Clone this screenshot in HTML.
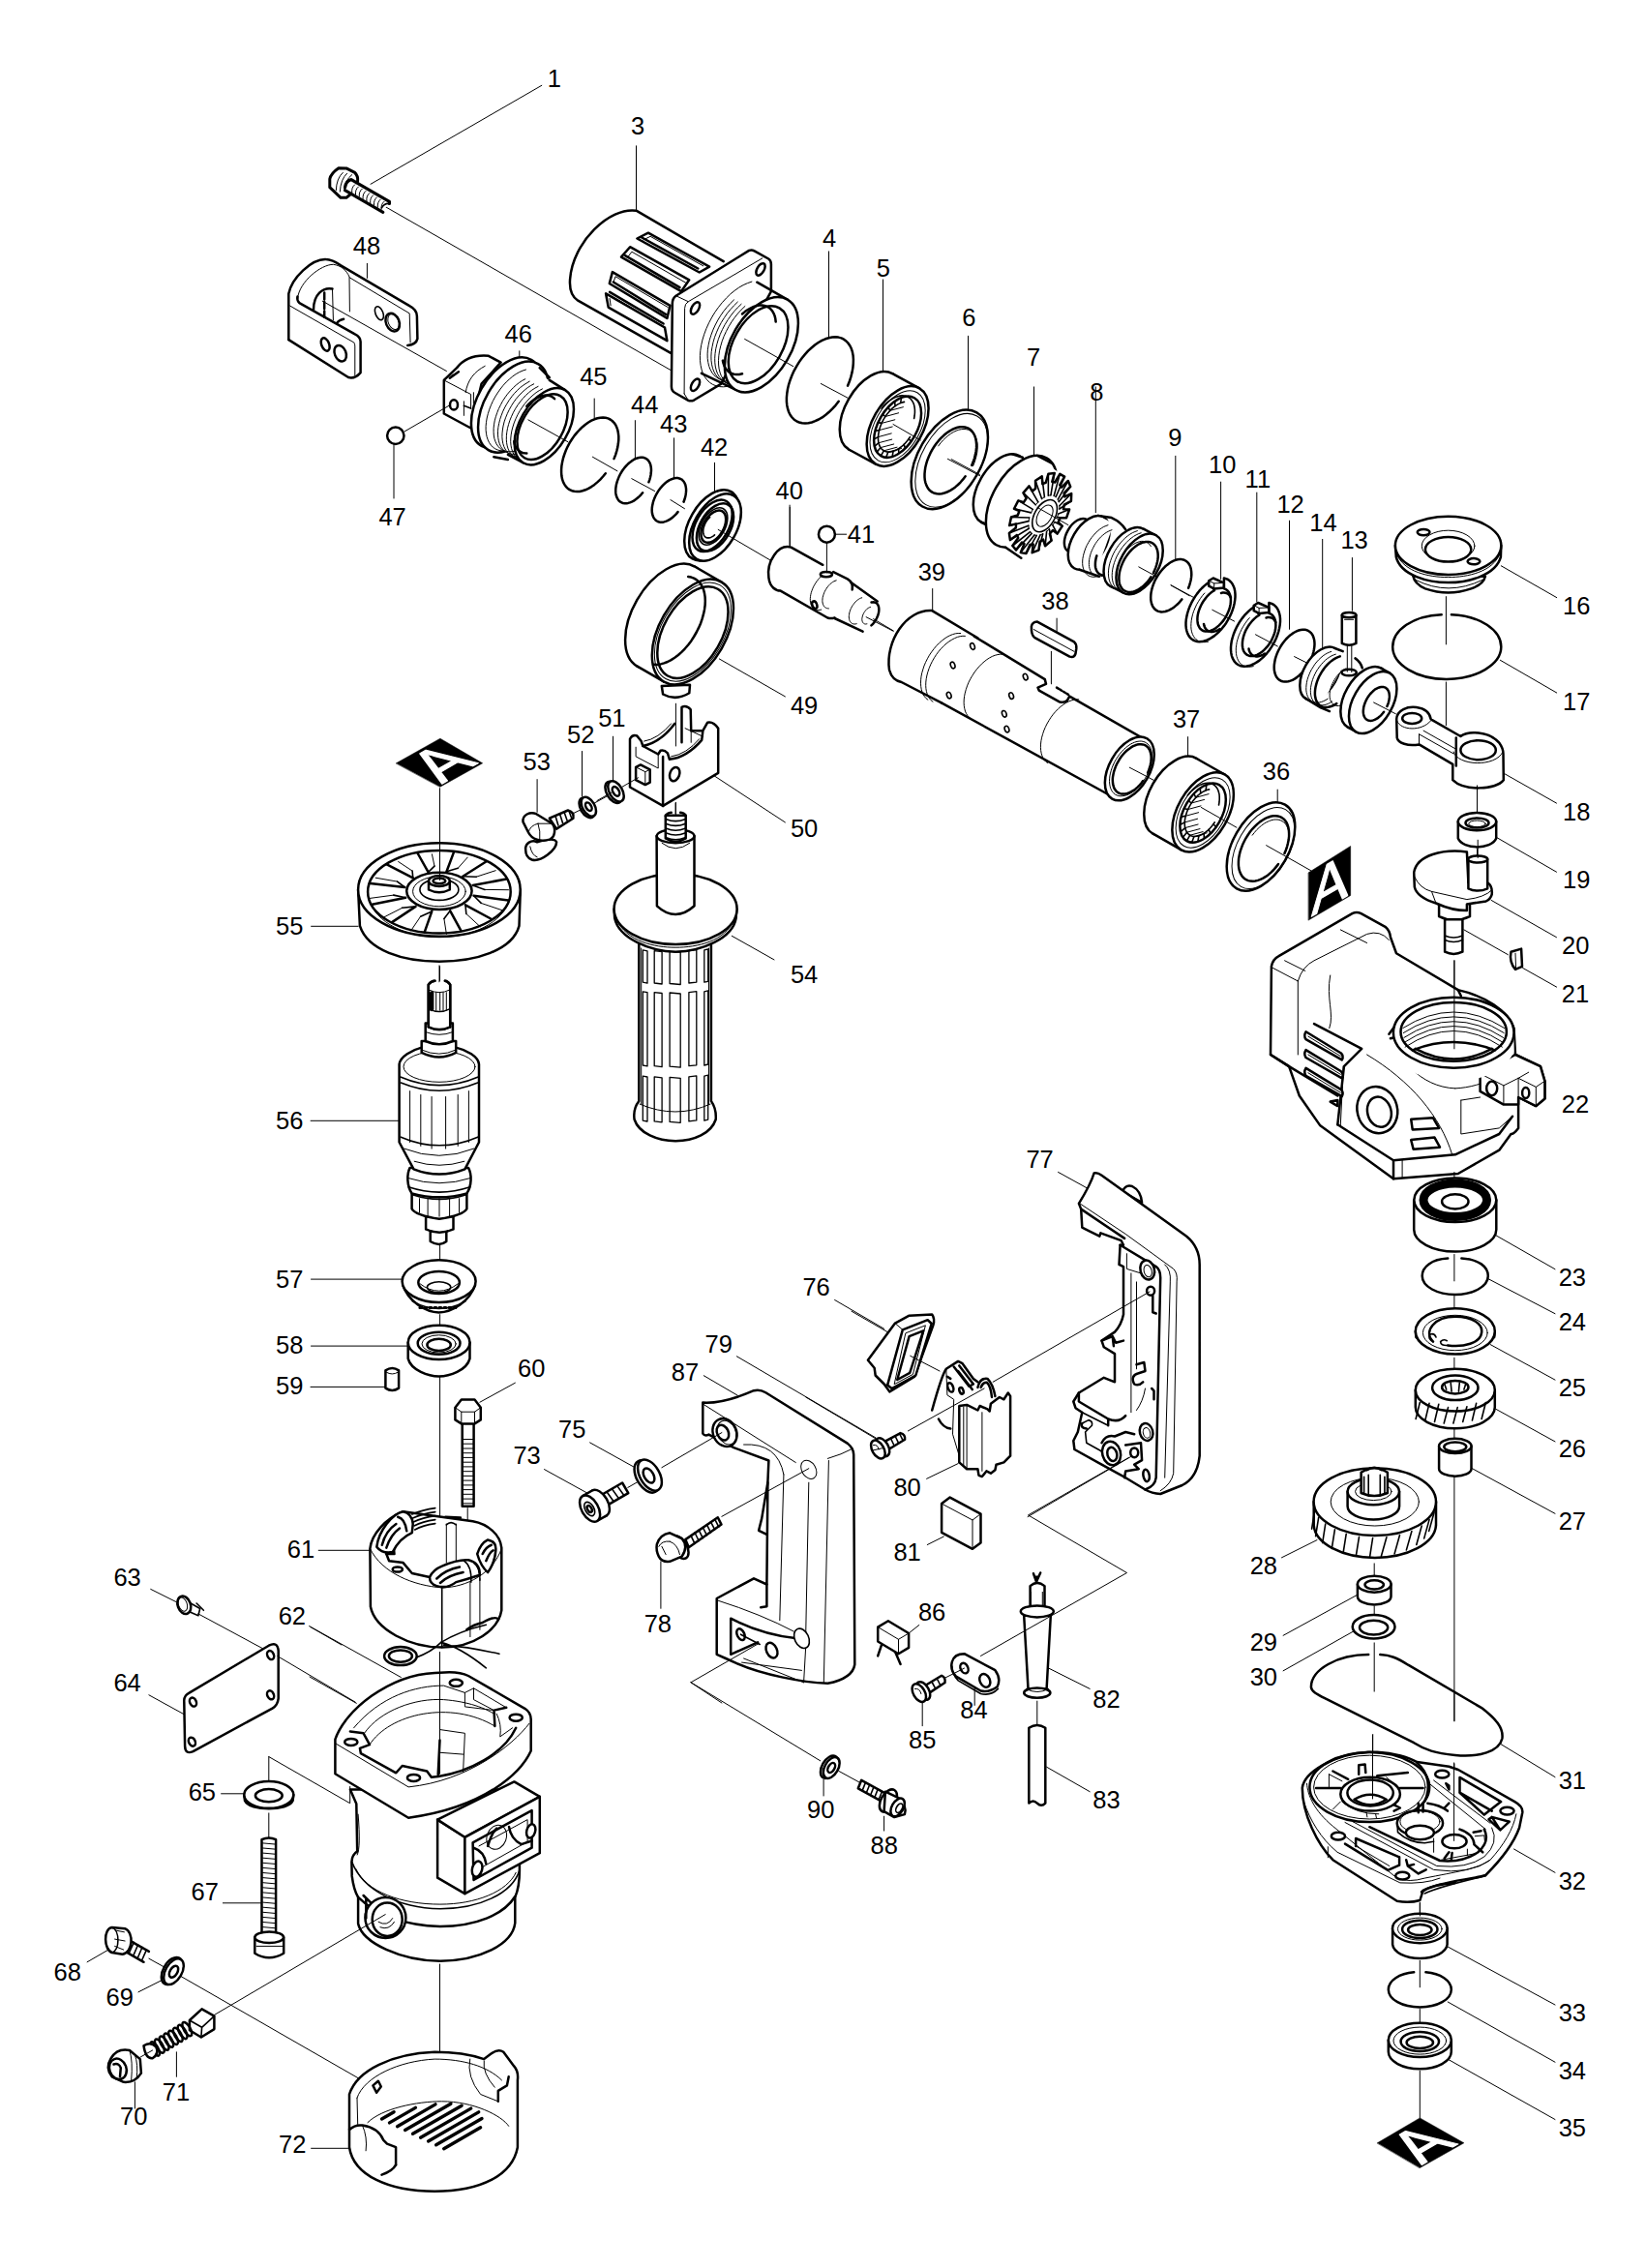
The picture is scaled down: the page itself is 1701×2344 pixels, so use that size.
<!DOCTYPE html>
<html><head><meta charset="utf-8"><title>Parts diagram</title>
<style>html,body{margin:0;padding:0;background:#fff}svg{display:block}text{font-family:"Liberation Sans",sans-serif;font-size:25.5px;fill:#000}</style>
</head><body>
<svg width="1701" height="2344" viewBox="0 0 1701 2344" stroke-linecap="round" stroke-linejoin="round">
<rect x="0" y="0" width="1701" height="2344" fill="#fff"/>
<line x1="657.5" y1="150.8" x2="657.5" y2="217.3" stroke="#000" stroke-width="1"/>
<path d="M 747.7,270.2 L 657.5,217.7 C 630.1,213.7 591.9,250.1 589.1,288.4 C 588.2,299.4 591,306.6 597.3,310.7 L 695.8,366.4" fill="#fff" stroke="#000" stroke-width="2.5" />
<polygon points="658.4,246.5 669.9,240.7 733.1,275.7 722.7,281.5" fill="#fff" stroke="#000" stroke-width="2.5" stroke-linejoin="round"/>
<polyline points="662.4,245 721.3,277.5" fill="none" stroke="#000" stroke-width="2.5" stroke-linejoin="round"/>
<polygon points="642,265.6 651.1,255.2 712.2,289.3 704,301.2" fill="#fff" stroke="#000" stroke-width="2.5" stroke-linejoin="round"/>
<polyline points="646,264.2 702.5,297.2" fill="none" stroke="#000" stroke-width="2.5" stroke-linejoin="round"/>
<polygon points="629.8,293 632.9,281.1 692.5,315.8 689.4,328.9" fill="#fff" stroke="#000" stroke-width="2.5" stroke-linejoin="round"/>
<polyline points="633.8,291.5 687.9,324.9" fill="none" stroke="#000" stroke-width="2.5" stroke-linejoin="round"/>
<polygon points="626.1,303.4 628.7,317.6 689.4,352.2 687,338.5" fill="#fff" stroke="#000" stroke-width="2.5" stroke-linejoin="round"/>
<polyline points="630.1,301.9 685.6,334.5" fill="none" stroke="#000" stroke-width="2.5" stroke-linejoin="round"/>
<polyline points="664.8,248 672.1,244.3 726.7,274.8" fill="none" stroke="#000" stroke-width="1" stroke-linejoin="round"/>
<polyline points="648.4,266.2 652.9,260.2 708.5,292.1" fill="none" stroke="#000" stroke-width="1" stroke-linejoin="round"/>
<polyline points="634.2,291.2 636,285.7 690.3,317.6" fill="none" stroke="#000" stroke-width="1" stroke-linejoin="round"/>
<polyline points="630.1,308.5 631.1,315.8" fill="none" stroke="#000" stroke-width="1" stroke-linejoin="round"/>
<line x1="632.9" y1="306.6" x2="687.6" y2="338.5" stroke="#000" stroke-width="1"/>
<path d="M 796.9,301.2 L 796.9,272.9 Q 796.9,269.3 794.2,267.5 L 779.6,259.3 Q 776.9,257.8 774.1,258.9 L 698.5,305.7 Q 694.8,308.5 694.8,313.9 L 693.9,399.6 Q 693.9,404.2 697.6,406 L 711.3,413.8 Q 714,415.1 717.6,413.3 L 745,396.9 L 796.9,301.2 Z" fill="#fff" stroke="#000" stroke-width="2.5" />
<path d="M 787.8,266.9 L 711.3,311.7 Q 707.6,313.9 707.6,318.5 L 707.1,406.9" fill="none" stroke="#000" stroke-width="1" />
<line x1="707.1" y1="406.9" x2="711.3" y2="413.8" stroke="#000" stroke-width="1"/>
<line x1="711.3" y1="311.7" x2="698.5" y2="305.7" stroke="#000" stroke-width="1"/>
<ellipse cx="786" cy="278.4" rx="6.9" ry="3.6" fill="#fff" stroke="#000" stroke-width="2.5" transform="rotate(-60 786 278.4)"/>
<ellipse cx="718.5" cy="318.5" rx="6.9" ry="3.6" fill="#fff" stroke="#000" stroke-width="2.5" transform="rotate(-60 718.5 318.5)"/>
<ellipse cx="718.5" cy="397.8" rx="6.9" ry="3.6" fill="#fff" stroke="#000" stroke-width="2.5" transform="rotate(-60 718.5 397.8)"/>
<polyline points="790.3,371.1 786.5,376 782.5,380.6 778.2,384.8 773.9,388.6 769.4,391.8 764.9,394.6 760.5,396.8 756,398.4 751.7,399.4 747.6,399.8 743.7,399.6 740,398.8 736.6,397.4 733.5,395.4 730.8,392.8 728.4,389.7 726.5,386.2 725.1,382.1 724.1,377.6 723.5,372.8 723.4,367.7 723.8,362.3 724.7,356.7 726,351 727.8,345.2 730,339.4 732.6,333.7 735.6,328 738.9,322.6 742.5,317.5 746.4,312.6 750.5,308.1 754.7,304 759.1,300.4 763.6,297.2 768.1,294.6 772.6,292.6 776.9,291.1" fill="none" stroke="#000" stroke-width="1" stroke-linejoin="round"/>
<polyline points="783.7,375.3 780,379.1 776.2,382.6 772.3,385.6 768.4,388.2 764.4,390.2 760.5,391.8 756.7,392.9 753,393.4 749.5,393.3 746.2,392.7 743.1,391.6 740.4,389.9 737.9,387.8 735.8,385.1 734.1,382 732.7,378.5 731.8,374.6 731.2,370.4 731.1,365.9 731.4,361.2 732.2,356.3 733.3,351.3 734.9,346.2 736.8,341.1 739.1,336 741.7,331.1 744.6,326.3 747.8,321.7 751.2,317.5 754.8,313.5 758.5,309.9" fill="none" stroke="#000" stroke-width="1" stroke-linejoin="round"/>
<polyline points="787.5,377.5 783.8,381.3 780,384.8 776.1,387.8 772.2,390.4 768.2,392.4 764.3,394 760.5,395 756.8,395.5 753.3,395.5 750,394.9 746.9,393.8 744.2,392.1 741.7,390 739.6,387.3 737.9,384.2 736.5,380.7 735.6,376.8 735,372.6 734.9,368.1 735.2,363.4 736,358.5 737.1,353.4 738.6,348.3 740.6,343.2 742.8,338.2 745.4,333.3 748.4,328.5 751.5,323.9 755,319.7 758.6,315.7 762.3,312.1" fill="none" stroke="#000" stroke-width="1" stroke-linejoin="round"/>
<polyline points="791.3,379.7 787.6,383.5 783.8,387 779.9,390 776,392.5 772,394.6 768.1,396.2 764.3,397.2 760.6,397.7 757.1,397.7 753.8,397.1 750.7,396 747.9,394.3 745.5,392.1 743.4,389.5 741.6,386.4 740.3,382.9 739.3,379 738.8,374.8 738.7,370.3 739,365.6 739.7,360.7 740.9,355.6 742.4,350.5 744.3,345.4 746.6,340.4 749.2,335.4 752.1,330.7 755.3,326.1 758.7,321.8 762.3,317.9 766.1,314.3" fill="none" stroke="#000" stroke-width="1" stroke-linejoin="round"/>
<polyline points="795.1,381.9 791.4,385.7 787.6,389.2 783.7,392.2 779.8,394.7 775.8,396.8 771.9,398.4 768.1,399.4 764.4,399.9 760.9,399.9 757.6,399.3 754.5,398.1 751.7,396.5 749.3,394.3 747.2,391.7 745.4,388.6 744.1,385.1 743.1,381.2 742.6,377 742.5,372.5 742.8,367.8 743.5,362.8 744.7,357.8 746.2,352.7 748.1,347.6 750.4,342.6 753,337.6 755.9,332.9 759.1,328.3 762.5,324 766.1,320.1 769.9,316.5" fill="none" stroke="#000" stroke-width="1" stroke-linejoin="round"/>
<path d="M 782.3,291.7 L 813.7,309.7" fill="none" stroke="#000" stroke-width="2.5" />
<path d="M 724.9,385.9 L 760.1,402.7" fill="none" stroke="#000" stroke-width="2.5" />
<ellipse cx="786.9" cy="356.2" rx="53.8" ry="31" fill="#fff" stroke="#000" stroke-width="2.5" transform="rotate(-60 786.9 356.2)"/>
<ellipse cx="783.6" cy="356.2" rx="43.7" ry="25.2" fill="#fff" stroke="#000" stroke-width="2.5" transform="rotate(-60 783.6 356.2)"/>
<polyline points="767,324.5 769.9,322.1 772.9,320 776,318.3 778.9,317 781.9,316.1 784.7,315.6 787.5,315.6 790,315.9 792.4,316.7 794.6,317.9 796.5,319.5 798.1,321.4 799.5,323.8 800.6,326.4 801.3,329.4 801.7,332.6" fill="none" stroke="#000" stroke-width="2.5" stroke-linejoin="round"/>
<polyline points="767,386.3 764,386.9 761.1,387.1 758.4,386.7 756,385.9 753.7,384.7 751.7,383 750,381 748.6,378.5 747.6,375.7 746.9,372.6" fill="none" stroke="#000" stroke-width="2.5" stroke-linejoin="round"/>
<line x1="769.6" y1="350.4" x2="819.7" y2="378.6" stroke="#000" stroke-width="1"/>
<line x1="559.8" y1="88.3" x2="383" y2="190.3" stroke="#000" stroke-width="1"/>
<line x1="397.6" y1="213.3" x2="692.9" y2="382.4" stroke="#000" stroke-width="1"/>
<path d="M 340.8,185 Q 341.9,179.2 349.9,173.7 L 357.9,173.9 L 366.7,178.4 Q 370.3,182.1 369.6,187.2 L 361.9,201 L 357.9,204.3 L 352.1,204.3 L 340.8,193.7 Z" fill="#fff" stroke="#000" stroke-width="3" />
<path d="M 354.3,178.4 Q 347.7,184.3 347.3,196.7 M 358.6,179.2 Q 352.1,185 351.3,198.1 M 363.7,180.6 Q 356.5,186.5 355.7,195.2" fill="none" stroke="#000" stroke-width="1" />
<path d="M 363,185.7 L 402.4,208.3 L 395.8,219.3 L 356.5,196.7 Q 356.5,189.4 363,185.7 Z" fill="#fff" stroke="#000" stroke-width="0" />
<path d="M 356.5,193.7 Q 357.9,186.5 363,185.7 L 402.4,208.3 L 402.4,210.5 M 356.5,196.7 L 395.8,219.3" fill="none" stroke="#000" stroke-width="3.2" />
<path d="M 366.7,190.8 Q 363,193.7 363.7,198.8" fill="none" stroke="#000" stroke-width="1" />
<path d="M 370.4,193 Q 366.8,195.9 367.5,201" fill="none" stroke="#000" stroke-width="1" />
<path d="M 374.2,195.2 Q 370.6,198.1 371.3,203.2" fill="none" stroke="#000" stroke-width="1" />
<path d="M 378,197.4 Q 374.4,200.3 375.1,205.4" fill="none" stroke="#000" stroke-width="1" />
<path d="M 381.8,199.6 Q 378.2,202.5 378.9,207.6" fill="none" stroke="#000" stroke-width="1" />
<path d="M 385.6,201.8 Q 382,204.7 382.7,209.8" fill="none" stroke="#000" stroke-width="1" />
<path d="M 389.4,203.9 Q 385.8,206.9 386.5,212" fill="none" stroke="#000" stroke-width="1" />
<path d="M 393.2,206.1 Q 389.6,209.1 390.3,214.2" fill="none" stroke="#000" stroke-width="1" />
<path d="M 397,208.3 Q 393.3,211.2 394.1,216.3" fill="none" stroke="#000" stroke-width="1" />
<path d="M 402.4,210.5 Q 397.3,209.8 394.4,214.9" fill="none" stroke="#000" stroke-width="1.6" />
<line x1="536.8" y1="362.8" x2="536.8" y2="370.1" stroke="#000" stroke-width="1"/>
<path d="M 517.6,374.7 L 504.9,367.8 C 490.3,366.5 479.4,371 472.1,380.1 L 458.8,392.9 L 458.8,427.5 L 486.6,442.5 L 497.6,396.5 Z" fill="#fff" stroke="#000" stroke-width="2.5" />
<path d="M 458.8,392.9 L 486.6,407.5 L 486.6,422.1" fill="none" stroke="#000" stroke-width="1" />
<path d="M 464.8,390.7 L 473.9,384.2 M 464.8,390.7 L 468.4,387.8" fill="none" stroke="#000" stroke-width="2.5" />
<ellipse cx="469" cy="418.4" rx="4" ry="5.1" fill="#fff" stroke="#000" stroke-width="2.5"/>
<path d="M 481.2,405.7 C 483,392.9 490.3,383.8 501.2,378.3" fill="none" stroke="#000" stroke-width="1" />
<path d="M 479.4,414.8 L 479.4,429.4 M 489.4,405.7 L 489.4,416.6" fill="none" stroke="#000" stroke-width="1" />
<path d="M 479.4,419.3 L 486.6,422.1" fill="none" stroke="#000" stroke-width="1.6" />
<ellipse cx="523.3" cy="416.4" rx="51.4" ry="29.7" fill="#fff" stroke="#000" stroke-width="2.5" transform="rotate(-60 523.3 416.4)"/>
<ellipse cx="530.4" cy="420.6" rx="51.4" ry="29.7" fill="#fff" stroke="#000" stroke-width="2.5" transform="rotate(-60 530.4 420.6)"/>
<polyline points="526.4,465.1 523.2,465.7 520,465.9 517,465.7 514.3,465 511.7,463.8 509.4,462.2 507.4,460.1 505.7,457.7 504.3,454.8 503.2,451.7 502.5,448.2 502.1,444.5 502.1,440.5 502.5,436.3 503.2,432 504.3,427.6 505.7,423.2 507.4,418.8 509.4,414.4 511.7,410.1 514.3,406 517.1,402 520,398.3 523.2,394.9 526.5,391.8 529.8,389 533.2,386.6 536.7,384.6 540.1,383.1 543.5,382" fill="none" stroke="#000" stroke-width="1" stroke-linejoin="round"/>
<path d="M 584,403.1 L 552.3,383.8 L 510.3,458.5 L 540.6,478.2 Z" fill="#fff" stroke="#000" stroke-width="0" />
<path d="M 557.7,380.1 L 567.8,390.2 M 567.8,392.9 L 584,403.1 M 524.9,469.8 L 540.6,478.2 M 510.3,472.2 L 524.9,474.9" fill="none" stroke="#000" stroke-width="2.5" />
<polyline points="548,457 544.9,459.6 541.7,461.8 538.5,463.6 535.3,465.1 532.2,466.1 529.2,466.7 526.3,466.8 523.5,466.5 521,465.8 518.6,464.7 516.5,463.2 514.7,461.2 513.1,458.9 511.9,456.2 510.9,453.3 510.3,450 510.1,446.5 510.1,442.8 510.5,438.9 511.2,434.9 512.3,430.8 513.7,426.7 515.3,422.6 517.3,418.6 519.4,414.6 521.9,410.8 524.5,407.2 527.3,403.9 530.3,400.8 533.3,398 536.5,395.5 539.6,393.4 542.8,391.7" fill="none" stroke="#000" stroke-width="1" stroke-linejoin="round"/>
<polyline points="552.4,459.6 549.3,462.1 546.1,464.3 542.9,466.2 539.8,467.6 536.6,468.6 533.6,469.2 530.7,469.4 528,469.1 525.4,468.4 523.1,467.3 521,465.7 519.1,463.8 517.6,461.5 516.3,458.8 515.4,455.8 514.8,452.6 514.5,449.1 514.5,445.3 514.9,441.5 515.7,437.5 516.7,433.4 518.1,429.3 519.7,425.2 521.7,421.1 523.9,417.2 526.3,413.4 528.9,409.8 531.7,406.4 534.7,403.3 537.7,400.5 540.9,398.1 544.1,396 547.2,394.2" fill="none" stroke="#000" stroke-width="1" stroke-linejoin="round"/>
<polyline points="556.8,462.1 553.7,464.7 550.5,466.9 547.3,468.7 544.2,470.2 541.1,471.2 538,471.8 535.1,471.9 532.4,471.6 529.8,470.9 527.5,469.8 525.4,468.3 523.5,466.3 522,464 520.7,461.3 519.8,458.4 519.2,455.1 518.9,451.6 519,447.9 519.4,444 520.1,440 521.1,435.9 522.5,431.8 524.2,427.7 526.1,423.7 528.3,419.7 530.7,415.9 533.3,412.3 536.1,409 539.1,405.9 542.2,403.1 545.3,400.6 548.5,398.5 551.7,396.8" fill="none" stroke="#000" stroke-width="1" stroke-linejoin="round"/>
<polyline points="561.2,464.7 558.1,467.2 555,469.5 551.8,471.3 548.6,472.7 545.5,473.7 542.5,474.3 539.6,474.5 536.8,474.2 534.2,473.5 531.9,472.4 529.8,470.8 527.9,468.9 526.4,466.6 525.1,463.9 524.2,460.9 523.6,457.7 523.3,454.2 523.4,450.4 523.8,446.6 524.5,442.6 525.6,438.5 526.9,434.4 528.6,430.3 530.5,426.2 532.7,422.3 535.1,418.5 537.8,414.9 540.6,411.5 543.5,408.4 546.6,405.6 549.7,403.2 552.9,401.1 556.1,399.4" fill="none" stroke="#000" stroke-width="1" stroke-linejoin="round"/>
<polyline points="565.7,467.2 562.5,469.8 559.4,472 556.2,473.8 553,475.3 549.9,476.3 546.9,476.9 544,477 541.2,476.8 538.7,476 536.3,474.9 534.2,473.4 532.4,471.4 530.8,469.1 529.6,466.4 528.6,463.5 528,460.2 527.7,456.7 527.8,453 528.2,449.1 528.9,445.1 530,441 531.3,436.9 533,432.8 534.9,428.8 537.1,424.8 539.6,421 542.2,417.4 545,414.1 547.9,411 551,408.2 554.1,405.7 557.3,403.6 560.5,401.9" fill="none" stroke="#000" stroke-width="1" stroke-linejoin="round"/>
<ellipse cx="562.3" cy="440.7" rx="43.4" ry="25" fill="#fff" stroke="#000" stroke-width="2.5" transform="rotate(-60 562.3 440.7)"/>
<ellipse cx="560.5" cy="441.2" rx="37" ry="21.3" fill="#fff" stroke="#000" stroke-width="2.5" transform="rotate(-60 560.5 441.2)"/>
<polyline points="544.3,419.9 546.6,417.4 549,415.3 551.4,413.4 553.9,411.8 556.4,410.5 558.9,409.5 561.3,408.9 563.6,408.5 565.8,408.6 567.9,409 569.8,409.7 571.5,410.8 573.1,412.1" fill="none" stroke="#000" stroke-width="2.5" stroke-linejoin="round"/>
<polyline points="544.3,468.4 542.1,468.3 540,467.9 538.2,467.1 536.5,466.1 535,464.7 533.7,463 532.6,461 531.8,458.8 531.2,456.3" fill="none" stroke="#000" stroke-width="2.5" stroke-linejoin="round"/>
<line x1="545.9" y1="433.9" x2="586.9" y2="456.7" stroke="#000" stroke-width="1"/>
<ellipse cx="408.8" cy="450.3" rx="8.7" ry="8.7" fill="#fff" stroke="#000" stroke-width="2.5"/>
<line x1="418.3" y1="445.8" x2="464.8" y2="418.8" stroke="#000" stroke-width="1"/>
<line x1="407" y1="459.4" x2="407" y2="515" stroke="#000" stroke-width="1"/>
<polyline points="625.8,489.2 623.1,492.5 620.3,495.6 617.3,498.4 614.3,500.9 611.2,503.1 608.1,504.9 605,506.3 602,507.3 599,507.9 596.2,508.1 593.5,507.8 591,507.2 588.7,506.1 586.6,504.7 584.8,502.8 583.3,500.6 582,498.1 581,495.2 580.4,492.1 580.1,488.7 580.1,485.1 580.4,481.4 581.1,477.5 582,473.5 583.3,469.5 584.8,465.5 586.6,461.6 588.7,457.7 591,454 593.5,450.4 596.2,447.1 599.1,444 602,441.2 605,438.7 608.1,436.5 611.2,434.7 614.3,433.3 617.4,432.3 620.3,431.7 623.1,431.6 625.8,431.8 628.3,432.4 630.6,433.5 632.7,435 634.5,436.8 636.1,439 637.3,441.6 638.3,444.4 638.9,447.6 639.3,450.9 639.3,454.5 638.9,458.3 638.3,462.1 637.3,466.1 636.1,470.1 634.5,474.1" fill="none" stroke="#000" stroke-width="2.5" stroke-linejoin="round"/>
<line x1="614.2" y1="412" x2="614.2" y2="432.1" stroke="#000" stroke-width="1"/>
<line x1="612.4" y1="472.2" x2="637.9" y2="486.8" stroke="#000" stroke-width="1"/>
<polyline points="664.1,509.2 662.4,511.3 660.6,513.1 658.7,514.8 656.8,516.3 654.9,517.6 652.9,518.6 651,519.4 649.1,519.9 647.3,520.2 645.6,520.2 643.9,520 642.4,519.4 641.1,518.7 639.8,517.7 638.8,516.4 637.9,514.9 637.2,513.3 636.6,511.4 636.3,509.4 636.2,507.2 636.3,504.9 636.6,502.6 637.1,500.1 637.8,497.6 638.7,495.1 639.7,492.6 640.9,490.2 642.3,487.8 643.8,485.5 645.4,483.4 647.2,481.4 649,479.5 650.8,477.9 652.8,476.4 654.7,475.2 656.6,474.2 658.5,473.5 660.4,473 662.2,472.8 663.9,472.8 665.5,473.1 667,473.7 668.4,474.5 669.6,475.5 670.6,476.8 671.5,478.3 672.2,480.1 672.6,481.9 672.9,484 673,486.2 672.8,488.5 672.5,490.9 672,493.3 671.3,495.8 670.4,498.3" fill="none" stroke="#000" stroke-width="2.5" stroke-linejoin="round"/>
<polyline points="700.5,529.1 698.9,531.1 697.1,532.9 695.3,534.5 693.5,535.9 691.6,537.2 689.8,538.2 687.9,538.9 686.1,539.4 684.4,539.7 682.7,539.7 681.2,539.5 679.7,539 678.4,538.2 677.2,537.2 676.2,536 675.3,534.6 674.6,533 674.1,531.2 673.8,529.3 673.7,527.2 673.8,525 674.1,522.7 674.6,520.4 675.2,518 676.1,515.6 677.1,513.2 678.3,510.8 679.6,508.6 681,506.4 682.6,504.3 684.3,502.4 686,500.6 687.8,499 689.6,497.6 691.5,496.4 693.3,495.5 695.2,494.8 697,494.3 698.7,494.1 700.4,494.1 701.9,494.4 703.3,495 704.7,495.7 705.8,496.8 706.8,498 707.6,499.4 708.3,501.1 708.7,502.9 709,504.9 709.1,507 708.9,509.2 708.6,511.5 708.1,513.9 707.4,516.3 706.5,518.7" fill="none" stroke="#000" stroke-width="2.5" stroke-linejoin="round"/>
<line x1="652.8" y1="494.7" x2="676.5" y2="507.5" stroke="#000" stroke-width="1"/>
<line x1="692.9" y1="516.6" x2="707.5" y2="525.7" stroke="#000" stroke-width="1"/>
<line x1="656.4" y1="434.6" x2="656.4" y2="474.7" stroke="#000" stroke-width="1"/>
<line x1="696.5" y1="452.8" x2="696.5" y2="494" stroke="#000" stroke-width="1"/>
<line x1="738.5" y1="478.3" x2="738.5" y2="507.5" stroke="#000" stroke-width="1"/>
<line x1="816.1" y1="522.1" x2="816.1" y2="564" stroke="#000" stroke-width="1"/>
<ellipse cx="735.5" cy="542.8" rx="40" ry="23.1" fill="#fff" stroke="#000" stroke-width="2.5" transform="rotate(-60 735.5 542.8)"/>
<ellipse cx="739" cy="545" rx="38" ry="21.9" fill="#fff" stroke="#000" stroke-width="2.5" transform="rotate(-60 739 545)"/>
<ellipse cx="739" cy="545" rx="27" ry="15.6" fill="#fff" stroke="#000" stroke-width="2.5" transform="rotate(-60 739 545)"/>
<ellipse cx="737" cy="544" rx="21" ry="12.1" fill="#fff" stroke="#000" stroke-width="1.6" transform="rotate(-60 737 544)"/>
<line x1="379.4" y1="272.4" x2="379.4" y2="287.4" stroke="#000" stroke-width="1"/>
<path d="M 298.3,351.1 L 298.3,303.5 C 301.7,286.9 322.1,267.5 336.7,268 C 342.5,268 347.4,270.9 352.2,274.3 L 423.2,316.1 Q 430.9,320 430.9,326.8 L 431.4,350.1 Q 430,356 421.2,356.9" fill="none" stroke="#000" stroke-width="2.5" />
<path d="M 298.3,351.1 L 360,390 Q 366.8,391.9 372.6,385.1 L 372.6,353 Q 372.6,348.2 366.8,345.3 L 309.4,313.2 Q 306.5,310.3 307.5,306.4" fill="none" stroke="#000" stroke-width="2.5" />
<path d="M 307.5,308.3 C 309.4,290.8 331.8,273.3 344.4,273.3 C 352.2,274.3 358,279.2 361,286 L 361.4,321.9" fill="none" stroke="#000" stroke-width="1" />
<path d="M 361.4,286.9 L 423.2,323.9 L 424.1,354" fill="none" stroke="#000" stroke-width="1" />
<path d="M 299.7,316.1 L 365.8,354 Q 366.8,355 366.8,357.9 L 366.8,388" fill="none" stroke="#000" stroke-width="1" />
<path d="M 324,320 C 324,304.4 333.7,296.7 343.5,298.6" fill="none" stroke="#000" stroke-width="2.5" />
<path d="M 343.5,298.6 L 344.4,330.7" fill="none" stroke="#000" stroke-width="1" />
<path d="M 335.2,302.5 L 335.2,327.8" fill="none" stroke="#000" stroke-width="2.5" stroke-dasharray="7 2.5"/>
<path d="M 348.3,333.6 Q 350.3,330.7 355.1,329.7" fill="none" stroke="#000" stroke-width="2.5" />
<ellipse cx="391.9" cy="323.7" rx="3.9" ry="7.3" fill="none" stroke="#000" stroke-width="1.6" transform="rotate(-22 391.9 323.7)"/>
<ellipse cx="405.7" cy="333.1" rx="6.8" ry="9.7" fill="none" stroke="#000" stroke-width="2.5" transform="rotate(-22 405.7 333.1)"/>
<ellipse cx="406.6" cy="332.6" rx="5.3" ry="8.3" fill="none" stroke="#000" stroke-width="1" transform="rotate(-22 406.6 332.6)"/>
<ellipse cx="336.2" cy="356" rx="3.9" ry="7" fill="none" stroke="#000" stroke-width="2.5" transform="rotate(-22 336.2 356)"/>
<ellipse cx="351.7" cy="365.2" rx="5.8" ry="8.6" fill="none" stroke="#000" stroke-width="2.5" transform="rotate(-22 351.7 365.2)"/>
<line x1="333.3" y1="311.2" x2="461.4" y2="383.5" stroke="#000" stroke-width="1"/>
<line x1="856.5" y1="259.9" x2="856.5" y2="348.3" stroke="#000" stroke-width="1"/>
<polyline points="866.7,414.8 863.6,418.8 860.3,422.4 856.8,425.8 853.3,428.8 849.7,431.4 846,433.5 842.4,435.2 838.9,436.5 835.4,437.2 832,437.5 828.9,437.3 825.9,436.5 823.2,435.3 820.7,433.7 818.6,431.5 816.7,429 815.2,426 814.1,422.7 813.3,419 812.9,415.1 812.9,410.9 813.3,406.5 814,402 815.1,397.3 816.6,392.7 818.4,388 820.5,383.3 823,378.8 825.7,374.4 828.6,370.3 831.8,366.4 835.1,362.7 838.6,359.5 842.1,356.5 845.7,354 849.4,351.9 853,350.3 856.5,349.2 860,348.5 863.3,348.3 866.4,348.6 869.4,349.4 872,350.7 874.4,352.5 876.5,354.7 878.3,357.3 879.8,360.3 880.9,363.7 881.6,367.4 881.9,371.4 881.8,375.7 881.4,380.1 880.6,384.6 879.4,389.3 877.9,394 876,398.7" fill="none" stroke="#000" stroke-width="2.5" stroke-linejoin="round"/>
<line x1="848.3" y1="396.5" x2="877.5" y2="412" stroke="#000" stroke-width="1"/>
<line x1="912.5" y1="289" x2="912.5" y2="384.2" stroke="#000" stroke-width="1"/>
<path d="M 922.3,386.2 L 950.2,401.3 L 905,479.7 L 877.1,464.5 Z" fill="#fff" stroke="#000" stroke-width="0" />
<ellipse cx="899.7" cy="425.3" rx="45.2" ry="26.1" fill="#fff" stroke="#000" stroke-width="2.5" transform="rotate(-60 899.7 425.3)"/>
<path d="M 922.3,386.2 L 950.2,401.3 L 905,479.7 L 877.1,464.5 Z" fill="#fff" stroke="#000" stroke-width="0" />
<path d="M 922.3,386.2 L 950.2,401.3 M 877.1,464.5 L 905,479.7" fill="none" stroke="#000" stroke-width="2.5" />
<ellipse cx="927.6" cy="440.5" rx="45.2" ry="26.1" fill="#fff" stroke="#000" stroke-width="2.5" transform="rotate(-60 927.6 440.5)"/>
<ellipse cx="927.6" cy="440.8" rx="40.5" ry="23.3" fill="none" stroke="#000" stroke-width="1" transform="rotate(-60 927.6 440.8)"/>
<ellipse cx="927.6" cy="441.2" rx="34.6" ry="20" fill="#fff" stroke="#000" stroke-width="2.5" transform="rotate(-60 927.6 441.2)"/>
<polyline points="911,422.2 913.2,419.6 915.5,417.3 917.9,415.2 920.3,413.4 922.8,411.8 925.2,410.6 927.6,409.7 930,409.1 932.3,408.9 934.4,409 936.4,409.4 938.3,410.2 940,411.2 941.5,412.7 942.7,414.4 943.8,416.3 944.6,418.6 945.1,421 945.4,423.7 945.4,426.5 945.1,429.5 944.6,432.5" fill="none" stroke="#000" stroke-width="1.6" stroke-linejoin="round"/>
<polyline points="940.5,451.5 938.8,454 937,456.2 935.1,458.4 933.1,460.3 931.1,462 929,463.5 926.9,464.8 924.8,465.8 922.7,466.5 920.7,467 918.8,467.2 916.9,467 915.2,466.6 913.6,466 912.2,465 910.9,463.8 909.8,462.4 908.9,460.7 908.3,458.8 907.8,456.7 907.5,454.4 907.5,452 907.7,449.5 908.1,446.9 908.7,444.2 909.5,441.5 910.5,438.7 911.7,436.1 913.1,433.4 914.7,430.9 916.3,428.5 918.2,426.2 920.1,424 922,422.1 924.1,420.4 926.2,418.9 928.3,417.6 930.4,416.6 932.5,415.9 934.5,415.4" fill="none" stroke="#000" stroke-width="1.6" stroke-linejoin="round"/>
<line x1="941.5" y1="456.1" x2="939.1" y2="453.6" stroke="#000" stroke-width="1.6"/>
<line x1="935.5" y1="463.1" x2="934.1" y2="459.4" stroke="#000" stroke-width="1.6"/>
<line x1="928.8" y1="468.4" x2="928.6" y2="463.8" stroke="#000" stroke-width="1.6"/>
<line x1="922.1" y1="471.6" x2="923.1" y2="466.4" stroke="#000" stroke-width="1.6"/>
<line x1="915.8" y1="472.5" x2="917.8" y2="467.1" stroke="#000" stroke-width="1.6"/>
<line x1="917.8" y1="467.1" x2="931.5" y2="463.5" stroke="#000" stroke-width="1"/>
<line x1="910.4" y1="470.9" x2="913.4" y2="465.8" stroke="#000" stroke-width="1.6"/>
<line x1="913.4" y1="465.8" x2="927" y2="462.2" stroke="#000" stroke-width="1"/>
<line x1="906.4" y1="467" x2="910" y2="462.6" stroke="#000" stroke-width="1.6"/>
<line x1="910" y1="462.6" x2="923.7" y2="459" stroke="#000" stroke-width="1"/>
<line x1="904" y1="461.1" x2="908" y2="457.7" stroke="#000" stroke-width="1.6"/>
<line x1="908" y1="457.7" x2="921.7" y2="454.1" stroke="#000" stroke-width="1"/>
<line x1="903.4" y1="453.7" x2="907.5" y2="451.6" stroke="#000" stroke-width="1.6"/>
<line x1="907.5" y1="451.6" x2="921.2" y2="447.9" stroke="#000" stroke-width="1"/>
<line x1="904.7" y1="445.3" x2="908.6" y2="444.6" stroke="#000" stroke-width="1.6"/>
<line x1="908.6" y1="444.6" x2="922.2" y2="441" stroke="#000" stroke-width="1"/>
<line x1="907.7" y1="436.6" x2="911.1" y2="437.4" stroke="#000" stroke-width="1.6"/>
<line x1="911.1" y1="437.4" x2="924.8" y2="433.8" stroke="#000" stroke-width="1"/>
<line x1="912.3" y1="428.3" x2="914.9" y2="430.5" stroke="#000" stroke-width="1.6"/>
<line x1="914.9" y1="430.5" x2="928.6" y2="426.8" stroke="#000" stroke-width="1"/>
<line x1="918.1" y1="420.9" x2="919.7" y2="424.4" stroke="#000" stroke-width="1.6"/>
<line x1="919.7" y1="424.4" x2="933.4" y2="420.7" stroke="#000" stroke-width="1"/>
<line x1="924.6" y1="415.1" x2="925.1" y2="419.6" stroke="#000" stroke-width="1.6"/>
<line x1="931.4" y1="411.4" x2="930.7" y2="416.5" stroke="#000" stroke-width="1.6"/>
<line x1="923" y1="438.5" x2="951.3" y2="454.9" stroke="#000" stroke-width="1"/>
<line x1="1000.5" y1="347.3" x2="1000.5" y2="424.8" stroke="#000" stroke-width="1"/>
<ellipse cx="981.3" cy="474.9" rx="56.1" ry="32.4" fill="#fff" stroke="#000" stroke-width="2.5" transform="rotate(-60 981.3 474.9)"/>
<ellipse cx="983.2" cy="475.8" rx="52.9" ry="30.5" fill="none" stroke="#000" stroke-width="1" transform="rotate(-60 983.2 475.8)"/>
<polyline points="997.6,492.3 995.2,495.4 992.7,498.3 990,501 987.2,503.4 984.4,505.4 981.6,507.2 978.8,508.5 976,509.5 973.2,510.2 970.6,510.4 968.1,510.3 965.8,509.8 963.7,508.9 961.7,507.6 960,506 958.6,504 957.4,501.7 956.5,499.1 955.8,496.3 955.5,493.2 955.5,489.9 955.8,486.5 956.3,483 957.2,479.4 958.3,475.7 959.8,472 961.4,468.4 963.3,464.9 965.4,461.5 967.7,458.2 970.2,455.2 972.8,452.4 975.5,449.8 978.3,447.5 981.1,445.6 983.9,444 986.8,442.7 989.5,441.8 992.2,441.3 994.8,441.2 997.2,441.5 999.5,442.2 1001.6,443.2 1003.4,444.6 1005,446.4 1006.4,448.5 1007.5,450.8 1008.3,453.5 1008.8,456.4 1009.1,459.6 1009,462.9 1008.6,466.4 1007.9,469.9 1007,473.6 1005.7,477.3 1004.2,480.9" fill="none" stroke="#000" stroke-width="2.5" stroke-linejoin="round"/>
<polyline points="969.7,460.9 972,457.9 974.5,455 977.1,452.5 979.8,450.2 982.6,448.2 985.3,446.5 988.1,445.2 990.8,444.2 993.4,443.7 996,443.5 998.4,443.7 1000.6,444.2 1002.7,445.2 1004.5,446.5 1006.1,448.1 1007.5,450.1 1008.6,452.4 1009.4,455 1010,457.8 1010.2,460.9 1010.1,464.1 1009.8,467.5 1009.1,470.9 1008.2,474.5 1007,478.1 1005.6,481.6" fill="none" stroke="#000" stroke-width="1" stroke-linejoin="round"/>
<line x1="983.2" y1="474.6" x2="1012.3" y2="490.4" stroke="#000" stroke-width="1"/>
<line x1="1068.5" y1="399.9" x2="1068.5" y2="471.3" stroke="#000" stroke-width="1"/>
<line x1="979.4" y1="474.3" x2="1012.8" y2="491.8" stroke="#000" stroke-width="1"/>
<ellipse cx="1033.7" cy="505.4" rx="39.5" ry="22.8" fill="#fff" stroke="#000" stroke-width="2.5" transform="rotate(-60 1033.7 505.4)"/>
<path d="M 1053.5,471.3 L 1072,481.1 L 1035.6,541.1 L 1017.3,542.6 Z" fill="#fff" stroke="#000" stroke-width="0" />
<path d="M 1046.2,469.4 L 1056.8,472.8 M 1014,539.6 L 1021.1,543.4" fill="none" stroke="#000" stroke-width="2.5" />
<ellipse cx="1055.6" cy="518.3" rx="51.9" ry="30" fill="#fff" stroke="#000" stroke-width="2.5" transform="rotate(-60 1055.6 518.3)"/>
<path d="M 1072,471 L 1089.5,484.9 L 1111.5,500.1 L 1110,521.4 L 1056.8,576.8 L 1039.2,565.7 Z" fill="#fff" stroke="#000" stroke-width="0" />
<path d="M 1072,471 L 1087.2,478.9 M 1039.2,565.7 L 1055.3,576.8" fill="none" stroke="#000" stroke-width="2.5" />
<polyline points="1095.3,489.9 1089.2,512.4" fill="none" stroke="#000" stroke-width="1.6" stroke-linejoin="round"/>
<polyline points="1100.1,492.6 1091.2,513.5" fill="none" stroke="#000" stroke-width="1.6" stroke-linejoin="round"/>
<polyline points="1089.2,512.4 1091.2,513.5" fill="none" stroke="#000" stroke-width="1" stroke-linejoin="round"/>
<polyline points="1103.8,497 1093.3,516.1" fill="none" stroke="#000" stroke-width="1.6" stroke-linejoin="round"/>
<polyline points="1106.2,502.9 1094.3,518.6" fill="none" stroke="#000" stroke-width="1.6" stroke-linejoin="round"/>
<polyline points="1093.3,516.1 1094.3,518.6" fill="none" stroke="#000" stroke-width="1" stroke-linejoin="round"/>
<polyline points="1107.2,510 1094.9,522.7" fill="none" stroke="#000" stroke-width="1.6" stroke-linejoin="round"/>
<polyline points="1106.9,517.9 1094.8,526" fill="none" stroke="#000" stroke-width="1.6" stroke-linejoin="round"/>
<polyline points="1094.9,522.7 1094.8,526" fill="none" stroke="#000" stroke-width="1" stroke-linejoin="round"/>
<polyline points="1105.1,526.5 1093.8,531" fill="none" stroke="#000" stroke-width="1.6" stroke-linejoin="round"/>
<polyline points="1102.1,535.2 1092.5,534.6" fill="none" stroke="#000" stroke-width="1.6" stroke-linejoin="round"/>
<polyline points="1093.8,531 1092.5,534.6" fill="none" stroke="#000" stroke-width="1" stroke-linejoin="round"/>
<polyline points="1097.8,543.6 1090,539.5" fill="none" stroke="#000" stroke-width="1.6" stroke-linejoin="round"/>
<polyline points="1092.6,551.6 1087.9,542.8" fill="none" stroke="#000" stroke-width="1.6" stroke-linejoin="round"/>
<polyline points="1090,539.5 1087.9,542.8" fill="none" stroke="#000" stroke-width="1" stroke-linejoin="round"/>
<polyline points="1086.6,558.6 1084.4,546.9" fill="none" stroke="#000" stroke-width="1.6" stroke-linejoin="round"/>
<polyline points="1080.1,564.3 1081.6,549.3" fill="none" stroke="#000" stroke-width="1.6" stroke-linejoin="round"/>
<polyline points="1084.4,546.9 1081.6,549.3" fill="none" stroke="#000" stroke-width="1" stroke-linejoin="round"/>
<polyline points="1073.4,568.6 1077.7,551.8" fill="none" stroke="#000" stroke-width="1.6" stroke-linejoin="round"/>
<polyline points="1066.7,571.2 1075,552.9" fill="none" stroke="#000" stroke-width="1.6" stroke-linejoin="round"/>
<polyline points="1077.7,551.8 1075,552.9" fill="none" stroke="#000" stroke-width="1" stroke-linejoin="round"/>
<polyline points="1060.4,572.1 1071.3,553.4" fill="none" stroke="#000" stroke-width="1.6" stroke-linejoin="round"/>
<polyline points="1054.8,571.1 1068.9,553" fill="none" stroke="#000" stroke-width="1.6" stroke-linejoin="round"/>
<polyline points="1071.3,553.4 1068.9,553" fill="none" stroke="#000" stroke-width="1" stroke-linejoin="round"/>
<polyline points="1050,568.4 1066.2,551.4" fill="none" stroke="#000" stroke-width="1.6" stroke-linejoin="round"/>
<polyline points="1046.4,564 1064.6,549.6" fill="none" stroke="#000" stroke-width="1.6" stroke-linejoin="round"/>
<polyline points="1066.2,551.4 1064.6,549.6" fill="none" stroke="#000" stroke-width="1" stroke-linejoin="round"/>
<polyline points="1043.9,558.1 1063.2,546.2" fill="none" stroke="#000" stroke-width="1.6" stroke-linejoin="round"/>
<polyline points="1042.9,551 1062.8,543.2" fill="none" stroke="#000" stroke-width="1.6" stroke-linejoin="round"/>
<polyline points="1063.2,546.2 1062.8,543.2" fill="none" stroke="#000" stroke-width="1" stroke-linejoin="round"/>
<polyline points="1043.2,543.1 1063,538.6" fill="none" stroke="#000" stroke-width="1.6" stroke-linejoin="round"/>
<polyline points="1045,534.5 1063.7,535" fill="none" stroke="#000" stroke-width="1.6" stroke-linejoin="round"/>
<polyline points="1063,538.6 1063.7,535" fill="none" stroke="#000" stroke-width="1" stroke-linejoin="round"/>
<polyline points="1048,525.8 1065.5,529.9" fill="none" stroke="#000" stroke-width="1.6" stroke-linejoin="round"/>
<polyline points="1052.3,517.4 1067.3,526.4" fill="none" stroke="#000" stroke-width="1.6" stroke-linejoin="round"/>
<polyline points="1065.5,529.9 1067.3,526.4" fill="none" stroke="#000" stroke-width="1" stroke-linejoin="round"/>
<polyline points="1057.5,509.4 1070.3,521.8" fill="none" stroke="#000" stroke-width="1.6" stroke-linejoin="round"/>
<polyline points="1063.5,502.4 1072.8,518.9" fill="none" stroke="#000" stroke-width="1.6" stroke-linejoin="round"/>
<polyline points="1070.3,521.8 1072.8,518.9" fill="none" stroke="#000" stroke-width="1" stroke-linejoin="round"/>
<polyline points="1070,496.7 1076.6,515.5" fill="none" stroke="#000" stroke-width="1.6" stroke-linejoin="round"/>
<polyline points="1076.8,492.4 1079.4,513.7" fill="none" stroke="#000" stroke-width="1.6" stroke-linejoin="round"/>
<polyline points="1076.6,515.5 1079.4,513.7" fill="none" stroke="#000" stroke-width="1" stroke-linejoin="round"/>
<polyline points="1083.4,489.8 1083.3,512.2" fill="none" stroke="#000" stroke-width="1.6" stroke-linejoin="round"/>
<polyline points="1089.7,488.9 1085.9,511.8" fill="none" stroke="#000" stroke-width="1.6" stroke-linejoin="round"/>
<polyline points="1083.3,512.2 1085.9,511.8" fill="none" stroke="#000" stroke-width="1" stroke-linejoin="round"/>
<polygon points="1095.3,489.9 1100.1,492.6 1095.2,501.3 1097.1,503.6 1103.8,497 1106.2,502.9 1099.6,509.7 1100.2,513.4 1107.2,510 1106.9,517.9 1099.8,521.7 1098.9,526.2 1105.1,526.5 1102.1,535.2 1095.7,535.3 1093.5,539.7 1097.8,543.6 1092.6,551.6 1088,548 1084.9,551.6 1086.6,558.6 1080.1,564.3 1078.1,557.6 1074.6,559.9 1073.4,568.6 1066.7,571.2 1067.7,562.6 1064.4,563.1 1060.4,572.1 1054.8,571.1 1058.5,562.1 1056,560.6 1050,568.4 1046.4,564 1052.2,556 1050.9,553 1043.9,558.1 1042.9,551 1049.8,545.6 1050,541.4 1043.2,543.1 1045,534.5 1051.8,532.5 1053.4,528 1048,525.8 1052.3,517.4 1057.9,519.1 1060.6,515 1057.5,509.4 1063.5,502.4 1066.8,507.7 1070.2,504.7 1070,496.7 1076.8,492.4 1077.3,500.2 1080.7,498.8 1083.4,489.8 1089.7,488.9 1087.3,497.9 1090.2,498.5" fill="none" stroke="#000" stroke-width="2.5" stroke-linejoin="round"/>
<ellipse cx="1079.6" cy="533.1" rx="18.2" ry="10.5" fill="#fff" stroke="#000" stroke-width="1.6" transform="rotate(-60 1079.6 533.1)"/>
<ellipse cx="1079.6" cy="533.1" rx="12.2" ry="7" fill="none" stroke="#000" stroke-width="1" transform="rotate(-60 1079.6 533.1)"/>
<line x1="1072" y1="524.4" x2="1103.9" y2="542.6" stroke="#000" stroke-width="1"/>
<line x1="1132.3" y1="399.9" x2="1132.3" y2="529.7" stroke="#000" stroke-width="1"/>
<ellipse cx="1113.3" cy="553.3" rx="19" ry="11" fill="#fff" stroke="#000" stroke-width="2.5" transform="rotate(-60 1113.3 553.3)"/>
<ellipse cx="1125.2" cy="560.9" rx="30.4" ry="17.5" fill="#fff" stroke="#000" stroke-width="2.5" transform="rotate(-60 1125.2 560.9)"/>
<path d="M 1134.7,533.1 L 1151,541.1 L 1131.3,595.8 L 1115.6,588.7 Z" fill="#fff" stroke="#000" stroke-width="0" />
<path d="M 1134.7,533.1 L 1148.7,535.1 Q 1158.6,539.6 1163.1,547.2 M 1115.6,588.7 L 1135.8,595.8" fill="none" stroke="#000" stroke-width="2.5" />
<polyline points="1134.2,595.7 1132.1,596.1 1130.1,596.3 1128.2,596.1 1126.4,595.6 1124.8,594.9 1123.3,593.8 1122,592.5 1120.9,591 1120.1,589.2 1119.4,587.2 1118.9,585 1118.7,582.6 1118.7,580 1118.9,577.4 1119.4,574.7 1120.1,571.9 1121,569 1122,566.2 1123.3,563.4 1124.8,560.7 1126.4,558 1128.2,555.5 1130.1,553.2 1132.1,551 1134.2,549 1136.3,547.2 1138.5,545.7 1140.7,544.4 1142.9,543.5 1145,542.7" fill="none" stroke="#000" stroke-width="1" stroke-linejoin="round"/>
<polyline points="1139.3,595.3 1137.4,595.7 1135.6,595.8 1133.9,595.6 1132.3,595.2 1130.9,594.5 1129.6,593.6 1128.4,592.4 1127.4,591 1126.6,589.4 1126,587.6 1125.6,585.6 1125.4,583.5 1125.4,581.2 1125.6,578.8 1126,576.4 1126.6,573.9 1127.4,571.3 1128.4,568.8 1129.6,566.3 1130.9,563.8 1132.3,561.5 1133.9,559.2 1135.6,557.1 1137.4,555.1 1139.3,553.4 1141.2,551.8 1143.2,550.4 1145.2,549.3 1147.1,548.4 1149,547.7" fill="none" stroke="#000" stroke-width="1" stroke-linejoin="round"/>
<polyline points="1141.1,594.6 1139.7,594.5 1138.3,594.2 1137,593.7 1135.8,593 1134.8,592.1 1133.9,590.9 1133.1,589.6 1132.6,588.1 1132.1,586.5 1131.9,584.7 1131.9,582.8 1132,580.8 1132.3,578.7 1132.7,576.5 1133.4,574.4" fill="none" stroke="#000" stroke-width="2.5" stroke-linejoin="round"/>
<ellipse cx="1164.7" cy="576.4" rx="34.2" ry="19.7" fill="#fff" stroke="#000" stroke-width="2.5" transform="rotate(-60 1164.7 576.4)"/>
<path d="M 1181.7,546.7 L 1194.6,553.3 L 1160.6,612.5 L 1147.7,606 Z" fill="#fff" stroke="#000" stroke-width="0" />
<path d="M 1181.7,546.7 L 1194.6,553.3 M 1147.7,606 L 1160.6,612.5" fill="none" stroke="#000" stroke-width="2.5" />
<polyline points="1167.1,607.4 1164.6,608.5 1162.1,609.2 1159.8,609.5 1157.5,609.5 1155.3,609.2 1153.3,608.5 1151.5,607.5 1149.9,606.1 1148.5,604.4 1147.4,602.5 1146.5,600.2 1145.9,597.8 1145.5,595.1 1145.4,592.2 1145.6,589.1 1146,586 1146.7,582.8 1147.7,579.5 1148.9,576.2 1150.3,572.9 1152,569.7 1153.9,566.6 1155.9,563.7 1158.1,560.9 1160.4,558.3 1162.8,556 1165.3,553.9 1167.8,552.1 1170.4,550.6 1172.9,549.5 1175.4,548.6" fill="none" stroke="#000" stroke-width="1" stroke-linejoin="round"/>
<polyline points="1170.9,609.5 1168.4,610.6 1165.9,611.3 1163.6,611.7 1161.3,611.7 1159.1,611.3 1157.1,610.6 1155.3,609.6 1153.7,608.2 1152.3,606.6 1151.2,604.6 1150.3,602.4 1149.7,599.9 1149.3,597.2 1149.2,594.3 1149.4,591.3 1149.8,588.1 1150.5,584.9 1151.5,581.6 1152.7,578.3 1154.1,575 1155.8,571.9 1157.7,568.8 1159.7,565.8 1161.9,563 1164.2,560.5 1166.6,558.1 1169.1,556.1 1171.6,554.3 1174.2,552.8 1176.7,551.6 1179.2,550.8" fill="none" stroke="#000" stroke-width="1" stroke-linejoin="round"/>
<ellipse cx="1177.6" cy="582.9" rx="34.2" ry="19.7" fill="#fff" stroke="#000" stroke-width="2.5" transform="rotate(-60 1177.6 582.9)"/>
<polyline points="1189.5,596.3 1187.8,598.8 1186,601.1 1184,603.2 1182,605.2 1180,606.9 1177.8,608.4 1175.7,609.7 1173.6,610.7 1171.5,611.4 1169.5,611.8 1167.5,612 1165.7,611.9 1164,611.4 1162.4,610.7 1160.9,609.8 1159.7,608.5 1158.6,607 1157.7,605.3 1157,603.3 1156.6,601.2 1156.4,598.9 1156.4,596.5 1156.6,593.9 1157,591.2 1157.7,588.5 1158.5,585.8 1159.6,583.1 1160.8,580.3 1162.2,577.7 1163.8,575.1 1165.5,572.7 1167.4,570.4 1169.3,568.3 1171.4,566.4 1173.4,564.7 1175.5,563.2 1177.7,562 1179.8,561 1181.9,560.4 1183.9,560 1185.8,559.9 1187.6,560.1 1189.4,560.5 1190.9,561.3 1192.3,562.3 1193.6,563.6 1194.6,565.1 1195.4,566.9 1196.1,568.9 1196.5,571 1196.7,573.4 1196.7,575.8 1196.4,578.4 1195.9,581.1 1195.2,583.8 1194.3,586.6 1193.2,589.3 1192,592" fill="none" stroke="#000" stroke-width="2.5" stroke-linejoin="round"/>
<polyline points="1164.3,568.6 1166.1,566.7 1168,565 1170,563.4 1171.9,562.2 1173.9,561.1 1175.9,560.3 1177.8,559.7 1179.6,559.4 1181.4,559.4 1183,559.7 1184.6,560.2 1186,560.9 1187.3,561.9 1188.4,563.2 1189.3,564.6" fill="none" stroke="#000" stroke-width="1" stroke-linejoin="round"/>
<line x1="1176.8" y1="585.9" x2="1195" y2="595.8" stroke="#000" stroke-width="1"/>
<line x1="1214.8" y1="471.3" x2="1214.8" y2="578.3" stroke="#000" stroke-width="1"/>
<polyline points="1221.4,619.4 1219.4,621.8 1217.4,624 1215.2,625.9 1213,627.7 1210.8,629.2 1208.6,630.4 1206.4,631.3 1204.2,632 1202.1,632.3 1200.1,632.4 1198.2,632.1 1196.5,631.6 1194.8,630.7 1193.4,629.6 1192.2,628.1 1191.1,626.5 1190.3,624.6 1189.7,622.4 1189.3,620.1 1189.2,617.6 1189.3,615 1189.6,612.2 1190.2,609.4 1191,606.6 1192,603.7 1193.2,600.8 1194.6,598 1196.2,595.3 1197.9,592.7 1199.8,590.2 1201.8,587.9 1203.8,585.8 1206,583.9 1208.2,582.2 1210.4,580.8 1212.7,579.7 1214.9,578.8 1217,578.3 1219.1,578.1 1221,578.1 1222.9,578.5 1224.6,579.2 1226.1,580.1 1227.5,581.4 1228.7,582.9 1229.7,584.6 1230.4,586.6 1230.9,588.8 1231.2,591.2 1231.3,593.8 1231.1,596.4 1230.7,599.2 1230,602 1229.2,604.9 1228.1,607.8" fill="none" stroke="#000" stroke-width="2.5" stroke-linejoin="round"/>
<line x1="1210.2" y1="604.9" x2="1240" y2="620.9" stroke="#000" stroke-width="1"/>
<line x1="1092.1" y1="639.1" x2="1092.1" y2="653.5" stroke="#000" stroke-width="1"/>
<line x1="1086.4" y1="673.3" x2="1086.4" y2="723.4" stroke="#000" stroke-width="1"/>
<path d="M 1065.9,647.4 Q 1066.7,642.9 1072,642.6 L 1110,663.4 Q 1112.7,665.7 1112.3,670.2 L 1111.5,675.5 Q 1110,680.1 1105.4,678.6 L 1069,658.8 Q 1065.6,656.6 1065.9,647.4 Z" fill="#fff" stroke="#000" stroke-width="2.5" />
<path d="M 1068.2,650.5 L 1110,673.3" fill="none" stroke="#000" stroke-width="1" />
<ellipse cx="736.1" cy="543.3" rx="29.2" ry="16.8" fill="none" stroke="#000" stroke-width="2.5" transform="rotate(-60 736.1 543.3)"/>
<ellipse cx="737.3" cy="544.2" rx="18.2" ry="10.5" fill="none" stroke="#000" stroke-width="2.5" transform="rotate(-60 737.3 544.2)"/>
<polyline points="738.5,552.9 737.6,553.7 736.6,554.4 735.6,554.9 734.6,555.4 733.6,555.7 732.7,555.9 731.8,555.9 730.9,555.9 730.1,555.7 729.4,555.3 728.7,554.9 728.2,554.3 727.7,553.6 727.3,552.7 727,551.8 726.8,550.8 726.7,549.8 726.7,548.6 726.8,547.4 727,546.2 727.3,544.9 727.7,543.7 728.2,542.4 728.7,541.1 729.4,539.9 730.1,538.7 730.9,537.6 731.8,536.5 732.7,535.5 733.6,534.6" fill="none" stroke="#000" stroke-width="1.6" stroke-linejoin="round"/>
<line x1="816.3" y1="524.3" x2="816.3" y2="565.6" stroke="#000" stroke-width="1"/>
<line x1="742.2" y1="547.4" x2="798.1" y2="580.2" stroke="#000" stroke-width="1"/>
<path d="M 817.5,565.6 C 804.1,562 792,580.2 794.4,597.2 C 795.6,606.9 801.7,610.6 806.6,610.6 L 855.2,638.5 L 891.6,652.6 C 903.8,653.1 913.5,638.5 908.1,623.9 L 879.5,601.6 L 861.2,591.1 Z" fill="#fff" stroke="#000" stroke-width="0" />
<path d="M 850.3,583.8 L 817.5,565.6 C 804.1,562 792,580.2 794.4,597.2 C 795.6,606.9 801.7,610.6 806.6,610.6 L 855.2,638.5 Q 858.8,639.7 862.5,638.5" fill="none" stroke="#000" stroke-width="2.5" />
<path d="M 861.2,591.1 L 875.8,598.4 Q 881.9,602.1 880.7,609.4" fill="none" stroke="#000" stroke-width="2.5" />
<polyline points="848.7,630.1 847.2,630.4 845.7,630.5 844.3,630.4 843,630.1 841.8,629.5 840.7,628.7 839.8,627.8 839,626.6 838.3,625.3 837.8,623.8 837.5,622.2 837.3,620.4 837.3,618.6 837.5,616.6 837.8,614.6 838.3,612.5 839,610.4 839.8,608.3 840.7,606.3 841.8,604.3 843,602.3 844.3,600.5 845.7,598.7 847.2,597.1 848.7,595.6 850.3,594.3 851.9,593.2 853.5,592.3 855.2,591.5 856.7,591" fill="none" stroke="#000" stroke-width="1" stroke-linejoin="round"/>
<polyline points="856.4,628.9 855.4,628.8 854.4,628.6 853.5,628.2 852.6,627.7 851.9,627 851.3,626.2 850.8,625.3 850.4,624.2 850.1,623 849.9,621.7 849.9,620.4 850,618.9 850.2,617.4 850.6,615.9 851.1,614.3 851.6,612.8 852.3,611.3 853.1,609.8 854,608.3 855,606.9 856,605.6 857.1,604.4 858.2,603.3 859.4,602.4 860.6,601.5 861.8,600.8 863,600.3 864.2,599.9" fill="none" stroke="#000" stroke-width="1" stroke-linejoin="round"/>
<path d="M 879.5,602.1 L 906.7,621.5 M 862.5,639 L 891.6,652.6" fill="none" stroke="#000" stroke-width="2.5" />
<polyline points="885.2,644.7 884.2,644.9 883.1,645 882.2,644.9 881.3,644.7 880.4,644.3 879.7,643.7 879,643.1 878.5,642.3 878,641.4 877.7,640.4 877.5,639.2 877.3,638 877.3,636.7 877.5,635.4 877.7,634 878,632.6 878.5,631.1 879,629.7 879.7,628.3 880.4,626.9 881.3,625.5 882.2,624.3 883.1,623.1 884.2,621.9 885.2,620.9 886.3,620 887.4,619.3 888.5,618.6 889.6,618.1 890.7,617.8" fill="none" stroke="#000" stroke-width="1" stroke-linejoin="round"/>
<polyline points="900.5,622.6 901.5,622.4 902.5,622.3 903.5,622.4 904.4,622.7 905.2,623 906,623.6 906.6,624.2 907.2,625 907.6,625.9 908,627 908.2,628.1 908.3,629.3 908.3,630.6 908.2,631.9 908,633.3 907.6,634.8 907.2,636.2 906.6,637.6 906,639 905.2,640.4 904.4,641.8 903.5,643.1 902.5,644.3 901.5,645.4 900.4,646.4" fill="none" stroke="#000" stroke-width="2.5" stroke-linejoin="round"/>
<polyline points="895.9,644.8 895.2,644.9 894.6,645 893.9,644.9 893.4,644.8 892.8,644.5 892.4,644.2 891.9,643.7 891.6,643.2 891.3,642.6 891.1,642 890.9,641.2 890.8,640.5 890.8,639.6 890.9,638.8 891.1,637.9 891.3,636.9 891.6,636 891.9,635.1 892.4,634.2 892.8,633.3 893.4,632.4 894,631.6 894.6,630.8 895.2,630.1 895.9,629.4 896.6,628.9 897.3,628.4 898.1,628 898.8,627.6 899.5,627.4" fill="none" stroke="#000" stroke-width="1" stroke-linejoin="round"/>
<ellipse cx="841.8" cy="625.2" rx="2.4" ry="3.9" fill="none" stroke="#000" stroke-width="2.5" transform="rotate(-20 841.8 625.2)"/>
<ellipse cx="853.9" cy="593.6" rx="6.1" ry="2.7" fill="#fff" stroke="#000" stroke-width="2.5"/>
<line x1="902.6" y1="639.7" x2="923.2" y2="651.9" stroke="#000" stroke-width="1"/>
<ellipse cx="854.4" cy="552.2" rx="8.5" ry="8.5" fill="#fff" stroke="#000" stroke-width="2.5"/>
<line x1="863.7" y1="552.2" x2="874.6" y2="552.2" stroke="#000" stroke-width="1"/>
<line x1="854.4" y1="561.2" x2="854.4" y2="591.9" stroke="#000" stroke-width="1"/>
<ellipse cx="688.2" cy="637.1" rx="59.5" ry="34.4" fill="#fff" stroke="#000" stroke-width="2.5" transform="rotate(-60 688.2 637.1)"/>
<path d="M 717.9,585.5 L 745.6,601.6 L 686.3,704.6 L 658.6,688.6 Z" fill="#fff" stroke="#000" stroke-width="0" />
<path d="M 717.9,585.5 L 745.6,601.6 M 658.6,688.6 L 686.3,704.6" fill="none" stroke="#000" stroke-width="2.5" />
<path d="M 683.8,709 L 685.1,717.5 Q 698.4,724.8 712.3,716.3 L 713,707.8 Z" fill="#fff" stroke="#000" stroke-width="2.5" />
<ellipse cx="715.9" cy="653.1" rx="59.5" ry="34.4" fill="#fff" stroke="#000" stroke-width="2.5" transform="rotate(-60 715.9 653.1)"/>
<ellipse cx="715.9" cy="653.1" rx="55.9" ry="32.3" fill="none" stroke="#000" stroke-width="1" transform="rotate(-60 715.9 653.1)"/>
<ellipse cx="715.9" cy="653.6" rx="51.8" ry="29.9" fill="#fff" stroke="#000" stroke-width="2.5" transform="rotate(-60 715.9 653.6)"/>
<polyline points="711.2,596 714.3,596.6 717.1,597.6 719.7,599.1 722.1,601.1 724.1,603.5 725.7,606.3 727.1,609.5 728,613.1 728.6,616.9 728.8,621.1 728.6,625.5 728,630 727,634.7 725.7,639.4 724.1,644.2 722,648.9 719.7,653.5 717.1,658 714.3,662.4 711.2,666.5 707.9,670.3 704.4,673.8 700.9,677 697.2,679.8 693.5,682.1 689.9,684 686.2,685.4 682.7,686.4 679.2,686.9 675.9,686.8" fill="none" stroke="#000" stroke-width="2.5" stroke-linejoin="round"/>
<line x1="743.4" y1="681" x2="811.4" y2="719.9" stroke="#000" stroke-width="1"/>
<line x1="698.4" y1="727.2" x2="698.4" y2="771" stroke="#000" stroke-width="1"/>
<line x1="698.4" y1="829.3" x2="698.4" y2="845.1" stroke="#000" stroke-width="1"/>
<line x1="737.3" y1="801.3" x2="811.4" y2="849.9" stroke="#000" stroke-width="1"/>
<path d="M 704.5,767.3 L 704.5,730.9 Q 709.4,728.4 713.7,733.3 L 714.2,755.2 L 726.4,755.2 L 731.2,746.7 Q 737.3,745.4 742.2,752.7 L 742.2,798.9 L 685.1,832.9 L 651,813.5 L 651,763.7 Q 653.5,758.8 658.3,760.5 L 662.7,766.1 L 664.4,771 L 680.2,779.5 L 682.6,775.8 Q 686.3,774.6 689.9,778.3 L 691.9,784.8 Q 709.4,783.1 725.2,764.9 L 726.4,755.2" fill="#fff" stroke="#000" stroke-width="2.5" />
<path d="M 685.1,781.9 L 685.1,832.9" fill="none" stroke="#000" stroke-width="2.5" />
<path d="M 664.4,771 Q 682.6,767.3 697.2,747.9" fill="none" stroke="#000" stroke-width="2.5" />
<path d="M 665.6,766.1 Q 680.2,763.7 693.6,747.9" fill="none" stroke="#000" stroke-width="1" />
<path d="M 693.6,781.9 Q 709.4,779.5 722.7,763.7" fill="none" stroke="#000" stroke-width="1" />
<path d="M 680.2,779.5 L 680.2,794 L 657.1,781.9 L 657.1,772.2" fill="none" stroke="#000" stroke-width="1" />
<path d="M 708.1,752.7 L 726.4,761.2 M 714.2,755.2 L 714.2,767.3" fill="none" stroke="#000" stroke-width="1" />
<ellipse cx="697.2" cy="800.1" rx="4.9" ry="7.3" fill="#fff" stroke="#000" stroke-width="2.5" transform="rotate(20 697.2 800.1)"/>
<path d="M 657.1,792.8 L 657.1,806.2 L 666.8,811.1 L 671.7,808.6 L 671.7,795.3 L 662,790.4 Z" fill="#fff" stroke="#000" stroke-width="2.5" />
<path d="M 666.8,811.1 L 666.8,797.7 L 657.1,792.8 M 666.8,797.7 L 671.7,795.3" fill="none" stroke="#000" stroke-width="1" />
<line x1="633.5" y1="761.2" x2="633.5" y2="807.4" stroke="#000" stroke-width="1"/>
<ellipse cx="634" cy="818.8" rx="12.2" ry="7" fill="#fff" stroke="#000" stroke-width="2.5" transform="rotate(60 634 818.8)"/>
<ellipse cx="636.5" cy="817.9" rx="11.7" ry="6.7" fill="#fff" stroke="#000" stroke-width="2.5" transform="rotate(60 636.5 817.9)"/>
<ellipse cx="636.5" cy="817.9" rx="5.3" ry="3.1" fill="#fff" stroke="#000" stroke-width="2.5" transform="rotate(60 636.5 817.9)"/>
<line x1="642.5" y1="813.5" x2="659.5" y2="803.8" stroke="#000" stroke-width="1"/>
<line x1="600" y1="837.8" x2="626.7" y2="823.2" stroke="#000" stroke-width="1"/>
<line x1="1261.6" y1="498.1" x2="1261.6" y2="598.4" stroke="#000" stroke-width="1"/>
<line x1="1298.8" y1="509.1" x2="1298.8" y2="622.1" stroke="#000" stroke-width="1"/>
<line x1="1332.5" y1="538.2" x2="1332.5" y2="650.3" stroke="#000" stroke-width="1"/>
<line x1="1366.7" y1="557.4" x2="1366.7" y2="672.2" stroke="#000" stroke-width="1"/>
<line x1="1397.4" y1="576.5" x2="1397.4" y2="631.2" stroke="#000" stroke-width="1"/>
<line x1="1210" y1="604.8" x2="1229.1" y2="615.7" stroke="#000" stroke-width="1"/>
<polygon points="1264.9,597.5 1267.1,598.1 1269.1,599 1270.8,600.3 1272.4,601.9 1273.7,603.8 1274.8,606 1275.7,608.4 1276.2,611.1 1276.5,614 1276.5,617.1 1276.2,620.3 1275.6,623.7 1274.8,627.1 1273.7,630.5 1272.4,634 1270.8,637.4 1269,640.7 1267.1,643.9 1264.9,646.9 1262.6,649.8 1260.1,652.5 1257.6,654.9 1255,657.1 1252.3,658.9 1249.7,660.5 1247,661.7 1244.4,662.5 1241.9,663.1 1239.4,663.2 1237.1,663 1234.9,662.4 1233,661.5 1231.2,660.3 1229.6,658.7 1228.3,656.8 1227.2,654.6 1226.4,652.1 1225.8,649.4 1225.5,646.5 1225.5,643.4 1225.8,640.2 1226.4,636.9 1227.2,633.5 1228.3,630 1229.6,626.6 1231.2,623.2 1233,619.9 1235,616.6 1237.1,613.6 1239.4,610.7 1241.9,608 1244.4,605.6 1247,603.5 1249.7,601.6 1255,610.2 1253.2,611.3 1251.4,612.6 1249.6,614.1 1247.9,615.8 1246.3,617.7 1244.8,619.7 1243.3,621.8 1242,624 1240.9,626.2 1239.9,628.5 1239,630.9 1238.3,633.2 1237.8,635.5 1237.5,637.7 1237.4,639.9 1237.5,641.9 1237.7,643.9 1238.1,645.6 1238.8,647.2 1239.6,648.7 1240.5,649.9 1241.6,650.9 1242.9,651.7 1244.3,652.2 1245.8,652.5 1247.4,652.6 1249,652.4 1250.8,651.9 1252.5,651.3 1254.3,650.4 1256.2,649.3 1257.9,647.9 1259.7,646.4 1261.4,644.7 1263,642.9 1264.6,640.9 1266,638.8 1267.3,636.6 1268.4,634.3 1269.4,632 1270.3,629.7 1271,627.3 1271.5,625 1271.8,622.8 1271.9,620.6 1271.9,618.6 1271.6,616.7 1271.2,614.9 1270.5,613.3 1269.8,611.9 1268.8,610.7 1267.7,609.7 1266.4,608.9 1265,608.3" fill="#fff" stroke="#000" stroke-width="2.5" stroke-linejoin="round"/>
<polyline points="1248.7,663.1 1246.3,663.6 1243.9,663.7 1241.7,663.5 1239.7,663 1237.8,662.1 1236.1,660.8 1234.6,659.3 1233.3,657.4 1232.3,655.3 1231.5,652.9 1231,650.2 1230.8,647.4 1230.9,644.4 1231.2,641.3 1231.8,638 1232.6,634.7 1233.7,631.4 1235.1,628.1 1236.6,624.8 1238.4,621.7 1240.4,618.6 1242.5,615.7 1244.8,613" fill="none" stroke="#000" stroke-width="1" stroke-linejoin="round"/>
<polyline points="1260.6,650 1258.9,651 1257.3,651.8 1255.7,652.4 1254.1,652.8 1252.6,653 1251.1,652.9 1249.8,652.6 1248.6,652.1 1247.4,651.4 1246.4,650.4 1245.6,649.3 1244.9,648 1244.4,646.5 1244,644.9" fill="none" stroke="#000" stroke-width="2.5" stroke-linejoin="round"/>
<polyline points="1262,612.9 1263.5,612.6 1264.9,612.5 1266.2,612.7 1267.5,613 1268.6,613.6 1269.6,614.3 1270.5,615.2 1271.3,616.4 1271.9,617.6" fill="none" stroke="#000" stroke-width="2.5" stroke-linejoin="round"/>
<path d="M 1249.2,600.2 L 1253.7,597.5 L 1264.7,602.4 L 1264.7,607.5 L 1254.7,608.4 L 1249.2,605.7 Z" fill="#fff" stroke="#000" stroke-width="2.5" />
<path d="M 1249.2,600.2 L 1254.7,602.9 L 1264.7,602.4" fill="none" stroke="#000" stroke-width="1" />
<path d="M 1254.7,602.9 L 1254.7,608.4" fill="none" stroke="#000" stroke-width="1" />
<line x1="1252.8" y1="630.3" x2="1275.6" y2="642.1" stroke="#000" stroke-width="1"/>
<polygon points="1311.4,623 1313.5,623.6 1315.5,624.5 1317.3,625.8 1318.9,627.4 1320.2,629.3 1321.3,631.5 1322.1,633.9 1322.7,636.6 1323,639.5 1323,642.6 1322.7,645.8 1322.1,649.2 1321.3,652.6 1320.2,656 1318.9,659.5 1317.3,662.9 1315.5,666.2 1313.5,669.4 1311.4,672.5 1309.1,675.3 1306.6,678 1304.1,680.4 1301.5,682.6 1298.8,684.4 1296.1,686 1293.5,687.2 1290.9,688.1 1288.3,688.6 1285.9,688.7 1283.6,688.5 1281.4,688 1279.4,687 1277.7,685.8 1276.1,684.2 1274.8,682.3 1273.7,680.1 1272.8,677.6 1272.3,674.9 1272,672 1272,669 1272.3,665.7 1272.8,662.4 1273.7,659 1274.8,655.5 1276.1,652.1 1277.7,648.7 1279.5,645.4 1281.4,642.2 1283.6,639.1 1285.9,636.2 1288.4,633.6 1290.9,631.1 1293.5,629 1296.2,627.1 1301.4,635.7 1299.6,636.8 1297.8,638.1 1296.1,639.6 1294.4,641.3 1292.8,643.2 1291.2,645.2 1289.8,647.3 1288.5,649.5 1287.3,651.7 1286.3,654.1 1285.5,656.4 1284.8,658.7 1284.3,661 1284,663.3 1283.9,665.4 1283.9,667.5 1284.2,669.4 1284.6,671.2 1285.2,672.8 1286,674.2 1287,675.4 1288.1,676.4 1289.4,677.2 1290.7,677.7 1292.2,678 1293.8,678.1 1295.5,677.9 1297.2,677.5 1299,676.8 1300.8,675.9 1302.6,674.8 1304.4,673.5 1306.2,671.9 1307.9,670.2 1309.5,668.4 1311,666.4 1312.5,664.3 1313.8,662.1 1314.9,659.8 1315.9,657.5 1316.8,655.2 1317.5,652.8 1318,650.6 1318.3,648.3 1318.4,646.2 1318.3,644.1 1318.1,642.2 1317.6,640.4 1317,638.8 1316.2,637.4 1315.3,636.2 1314.2,635.2 1312.9,634.4 1311.5,633.9" fill="#fff" stroke="#000" stroke-width="2.5" stroke-linejoin="round"/>
<polyline points="1295.2,688.6 1292.8,689.1 1290.4,689.2 1288.2,689 1286.1,688.5 1284.2,687.6 1282.5,686.3 1281,684.8 1279.8,682.9 1278.8,680.8 1278,678.4 1277.5,675.7 1277.3,672.9 1277.3,669.9 1277.7,666.8 1278.2,663.5 1279.1,660.3 1280.2,656.9 1281.6,653.6 1283.1,650.4 1284.9,647.2 1286.9,644.1 1289,641.2 1291.3,638.5" fill="none" stroke="#000" stroke-width="1" stroke-linejoin="round"/>
<polyline points="1307,675.5 1305.4,676.5 1303.8,677.3 1302.1,677.9 1300.6,678.3 1299.1,678.5 1297.6,678.4 1296.3,678.1 1295,677.6 1293.9,676.9 1292.9,676 1292.1,674.8 1291.4,673.5 1290.8,672 1290.5,670.4" fill="none" stroke="#000" stroke-width="2.5" stroke-linejoin="round"/>
<polyline points="1308.5,638.4 1310,638.1 1311.4,638.1 1312.7,638.2 1313.9,638.5 1315.1,639.1 1316.1,639.8 1317,640.8 1317.7,641.9 1318.3,643.2" fill="none" stroke="#000" stroke-width="2.5" stroke-linejoin="round"/>
<path d="M 1295.7,625.7 L 1300.2,623 L 1311.2,627.9 L 1311.2,633 L 1301.1,633.9 L 1295.7,631.2 Z" fill="#fff" stroke="#000" stroke-width="2.5" />
<path d="M 1295.7,625.7 L 1301.1,628.4 L 1311.2,627.9" fill="none" stroke="#000" stroke-width="1" />
<path d="M 1301.1,628.4 L 1301.1,633.9" fill="none" stroke="#000" stroke-width="1" />
<line x1="1297.5" y1="655.8" x2="1320.3" y2="668" stroke="#000" stroke-width="1"/>
<polyline points="1348.3,692.1 1346.4,694.4 1344.3,696.5 1342.2,698.5 1340.1,700.1 1337.9,701.6 1335.7,702.8 1333.5,703.6 1331.4,704.3 1329.3,704.6 1327.3,704.6 1325.5,704.3 1323.8,703.7 1322.2,702.8 1320.8,701.7 1319.6,700.3 1318.6,698.6 1317.8,696.7 1317.2,694.6 1316.8,692.3 1316.7,689.8 1316.8,687.2 1317.2,684.5 1317.7,681.7 1318.5,678.9 1319.5,676.1 1320.7,673.3 1322.1,670.5 1323.6,667.8 1325.3,665.2 1327.2,662.8 1329.1,660.5 1331.2,658.4 1333.3,656.5 1335.5,654.9 1337.7,653.5 1339.9,652.4 1342.1,651.5 1344.2,651 1346.2,650.7 1348.2,650.8 1350,651.1 1351.7,651.7 1353.2,652.7 1354.6,653.9 1355.8,655.3 1356.8,657 1357.5,659 1358.1,661.1 1358.4,663.5 1358.5,665.9 1358.3,668.6 1357.9,671.3 1357.3,674.1 1356.5,676.9 1355.5,679.7" fill="none" stroke="#000" stroke-width="2.5" stroke-linejoin="round"/>
<line x1="1337.6" y1="678.6" x2="1354" y2="686.8" stroke="#000" stroke-width="1"/>
<ellipse cx="1364.6" cy="696.1" rx="30.1" ry="17.4" fill="#fff" stroke="#000" stroke-width="2.5" transform="rotate(-60 1364.6 696.1)"/>
<path d="M 1379.5,670 L 1394.1,678.6 L 1364,730.5 L 1349.4,721.9 Z" fill="#fff" stroke="#000" stroke-width="0" />
<path d="M 1379.5,670 L 1387.7,673.1 M 1349.4,721.9 L 1364.9,731.4 L 1374,735.1" fill="none" stroke="#000" stroke-width="2.5" />
<polyline points="1372.2,722.2 1370,723.5 1367.8,724.6 1365.7,725.4 1363.6,725.9 1361.6,726.1 1359.7,726.1 1357.9,725.7 1356.2,725 1354.7,724 1353.4,722.8 1352.2,721.3 1351.3,719.6 1350.6,717.6 1350.1,715.4 1349.8,713.1 1349.8,710.6 1350,708 1350.4,705.3 1351,702.5 1351.9,699.7 1353,696.9 1354.2,694.1 1355.7,691.4 1357.3,688.8 1359,686.2 1360.9,683.9 1362.9,681.7 1365,679.7 1367.1,677.9 1369.3,676.4 1371.4,675.2 1373.6,674.2 1375.7,673.4" fill="none" stroke="#000" stroke-width="1" stroke-linejoin="round"/>
<polyline points="1376.7,724.9 1374.6,726.3 1372.4,727.4 1370.2,728.2 1368.1,728.7 1366.1,728.9 1364.2,728.8 1362.4,728.4 1360.8,727.7 1359.3,726.8 1357.9,725.5 1356.8,724 1355.9,722.3 1355.1,720.3 1354.7,718.2 1354.4,715.8 1354.3,713.3 1354.5,710.7 1355,708 1355.6,705.2 1356.5,702.4 1357.5,699.6 1358.8,696.8 1360.2,694.1 1361.8,691.5 1363.6,689 1365.5,686.6 1367.4,684.4 1369.5,682.4 1371.6,680.7 1373.8,679.2 1376,677.9 1378.2,676.9 1380.3,676.2" fill="none" stroke="#000" stroke-width="1" stroke-linejoin="round"/>
<polyline points="1381.3,727.1 1379.1,728.5 1376.9,729.5 1374.8,730.3 1372.7,730.8 1370.7,731.1 1368.8,731 1367,730.6 1365.3,729.9 1363.8,729 1362.5,727.7 1361.4,726.2 1360.4,724.5 1359.7,722.5 1359.2,720.4 1358.9,718 1358.9,715.5 1359.1,712.9 1359.5,710.2 1360.2,707.4 1361,704.6 1362.1,701.8 1363.3,699 1364.8,696.3 1366.4,693.7 1368.1,691.2 1370,688.8 1372,686.6 1374.1,684.6 1376.2,682.9 1378.4,681.3 1380.5,680.1 1382.7,679.1 1384.8,678.4" fill="none" stroke="#000" stroke-width="2.5" stroke-linejoin="round"/>
<polyline points="1388.2,728.1 1386.6,728.8 1385,729.2 1383.5,729.5 1382,729.5 1380.7,729.3 1379.4,728.9 1378.2,728.3 1377.2,727.4 1376.3,726.4 1375.5,725.2 1374.9,723.8 1374.5,722.3 1374.2,720.6 1374.1,718.8 1374.1,716.9 1374.4,714.9 1374.7,712.9 1375.3,710.8 1376,708.7 1376.9,706.6 1377.9,704.6 1379,702.6 1380.2,700.7 1381.6,698.8 1383,697.1 1384.5,695.6 1386.1,694.2 1387.6,692.9 1389.3,691.9 1390.9,691" fill="none" stroke="#000" stroke-width="1" stroke-linejoin="round"/>
<path d="M 1400.5,680.4 Q 1405.9,684 1407.8,690.4" fill="none" stroke="#000" stroke-width="2.5" />
<ellipse cx="1410.1" cy="721" rx="35" ry="20.2" fill="#fff" stroke="#000" stroke-width="2.5" transform="rotate(-60 1410.1 721)"/>
<path d="M 1427.6,690.8 L 1436.2,695.7 L 1401.2,756.2 L 1392.6,751.3 Z" fill="#fff" stroke="#000" stroke-width="0" />
<path d="M 1427.6,690.8 L 1436.2,695.7 M 1392.6,751.3 L 1401.2,756.2" fill="none" stroke="#000" stroke-width="2.5" />
<ellipse cx="1418.7" cy="726" rx="35" ry="20.2" fill="#fff" stroke="#000" stroke-width="2.5" transform="rotate(-60 1418.7 726)"/>
<polyline points="1430.1,735.7 1428.9,737.3 1427.6,738.8 1426.2,740.1 1424.8,741.3 1423.4,742.4 1422,743.2 1420.6,743.9 1419.2,744.4 1417.8,744.8 1416.5,744.9 1415.2,744.8 1414,744.5 1412.9,744.1 1412,743.4 1411.1,742.6 1410.4,741.6 1409.8,740.5 1409.3,739.2 1409,737.7 1408.8,736.2 1408.8,734.5 1409,732.8 1409.2,731 1409.7,729.2 1410.3,727.3 1411,725.5 1411.8,723.7 1412.8,721.9 1413.8,720.2 1415,718.5 1416.2,717 1417.6,715.6 1418.9,714.3 1420.3,713.1 1421.7,712.1 1423.2,711.3 1424.6,710.7 1426,710.3 1427.4,710 1428.7,709.9 1429.9,710.1 1431,710.4 1432.1,710.9 1433,711.7 1433.8,712.5 1434.5,713.6 1435.1,714.8 1435.5,716.1 1435.7,717.6 1435.9,719.2 1435.8,720.9 1435.6,722.6 1435.3,724.4 1434.8,726.3 1434.2,728.1 1433.4,730" fill="none" stroke="#000" stroke-width="2.5" stroke-linejoin="round"/>
<line x1="1419.6" y1="726" x2="1442.4" y2="737.8" stroke="#000" stroke-width="1"/>
<ellipse cx="1394.1" cy="695" rx="7.7" ry="3.3" fill="#fff" stroke="#000" stroke-width="2.5"/>
<line x1="1392.3" y1="665.8" x2="1392.3" y2="694.1" stroke="#000" stroke-width="1"/>
<line x1="1396.8" y1="665.8" x2="1396.8" y2="694.6" stroke="#000" stroke-width="1"/>
<path d="M 1386.8,635.7 L 1386.8,664.9 Q 1394.1,668.5 1401.4,664.9 L 1401.4,635.7 Z" fill="#fff" stroke="#000" stroke-width="2.5" />
<ellipse cx="1394.1" cy="635.7" rx="7.3" ry="2.6" fill="#fff" stroke="#000" stroke-width="2.5"/>
<path d="M 1389.5,640.3 L 1398.6,640.3" fill="none" stroke="#000" stroke-width="1" />
<line x1="1551.3" y1="584.8" x2="1608.7" y2="617.6" stroke="#000" stroke-width="1"/>
<line x1="1494.4" y1="616.6" x2="1494.4" y2="665.9" stroke="#000" stroke-width="1"/>
<path d="M 1460.1,594.8 Q 1462,603.9 1472.9,608.4 Q 1496.6,616.6 1520.3,608.4 Q 1533,603.9 1534.9,595.7 Z" fill="#fff" stroke="#000" stroke-width="2.5" />
<path d="M 1462.9,599.3 Q 1496.6,616.6 1532.1,599.3" fill="none" stroke="#000" stroke-width="1" />
<path d="M 1441.9,563.8 L 1442.8,575.6 C 1447.4,594.8 1476.5,602.1 1496.6,602.1 C 1516.6,602.1 1545.8,594.8 1550.9,575.6 L 1551.3,563.8 Z" fill="#fff" stroke="#000" stroke-width="2.5" />
<ellipse cx="1496.6" cy="563.8" rx="54.7" ry="30.1" fill="#fff" stroke="#000" stroke-width="2.5"/>
<path d="M 1443.4,572.9 C 1451,591.1 1476.5,596.6 1496.6,596.6 C 1516.6,596.6 1542.2,591.1 1549.8,572.9" fill="none" stroke="#000" stroke-width="1" />
<ellipse cx="1496.6" cy="564.2" rx="27.3" ry="16" fill="none" stroke="#000" stroke-width="1"/>
<ellipse cx="1496.6" cy="567.8" rx="23.7" ry="12.8" fill="#fff" stroke="#000" stroke-width="2.5"/>
<ellipse cx="1471.1" cy="550.1" rx="6.4" ry="3.1" fill="#fff" stroke="#000" stroke-width="2.5"/>
<ellipse cx="1523" cy="580.2" rx="6.4" ry="3.1" fill="#fff" stroke="#000" stroke-width="2.5"/>
<line x1="1550.4" y1="682.3" x2="1608.7" y2="716" stroke="#000" stroke-width="1"/>
<line x1="1494.4" y1="705" x2="1494.4" y2="749.7" stroke="#000" stroke-width="1"/>
<path d="M 1489.7,635.2 C 1460.1,636.3 1439.2,651.3 1439.2,668.6 C 1439.2,686.8 1463.8,701.9 1494.8,701.9 C 1525.8,701.9 1551.3,686.8 1551.3,668.6 C 1551.3,651.3 1529.4,636.3 1499.9,635.2" fill="none" stroke="#000" stroke-width="2.5" />
<path d="M 1443.2,743.3 C 1443.7,733.3 1454.7,730 1463.8,731.1 C 1472.9,732.4 1477.5,736.9 1478.7,743.3 L 1509.4,761 C 1516.6,755.2 1538.5,755.2 1549.5,767.9 Q 1553.5,773.4 1553.5,778.9 L 1553.8,806.2 C 1545.8,816.2 1513,818 1501.3,806.2 L 1501.3,789.8 L 1466.5,769.4 C 1454.7,771.6 1444.7,767.9 1443.7,762.5 Z" fill="#fff" stroke="#000" stroke-width="2.5" />
<path d="M 1443.7,745.1 C 1447.4,755.2 1469.3,756.1 1478.4,745.1" fill="none" stroke="#000" stroke-width="1" />
<path d="M 1466.5,758.8 L 1502.1,778.9 M 1471.1,755.2 L 1504.8,774.3 M 1466.5,758.8 L 1466.5,769.4" fill="none" stroke="#000" stroke-width="1" />
<path d="M 1502.1,777 C 1505.7,791.6 1545.8,793.4 1553.1,777" fill="none" stroke="#000" stroke-width="1" />
<ellipse cx="1459.2" cy="742.4" rx="10" ry="5.5" fill="#fff" stroke="#000" stroke-width="2.5"/>
<ellipse cx="1527.6" cy="775.2" rx="18.2" ry="10" fill="#fff" stroke="#000" stroke-width="2.5"/>
<path d="M 1504.8,762.5 L 1504.8,791.6" fill="none" stroke="#000" stroke-width="2.5" />
<line x1="1553.8" y1="799.1" x2="1608.5" y2="830.1" stroke="#000" stroke-width="1"/>
<line x1="1526.5" y1="811.9" x2="1526.5" y2="846.5" stroke="#000" stroke-width="1"/>
<line x1="1526.5" y1="877.5" x2="1526.5" y2="890.3" stroke="#000" stroke-width="1"/>
<line x1="1545.4" y1="864.8" x2="1608.5" y2="901.2" stroke="#000" stroke-width="1"/>
<path d="M 1506.8,849.1 L 1506.8,866.6 C 1511.9,878.3 1541.1,878.3 1546.2,866.6 L 1546.2,849.1 Z" fill="#fff" stroke="#000" stroke-width="2.5" />
<ellipse cx="1526.5" cy="849.1" rx="19.7" ry="9.1" fill="#fff" stroke="#000" stroke-width="2.5"/>
<ellipse cx="1526.5" cy="850.5" rx="12" ry="5.1" fill="#fff" stroke="#000" stroke-width="2.5"/>
<ellipse cx="1526.5" cy="851.3" rx="8.7" ry="3.3" fill="none" stroke="#000" stroke-width="1"/>
<line x1="1541.1" y1="930.4" x2="1608.5" y2="968.7" stroke="#000" stroke-width="1"/>
<path d="M 1487.1,932 L 1487.1,947.2 Q 1502.9,954.8 1519,947.2 L 1519,932 Z" fill="#fff" stroke="#000" stroke-width="2.5" />
<path d="M 1493.1,950.2 L 1493.1,983.7 Q 1502.2,988.2 1511.4,983.7 L 1511.4,950.2 Z" fill="#fff" stroke="#000" stroke-width="2.5" />
<path d="M 1493.1,967 Q 1502.2,970.9 1511.4,967 M 1493.1,971.5 Q 1502.2,975.5 1511.4,971.5" fill="none" stroke="#000" stroke-width="1.6" />
<path d="M 1461.2,901.6 C 1464.3,883.4 1491.6,877.3 1515.9,880.4 L 1517.4,912.3 L 1537.2,912.3 Q 1542.6,915.3 1541.7,924.4 Q 1540.2,929.6 1535.7,931.4 L 1515.9,934.4 L 1515.9,941.1 Q 1500.7,941.1 1484,933.5 Q 1464.3,927.5 1461.8,916.8 Z" fill="#fff" stroke="#000" stroke-width="2.5" />
<path d="M 1461.8,906.2 Q 1467.3,918.3 1479.5,921.4 L 1515.9,929.6 Q 1534.1,927.5 1541.7,919.9" fill="none" stroke="#000" stroke-width="1" />
<path d="M 1479.5,921.4 L 1484,933.5" fill="none" stroke="#000" stroke-width="1" />
<path d="M 1517.4,888 L 1517.4,918.3 Q 1527.2,922.9 1537.2,918.3 L 1537.2,888 Z" fill="#fff" stroke="#000" stroke-width="2.5" />
<ellipse cx="1527.2" cy="888" rx="10" ry="3.6" fill="#fff" stroke="#000" stroke-width="2.5"/>
<line x1="1527.2" y1="868.2" x2="1527.2" y2="886.5" stroke="#000" stroke-width="1"/>
<line x1="1512.9" y1="960.9" x2="1558.4" y2="986.7" stroke="#000" stroke-width="1"/>
<line x1="1573.6" y1="1000.4" x2="1608.6" y2="1020.1" stroke="#000" stroke-width="1"/>
<path d="M 1561.5,983.7 L 1572.1,980.6 L 1573,998.8 L 1566,1001.9 Q 1559.4,994.3 1561.5,983.7 Z" fill="#fff" stroke="#000" stroke-width="2.5" />
<line x1="1566" y1="985.2" x2="1566.6" y2="1001.3" stroke="#000" stroke-width="1"/>
<line x1="1502.9" y1="992.8" x2="1502.9" y2="1083.9" stroke="#000" stroke-width="1"/>
<path d="M 1313,1090 L 1313.9,998.8 Q 1315.4,991.3 1321.5,988.2 L 1397.4,944.2 Q 1402,941.7 1406.6,944.2 L 1431.5,957.8 Q 1436.3,961.8 1436.9,968.5 L 1443,985.2 L 1506.8,1023.1 C 1534.1,1029.2 1558.4,1044.4 1564.5,1062.6 L 1566,1090 L 1591.9,1102.1 L 1596.4,1117.3 L 1596.4,1135.5 L 1587.3,1143.1 L 1569.1,1134 L 1569.1,1165.9 Q 1564.5,1172 1561.5,1172 L 1549.3,1188.7 L 1506.8,1213 L 1440,1218.2 L 1364,1162.9 L 1342.8,1132.5 L 1332.1,1102.1 Z" fill="#fff" stroke="#000" stroke-width="2.5" />
<path d="M 1315.4,1000.4 L 1341.3,1014 L 1341.3,1090 M 1341.3,1014 Q 1345.8,998.8 1358,992.8 L 1412.6,965.4 Q 1426.3,960.9 1435.4,971.5" fill="none" stroke="#000" stroke-width="1" />
<path d="M 1327.6,992.8 L 1348.8,1003.4 M 1385.3,960.9 L 1412.6,974.5" fill="none" stroke="#000" stroke-width="1" />
<path d="M 1374.7,1008 C 1370.1,1032.3 1379.2,1047.4 1373.8,1062.6" fill="none" stroke="#000" stroke-width="1" />
<path d="M 1313,1090 L 1332.1,1102.1 M 1332.1,1102.1 L 1382.3,1132.5" fill="none" stroke="#000" stroke-width="2.5" />
<path d="M 1358,1058.1 L 1407.2,1083.9 L 1388.9,1102.1 L 1382.3,1162.3" fill="none" stroke="#000" stroke-width="2.5" />
<path d="M 1349.5,1066.3 L 1385.9,1088.5 Q 1388.9,1091.5 1386.8,1095.4 L 1349.5,1074.2 Q 1347,1070.2 1349.5,1066.3 Z" fill="#fff" stroke="#000" stroke-width="2.5" />
<path d="M 1351.9,1071.1 L 1385.3,1091.5" fill="none" stroke="#000" stroke-width="1" />
<path d="M 1349.5,1085.1 L 1385.9,1107.3 Q 1388.9,1110.3 1386.8,1114.3 L 1349.5,1093 Q 1347,1089.1 1349.5,1085.1 Z" fill="#fff" stroke="#000" stroke-width="2.5" />
<path d="M 1351.9,1090 L 1385.3,1110.3" fill="none" stroke="#000" stroke-width="1" />
<path d="M 1349.5,1103.9 L 1385.9,1126.1 Q 1388.9,1129.2 1386.8,1133.1 L 1349.5,1111.8 Q 1347,1107.9 1349.5,1103.9 Z" fill="#fff" stroke="#000" stroke-width="2.5" />
<path d="M 1351.9,1108.8 L 1385.3,1129.2" fill="none" stroke="#000" stroke-width="1" />
<path d="M 1374.7,1138.6 L 1382.3,1137.1 L 1382.3,1143.1 Z" fill="none" stroke="#000" stroke-width="2.5" />
<path d="M 1412.6,1090 C 1458.2,1117.3 1488.6,1153.8 1500.7,1193.3" fill="none" stroke="#000" stroke-width="1" />
<path d="M 1382.3,1162.3 L 1440,1199.3 L 1440,1218.2 M 1440,1199.3 L 1503.8,1193.3 L 1549.3,1172 L 1563,1153.8" fill="none" stroke="#000" stroke-width="2.5" />
<path d="M 1449.1,1199.3 L 1449.1,1217" fill="none" stroke="#000" stroke-width="1" />
<path d="M 1436.9,1073.3 L 1443,1071.7 M 1435.4,1068.7 L 1440,1062.6" fill="none" stroke="#000" stroke-width="2.5" />
<path d="M 1440,1062.6 C 1441.5,1093 1467.3,1123.4 1503.8,1124.9 M 1503.8,1124.9 C 1534.1,1123.4 1561.5,1108.2 1564.5,1090" fill="none" stroke="#000" stroke-width="1" />
<ellipse cx="1423.3" cy="1147.1" rx="20.7" ry="24.3" fill="#fff" stroke="#000" stroke-width="2.5" transform="rotate(-15 1423.3 1147.1)"/>
<ellipse cx="1425.4" cy="1149.2" rx="12.2" ry="15.8" fill="#fff" stroke="#000" stroke-width="2.5" transform="rotate(-15 1425.4 1149.2)"/>
<path d="M 1458.2,1156.8 L 1481,1155.3 L 1487.1,1165.9 L 1459.7,1167.4 Z" fill="#fff" stroke="#000" stroke-width="2.5" />
<path d="M 1458.2,1178.1 L 1482.5,1175.6 L 1488,1185.7 L 1460.6,1187.8 Z" fill="#fff" stroke="#000" stroke-width="2.5" />
<path d="M 1509.8,1137.1 L 1529.6,1134 M 1509.8,1137.1 L 1509.8,1172 L 1549.3,1165.9 L 1563,1153.8" fill="none" stroke="#000" stroke-width="1" />
<path d="M 1388.3,1102.1 L 1385.3,1162.9" fill="none" stroke="#000" stroke-width="1" />
<path d="M 1529.6,1109.7 L 1566,1090 L 1591.9,1102.1 L 1596.4,1117.3 L 1596.4,1135.5 L 1587.3,1143.1 L 1569.1,1134 L 1569.1,1141.6 L 1553.9,1141.6 L 1529.6,1127.9 Z" fill="#fff" stroke="#000" stroke-width="2.5" />
<path d="M 1529.6,1109.7 L 1553.9,1121.9 L 1553.9,1141.6 M 1553.9,1121.9 L 1569.1,1114.3 L 1569.1,1134 M 1569.1,1114.3 L 1579.7,1108.2 M 1569.1,1114.3 L 1587.3,1123.4 L 1596.4,1117.3 M 1587.3,1123.4 L 1587.3,1143.1" fill="none" stroke="#000" stroke-width="1" />
<ellipse cx="1541.7" cy="1124.9" rx="5.5" ry="7.3" fill="#fff" stroke="#000" stroke-width="2.5"/>
<ellipse cx="1576.7" cy="1129.5" rx="3.6" ry="5.5" fill="#fff" stroke="#000" stroke-width="2.5"/>
<path d="M 1440,1067.2 L 1441.5,1086.9 C 1452.1,1111.2 1479.5,1117.3 1503.8,1117.3 C 1528.1,1117.3 1555.4,1108.2 1564.5,1086.9 L 1564.5,1067.2 Z" fill="#fff" stroke="#000" stroke-width="0" />
<ellipse cx="1502.2" cy="1067.2" rx="62.3" ry="36.5" fill="#fff" stroke="#000" stroke-width="2.5"/>
<ellipse cx="1502.2" cy="1066.3" rx="54.7" ry="30.4" fill="#fff" stroke="#000" stroke-width="2.5"/>
<path d="M 1449.7,1062.6 Q 1502.2,1029.2 1554.8,1062.6" fill="none" stroke="#000" stroke-width="1" />
<path d="M 1450.3,1067.5 Q 1502.2,1034.1 1554.2,1067.5" fill="none" stroke="#000" stroke-width="1" />
<path d="M 1450.9,1072.4 Q 1502.2,1038.9 1553.6,1072.4" fill="none" stroke="#000" stroke-width="1" />
<path d="M 1451.5,1077.2 Q 1502.2,1043.8 1553,1077.2" fill="none" stroke="#000" stroke-width="1" />
<path d="M 1452.1,1082.1 Q 1502.2,1048.7 1552.4,1082.1" fill="none" stroke="#000" stroke-width="1" />
<path d="M 1459.7,1085.4 Q 1502.2,1068.7 1544.8,1085.4" fill="none" stroke="#000" stroke-width="2.5" />
<path d="M 1462.8,1083.9 Q 1502.2,1105.2 1541.7,1083.9" fill="none" stroke="#000" stroke-width="2.5" />
<path d="M 1506.8,1023.1 L 1509.8,1029.2" fill="none" stroke="#000" stroke-width="2.5" />
<line x1="1502.9" y1="992.8" x2="1502.9" y2="1083.9" stroke="#000" stroke-width="1"/>
<line x1="1502.9" y1="1211.5" x2="1502.9" y2="1241.9" stroke="#000" stroke-width="1"/>
<line x1="1543.3" y1="1275.3" x2="1607" y2="1311.7" stroke="#000" stroke-width="1"/>
<path d="M 1461.2,1240.3 L 1461.2,1270.7 A 42.5 22.8 0 0 0 1546.3,1270.7 L 1546.3,1240.3 Z" fill="#fff" stroke="#000" stroke-width="2.5" />
<ellipse cx="1503.8" cy="1240.3" rx="42.5" ry="22.8" fill="#fff" stroke="#000" stroke-width="2.5"/>
<ellipse cx="1503.8" cy="1240.3" rx="32.8" ry="17.3" fill="#fff" stroke="#000" stroke-width="9"/>
<ellipse cx="1503.8" cy="1241.9" rx="13.7" ry="7.6" fill="#fff" stroke="#000" stroke-width="2.5"/>
<line x1="1502.9" y1="1296.5" x2="1502.9" y2="1323.9" stroke="#000" stroke-width="1"/>
<line x1="1537.2" y1="1321.3" x2="1607" y2="1357.7" stroke="#000" stroke-width="1"/>
<path d="M 1496.2,1300.6 C 1479.5,1301.5 1469.7,1309.1 1469.7,1318.8 C 1469.7,1329.8 1485.5,1338 1503.8,1338 C 1522,1338 1537.8,1329.8 1537.8,1318.8 C 1537.8,1309.1 1528.1,1301.5 1510.4,1300.6" fill="none" stroke="#000" stroke-width="2.5" />
<line x1="1502.9" y1="1339.5" x2="1502.9" y2="1372.9" stroke="#000" stroke-width="1"/>
<line x1="1540.2" y1="1389.6" x2="1607" y2="1426.1" stroke="#000" stroke-width="1"/>
<path d="M 1462.8,1375.9 L 1463.4,1382 Q 1503.8,1415.4 1544.2,1382 L 1544.8,1375.9 Z" fill="#fff" stroke="#000" stroke-width="2.5" />
<ellipse cx="1503.8" cy="1375.9" rx="41" ry="23.7" fill="#fff" stroke="#000" stroke-width="2.5"/>
<ellipse cx="1503.8" cy="1377.5" rx="33.4" ry="18.2" fill="none" stroke="#000" stroke-width="1"/>
<path d="M 1481,1386.6 C 1470.4,1375.9 1482.5,1360.8 1503.8,1360.8 C 1522,1360.8 1532.6,1368.3 1531.1,1377.5 C 1529.6,1388.1 1512.9,1392.6 1496.2,1390.5" fill="none" stroke="#000" stroke-width="2.5" />
<path d="M 1481,1386.6 Q 1474.9,1383.5 1477.9,1379 Q 1482.5,1377.5 1484,1382 M 1496.2,1390.5 Q 1488.6,1391.1 1488.6,1386.6 Q 1491.6,1383.5 1495.3,1385.7" fill="none" stroke="#000" stroke-width="1.6" />
<line x1="1502.9" y1="1403.3" x2="1502.9" y2="1430.6" stroke="#000" stroke-width="1"/>
<line x1="1543.3" y1="1454.9" x2="1607" y2="1489.9" stroke="#000" stroke-width="1"/>
<path d="M 1462.8,1436.7 L 1462.8,1454.3 A 41 21.9 0 0 0 1544.8,1454.3 L 1544.8,1436.7 Z" fill="#fff" stroke="#000" stroke-width="2.5" />
<ellipse cx="1503.8" cy="1436.7" rx="41" ry="21.9" fill="#fff" stroke="#000" stroke-width="2.5"/>
<line x1="1467.3" y1="1449.5" x2="1463.1" y2="1466.5" stroke="#000" stroke-width="1.6"/>
<line x1="1477" y1="1450.4" x2="1472.8" y2="1468" stroke="#000" stroke-width="1.6"/>
<line x1="1486.8" y1="1451.3" x2="1482.5" y2="1469.5" stroke="#000" stroke-width="1.6"/>
<line x1="1496.5" y1="1454.6" x2="1492.2" y2="1471" stroke="#000" stroke-width="1.6"/>
<line x1="1506.2" y1="1454.6" x2="1501.9" y2="1471" stroke="#000" stroke-width="1.6"/>
<line x1="1515.9" y1="1453.7" x2="1511.7" y2="1469.5" stroke="#000" stroke-width="1.6"/>
<line x1="1525.6" y1="1450.4" x2="1521.4" y2="1468" stroke="#000" stroke-width="1.6"/>
<line x1="1535.4" y1="1449.5" x2="1531.1" y2="1466.5" stroke="#000" stroke-width="1.6"/>
<ellipse cx="1503.8" cy="1434.3" rx="23.7" ry="12.8" fill="#fff" stroke="#000" stroke-width="2.5"/>
<ellipse cx="1503.8" cy="1433.7" rx="13.7" ry="6.7" fill="#fff" stroke="#000" stroke-width="2.5"/>
<path d="M 1493.1,1431.2 L 1494.7,1436.1 M 1499.2,1429.1 L 1500.1,1438.2 M 1508.3,1429.1 L 1507.4,1438.2 M 1514.4,1431.2 L 1512.9,1436.1" fill="none" stroke="#000" stroke-width="1.6" />
<line x1="1502.9" y1="1476.2" x2="1502.9" y2="1494.4" stroke="#000" stroke-width="1"/>
<line x1="1520.5" y1="1517.2" x2="1607" y2="1564.3" stroke="#000" stroke-width="1"/>
<path d="M 1487.1,1494.4 L 1487.1,1518.1 A 16.7 7.6 0 0 0 1520.5,1518.1 L 1520.5,1494.4 Z" fill="#fff" stroke="#000" stroke-width="2.5" />
<ellipse cx="1503.8" cy="1494.4" rx="16.7" ry="7.6" fill="#fff" stroke="#000" stroke-width="2.5"/>
<ellipse cx="1503.8" cy="1495.3" rx="11.5" ry="4.9" fill="#fff" stroke="#000" stroke-width="2.5"/>
<line x1="1502.9" y1="1526.3" x2="1502.9" y2="1778.4" stroke="#000" stroke-width="1"/>
<line x1="1324.5" y1="1609.8" x2="1361" y2="1591.6" stroke="#000" stroke-width="1"/>
<path d="M 1357.7,1552.1 L 1357.7,1576.4 A 63.2 34.9 0 0 0 1484,1576.4 L 1484,1552.1 Z" fill="#fff" stroke="#000" stroke-width="2.5" />
<ellipse cx="1420.8" cy="1552.1" rx="63.2" ry="34.9" fill="#fff" stroke="#000" stroke-width="2.5"/>
<line x1="1358.6" y1="1560.6" x2="1355.6" y2="1580.1" stroke="#000" stroke-width="1.6"/>
<line x1="1362.7" y1="1568.2" x2="1359.6" y2="1587.6" stroke="#000" stroke-width="1.6"/>
<line x1="1369.7" y1="1575.1" x2="1366.7" y2="1594.5" stroke="#000" stroke-width="1.6"/>
<line x1="1379.4" y1="1580.9" x2="1376.3" y2="1600.4" stroke="#000" stroke-width="1.6"/>
<line x1="1391.2" y1="1585.4" x2="1388.1" y2="1604.8" stroke="#000" stroke-width="1.6"/>
<line x1="1404.5" y1="1588.3" x2="1401.4" y2="1607.7" stroke="#000" stroke-width="1.6"/>
<line x1="1418.6" y1="1589.5" x2="1415.6" y2="1608.9" stroke="#000" stroke-width="1.6"/>
<line x1="1432.9" y1="1588.8" x2="1427.4" y2="1608.3" stroke="#000" stroke-width="1.6"/>
<line x1="1446.5" y1="1586.5" x2="1441.1" y2="1605.9" stroke="#000" stroke-width="1.6"/>
<line x1="1458.9" y1="1582.5" x2="1453.4" y2="1601.9" stroke="#000" stroke-width="1.6"/>
<line x1="1469.2" y1="1577" x2="1463.8" y2="1596.5" stroke="#000" stroke-width="1.6"/>
<line x1="1477.1" y1="1570.4" x2="1471.7" y2="1589.9" stroke="#000" stroke-width="1.6"/>
<line x1="1482.1" y1="1563" x2="1476.7" y2="1582.4" stroke="#000" stroke-width="1.6"/>
<ellipse cx="1420.8" cy="1552.1" rx="45.6" ry="24.9" fill="none" stroke="#000" stroke-width="1"/>
<path d="M 1392.6,1541.5 L 1392.6,1556.7 A 26.7 13.7 0 0 0 1446.1,1556.7 L 1446.1,1541.5 Z" fill="#fff" stroke="#000" stroke-width="2.5" />
<ellipse cx="1419.3" cy="1541.5" rx="26.7" ry="13.7" fill="#fff" stroke="#000" stroke-width="2.5"/>
<ellipse cx="1419.3" cy="1541.5" rx="18.8" ry="9.1" fill="none" stroke="#000" stroke-width="1"/>
<path d="M 1406.6,1521.7 L 1406.6,1543 Q 1420.2,1549.1 1433.9,1543 L 1433.9,1521.7 Q 1420.2,1512.6 1406.6,1521.7 Z" fill="#fff" stroke="#000" stroke-width="2.5" />
<path d="M 1409.6,1526.3 L 1409.6,1543 M 1414.2,1524.2 L 1414.2,1544.5 M 1426.3,1524.2 L 1426.3,1544.5 M 1430.9,1526.3 L 1430.9,1543" fill="none" stroke="#000" stroke-width="1.6" />
<path d="M 1412.6,1519.3 Q 1420.2,1514.2 1427.8,1519.3" fill="none" stroke="#000" stroke-width="2.5" />
<line x1="1420.2" y1="1615.9" x2="1420.2" y2="1631.1" stroke="#000" stroke-width="1"/>
<line x1="1326.1" y1="1690.3" x2="1403.5" y2="1647.8" stroke="#000" stroke-width="1"/>
<path d="M 1402.9,1637.2 L 1402.9,1649.9 A 17.3 8.5 0 0 0 1437.5,1649.9 L 1437.5,1637.2 Z" fill="#fff" stroke="#000" stroke-width="2.5" />
<ellipse cx="1420.2" cy="1637.2" rx="17.3" ry="8.5" fill="#fff" stroke="#000" stroke-width="2.5"/>
<ellipse cx="1420.2" cy="1637.8" rx="9.7" ry="4.6" fill="#fff" stroke="#000" stroke-width="2.5"/>
<line x1="1420.2" y1="1660" x2="1420.2" y2="1682.7" stroke="#000" stroke-width="1"/>
<line x1="1326.1" y1="1726.8" x2="1399" y2="1685.8" stroke="#000" stroke-width="1"/>
<ellipse cx="1419.6" cy="1681.2" rx="21.9" ry="12.2" fill="#fff" stroke="#000" stroke-width="2.5"/>
<ellipse cx="1419.6" cy="1682.1" rx="14.6" ry="7.3" fill="#fff" stroke="#000" stroke-width="2.5"/>
<line x1="1420.2" y1="1697.9" x2="1420.2" y2="1748.1" stroke="#000" stroke-width="1"/>
<path d="M 1414.2,1710.1 C 1382.3,1710.1 1354.9,1725.3 1354.9,1743.5 C 1354.9,1748.1 1361,1751.1 1370.1,1755.7 L 1461.2,1801.2 C 1473.4,1808.8 1482.5,1811.8 1503.8,1814 C 1528.1,1816.4 1549.3,1810.3 1552.4,1796.7 C 1553.9,1786 1546.3,1776.9 1531.1,1765.1 L 1455.2,1720.7 C 1443,1713.1 1436.9,1710.7 1426.3,1710.1" fill="none" stroke="#000" stroke-width="2.5" />
<line x1="1549.3" y1="1801.6" x2="1607" y2="1836.6" stroke="#000" stroke-width="1"/>
<line x1="1502.9" y1="1750" x2="1502.9" y2="1778.9" stroke="#000" stroke-width="1"/>
<line x1="1418.7" y1="1792.5" x2="1418.7" y2="1850.2" stroke="#000" stroke-width="1"/>
<line x1="1502.9" y1="1822.9" x2="1502.9" y2="1901.9" stroke="#000" stroke-width="1"/>
<line x1="1467.3" y1="1967.2" x2="1467.3" y2="1993" stroke="#000" stroke-width="1"/>
<line x1="1494.7" y1="2011.2" x2="1607" y2="2072" stroke="#000" stroke-width="1"/>
<path d="M 1439.1,1993 L 1439.1,2009.7 A 28.3 15.2 0 0 0 1495.6,2009.7 L 1495.6,1993 Z" fill="#fff" stroke="#000" stroke-width="2.5" />
<ellipse cx="1467.3" cy="1993" rx="28.3" ry="15.2" fill="#fff" stroke="#000" stroke-width="2.5"/>
<ellipse cx="1467.3" cy="1993.6" rx="22.8" ry="11.5" fill="none" stroke="#000" stroke-width="1"/>
<ellipse cx="1467.3" cy="1993.9" rx="18.2" ry="9.1" fill="#fff" stroke="#000" stroke-width="2.5"/>
<ellipse cx="1467.3" cy="1994.5" rx="12.2" ry="5.5" fill="#fff" stroke="#000" stroke-width="2.5"/>
<line x1="1467.3" y1="2026.4" x2="1467.3" y2="2053.8" stroke="#000" stroke-width="1"/>
<line x1="1496.2" y1="2069" x2="1607" y2="2131.2" stroke="#000" stroke-width="1"/>
<path d="M 1461.2,2038.3 C 1446.1,2039.5 1434.8,2047.1 1434.8,2056.2 C 1434.8,2066.5 1449.1,2074.4 1467.3,2074.4 C 1485.5,2074.4 1499.8,2066.5 1499.8,2056.2 C 1499.8,2047.1 1488.6,2039.5 1473.4,2038.3" fill="none" stroke="#000" stroke-width="2.5" />
<line x1="1467.3" y1="2076.5" x2="1467.3" y2="2108.4" stroke="#000" stroke-width="1"/>
<line x1="1496.2" y1="2128.2" x2="1607" y2="2190.5" stroke="#000" stroke-width="1"/>
<path d="M 1434.8,2108.4 L 1434.8,2120.6 A 32.5 17.6 0 0 0 1499.8,2120.6 L 1499.8,2108.4 Z" fill="#fff" stroke="#000" stroke-width="2.5" />
<ellipse cx="1467.3" cy="2108.4" rx="32.5" ry="17.6" fill="#fff" stroke="#000" stroke-width="2.5"/>
<ellipse cx="1467.3" cy="2109.1" rx="27.3" ry="14" fill="none" stroke="#000" stroke-width="1"/>
<ellipse cx="1467.3" cy="2110" rx="19.7" ry="10" fill="#fff" stroke="#000" stroke-width="2.5"/>
<ellipse cx="1467.3" cy="2110.9" rx="13.7" ry="6.1" fill="#fff" stroke="#000" stroke-width="2.5"/>
<line x1="1467.3" y1="2140.3" x2="1467.3" y2="2188.9" stroke="#000" stroke-width="1"/>
<line x1="1564.5" y1="1911" x2="1607" y2="1935.3" stroke="#000" stroke-width="1"/>
<path d="M 1345.8,1847.9 C 1347.4,1832.1 1377.4,1813.2 1413.7,1810.8 L 1423.2,1810.8 C 1440.6,1811.6 1456.4,1816.3 1464.3,1821.1 L 1497.4,1825.8 L 1506.9,1829 L 1565.4,1862.1 Q 1574,1866.9 1573.3,1873.2 L 1570.1,1889 C 1563.8,1906.4 1551.1,1922.2 1535.3,1938 C 1519.6,1942.7 1488,1944.3 1470.6,1953.8 L 1467.4,1964 Q 1456.4,1967.2 1443.7,1964.8 L 1377.4,1922.2 C 1361.6,1906.4 1345.8,1874.8 1345.8,1847.9 Z" fill="#fff" stroke="#000" stroke-width="2.5" />
<path d="M 1350.5,1843.2 C 1351.3,1855.8 1358.4,1871.6 1377.4,1887.4 L 1443.7,1941.1 Q 1456.4,1945.9 1472.2,1941.1 C 1503.8,1934.8 1527.4,1931.6 1540.1,1922.2 C 1554.3,1906.4 1563.8,1890.6 1566.9,1874.8" fill="none" stroke="#000" stroke-width="1" />
<path d="M 1347.4,1862.1 C 1353.7,1881.1 1364.8,1900 1382.1,1914.3 L 1446.9,1945.9 Q 1472.2,1947.4 1488,1941.1" fill="none" stroke="#000" stroke-width="1" />
<path d="M 1469,1955.3 Q 1480.1,1947.4 1503.8,1945.9" fill="none" stroke="#000" stroke-width="2.5" />
<path d="M 1472.2,1956.9 Q 1488,1949.8 1535.3,1938.7" fill="none" stroke="#000" stroke-width="1.6" />
<path d="M 1372.3,1908.7 L 1372.3,1919.8" fill="none" stroke="#000" stroke-width="1" />
<ellipse cx="1415.3" cy="1847.1" rx="61.9" ry="36" fill="none" stroke="#000" stroke-width="2.5"/>
<ellipse cx="1415.3" cy="1847.1" rx="57.7" ry="32.9" fill="none" stroke="#000" stroke-width="1"/>
<path d="M 1360,1847.9 L 1385.3,1847.9 M 1377.4,1830.5 L 1393.2,1838.8 M 1423.2,1835.3 L 1454.8,1832.1 M 1446.9,1847.9 L 1470.6,1847.9 M 1404.2,1824.2 L 1404.2,1833.7 M 1410.6,1823.4 L 1411.3,1832.1 M 1404.2,1824.2 L 1410.6,1823.4" fill="none" stroke="#000" stroke-width="2.5" />
<path d="M 1373.4,1833.7 L 1373.4,1847.9 M 1373.4,1833.7 L 1386.9,1840.8 M 1432.7,1836.9 Q 1440.6,1843.2 1445.3,1847.9 M 1377.4,1870 L 1385.3,1862.1" fill="none" stroke="#000" stroke-width="1" />
<ellipse cx="1416.1" cy="1854.2" rx="30.8" ry="17.4" fill="#fff" stroke="#000" stroke-width="2.5"/>
<ellipse cx="1416.1" cy="1853" rx="23.7" ry="13.4" fill="#fff" stroke="#000" stroke-width="2.5"/>
<path d="M 1399.5,1859.8 Q 1416.1,1849.5 1432.7,1859.8 M 1399.5,1859.8 Q 1416.1,1870.8 1432.7,1859.8" fill="none" stroke="#000" stroke-width="2.5" />
<path d="M 1386.9,1862.1 Q 1401.1,1874.8 1424.8,1874.8 M 1421.6,1874.8 L 1422.4,1878.7 M 1412.1,1873.2 L 1412.9,1877.9" fill="none" stroke="#000" stroke-width="1" />
<path d="M 1415.3,1888.2 L 1488,1923 Q 1511.7,1925.3 1527.4,1914.3 Q 1540.1,1903.2 1533.8,1890.6" fill="none" stroke="#000" stroke-width="2.5" />
<path d="M 1397.9,1882.7 L 1484.8,1928.5 Q 1516.4,1931.6 1533.8,1919 Q 1549.6,1904.8 1541.7,1889" fill="none" stroke="#000" stroke-width="1" />
<path d="M 1390,1883.5 L 1481.6,1932.4 Q 1519.6,1938 1540.1,1922.2" fill="none" stroke="#000" stroke-width="1" />
<path d="M 1476.9,1843.2 L 1535.3,1890.6 M 1481.6,1840 L 1540.1,1884.3" fill="none" stroke="#000" stroke-width="1" />
<path d="M 1464.3,1821.9 C 1476.9,1832.1 1478.5,1847.9 1472.2,1862.1" fill="none" stroke="#000" stroke-width="2.5" />
<ellipse cx="1467.4" cy="1884.3" rx="23.7" ry="13.4" fill="#fff" stroke="#000" stroke-width="2.5"/>
<ellipse cx="1467.4" cy="1882.7" rx="20.5" ry="11.1" fill="none" stroke="#000" stroke-width="1"/>
<path d="M 1444,1885 L 1444.5,1893.7 Q 1456.4,1904.8 1472.2,1904.8 L 1481.6,1903.2" fill="none" stroke="#000" stroke-width="1.6" />
<ellipse cx="1467.4" cy="1894" rx="14.5" ry="7.3" fill="#fff" stroke="#000" stroke-width="2.5"/>
<path d="M 1440.6,1865.3 L 1446.9,1868.5 L 1440.6,1871.6 M 1465.8,1863.7 L 1465.8,1873.2 M 1470.6,1863.7 L 1470.6,1872.4" fill="none" stroke="#000" stroke-width="2.5" />
<path d="M 1475.3,1863.7 Q 1488,1865.3 1495.9,1871.6 M 1492.7,1868.5 L 1497.4,1863.7" fill="none" stroke="#000" stroke-width="2.5" />
<path d="M 1508.5,1890.6 Q 1522.7,1895.3 1523.5,1906.4 M 1522.7,1893.7 L 1530.6,1892.2 M 1523.5,1906.4 L 1532.2,1914.3 M 1497.4,1914.3 L 1492.7,1920.6 M 1500.6,1915.1 L 1499.8,1922.2" fill="none" stroke="#000" stroke-width="2.5" />
<path d="M 1489.5,1922.2 L 1524.3,1915.8 M 1516.4,1911.1 L 1516.4,1917.4 M 1481.6,1900 L 1481.6,1914.3" fill="none" stroke="#000" stroke-width="1" />
<ellipse cx="1503" cy="1903.2" rx="12.6" ry="7.1" fill="#fff" stroke="#000" stroke-width="2.5"/>
<path d="M 1524.3,1897.7 L 1533.8,1896.9 L 1534.6,1904.8" fill="none" stroke="#000" stroke-width="1" />
<ellipse cx="1382.9" cy="1897.7" rx="7.1" ry="3.9" fill="#fff" stroke="#000" stroke-width="2.5"/>
<ellipse cx="1490.3" cy="1833.7" rx="7.1" ry="3.9" fill="#fff" stroke="#000" stroke-width="2.5"/>
<ellipse cx="1557.5" cy="1871.6" rx="7.1" ry="3.9" fill="#fff" stroke="#000" stroke-width="2.5"/>
<ellipse cx="1449.3" cy="1938.7" rx="7.1" ry="3.9" fill="#fff" stroke="#000" stroke-width="2.5"/>
<path d="M 1390,1905.6 L 1434.3,1932.9 L 1446.1,1927.7 L 1446.1,1919.3 M 1401.1,1900 L 1401.1,1907.9 M 1401.1,1900 L 1446.1,1919.3" fill="none" stroke="#000" stroke-width="2.5" />
<path d="M 1401.1,1907.9 L 1435.8,1928.5" fill="none" stroke="#000" stroke-width="1" />
<path d="M 1453.2,1922.2 L 1454.8,1928.5 L 1465.8,1936.4 L 1473.7,1932.4 M 1454.8,1928.5 L 1461.1,1926.9" fill="none" stroke="#000" stroke-width="2.5" />
<path d="M 1508.5,1852.7 L 1533.8,1875.6 L 1551.1,1862.1 M 1508.5,1852.7 L 1508.5,1836.9 L 1551.1,1862.1 M 1508.5,1852.7 L 1541.7,1871.6" fill="none" stroke="#000" stroke-width="2.5" />
<path d="M 1538.5,1880.3 L 1550.4,1891.4 L 1559.8,1882.7 M 1538.5,1880.3 L 1541.7,1877.9 L 1559.8,1882.7 M 1541.7,1877.9 L 1550.4,1891.4" fill="none" stroke="#000" stroke-width="2.5" />
<path d="M 1494.3,1843.2 L 1497.4,1845.6 L 1497.4,1849.5 Z" fill="none" stroke="#000" stroke-width="2.5" />
<line x1="1418.5" y1="1793.4" x2="1418.5" y2="1859" stroke="#000" stroke-width="1"/>
<line x1="1502.6" y1="1821.9" x2="1502.6" y2="1902.4" stroke="#000" stroke-width="1"/>
<line x1="1467.4" y1="1966.4" x2="1467.4" y2="1980" stroke="#000" stroke-width="1"/>
<line x1="963.7" y1="608.5" x2="963.7" y2="631.1" stroke="#000" stroke-width="1"/>
<line x1="895.1" y1="637.7" x2="923.1" y2="652.2" stroke="#000" stroke-width="1"/>
<path d="M 963.2,631.1 C 936.5,629.2 914.6,663.2 919,692.3 Q 921.9,703.3 931.6,705 L 972.9,726.4 L 1155.2,826 L 1191.6,770.1 L 1105.3,719.1 L 1010.6,659.5 Z" fill="#fff" stroke="#000" stroke-width="0" />
<path d="M 1010.6,659.5 L 963.2,631.1 C 936.5,629.2 914.6,663.2 919,692.3 Q 921.9,703.3 931.6,705 L 972.9,726.4" fill="none" stroke="#000" stroke-width="2.5" />
<polyline points="958.9,723.2 957,721.7 955.4,719.8 954,717.7 953,715.2 952.2,712.4 951.7,709.4 951.5,706.2 951.6,702.8 952,699.2 952.7,695.6 953.8,691.9 955,688.1 956.6,684.4 958.4,680.8 960.4,677.2 962.7,673.8 965.1,670.6 967.7,667.5 970.4,664.8 973.2,662.3 976,660.1 978.9,658.2 981.8,656.7 984.6,655.6 987.4,654.8 990.2,654.5 992.7,654.5" fill="none" stroke="#000" stroke-width="1" stroke-linejoin="round"/>
<polyline points="964,725.2 962.1,723.7 960.6,721.9 959.2,719.8 958.2,717.3 957.4,714.6 956.9,711.6 956.7,708.4 956.8,705.1 957.2,701.6 957.9,698 958.9,694.3 960.2,690.6 961.7,686.9 963.5,683.3 965.5,679.8 967.7,676.4 970.1,673.2 972.7,670.2 975.3,667.5 978.1,665 980.9,662.9 983.8,661.1 986.6,659.6 989.4,658.4 992.2,657.7 994.9,657.3 997.4,657.4" fill="none" stroke="#000" stroke-width="1" stroke-linejoin="round"/>
<path d="M 972.9,726.4 L 1155.2,826.5" fill="none" stroke="#000" stroke-width="2.5" />
<path d="M 1006.9,657.8 L 1079.8,702.1 L 1081,706.9 L 1072.5,710.6 L 1073.8,713.7 L 1094.4,725.2 Q 1100.5,726.9 1102.9,723.9 L 1105.3,719.6 L 1189.2,767.7" fill="none" stroke="#000" stroke-width="2.5" />
<path d="M 1092,710.6 L 1104.1,717.9" fill="none" stroke="#000" stroke-width="2.5" stroke-dasharray="2 2"/>
<polyline points="1003.2,742.8 1001.4,741.4 999.9,739.6 998.6,737.5 997.5,735.1 996.8,732.4 996.3,729.5 996.1,726.3 996.2,723 996.6,719.6 997.3,716.1 998.3,712.5 999.5,708.9 1001,705.2 1002.8,701.7 1004.8,698.3 1006.9,695 1009.3,691.8 1011.8,688.9 1014.4,686.2 1017.1,683.8 1019.8,681.7 1022.6,679.9 1025.4,678.4 1028.2,677.3 1030.9,676.6 1033.5,676.2 1036,676.2" fill="none" stroke="#000" stroke-width="1" stroke-linejoin="round"/>
<polyline points="1082.5,788.5 1080.7,787.1 1079.2,785.4 1077.9,783.3 1076.8,780.9 1076.1,778.3 1075.6,775.4 1075.4,772.3 1075.5,769.1 1075.9,765.7 1076.6,762.2 1077.6,758.6 1078.8,755 1080.3,751.5 1082,748 1084,744.6 1086.1,741.3 1088.4,738.2 1090.9,735.3 1093.5,732.7 1096.1,730.3 1098.9,728.2 1101.6,726.4 1104.4,725 1107.1,723.9 1109.8,723.2 1112.4,722.8 1114.8,722.9" fill="none" stroke="#000" stroke-width="1" stroke-linejoin="round"/>
<ellipse cx="1005" cy="668" rx="2.2" ry="3.4" fill="none" stroke="#000" stroke-width="1.6" transform="rotate(-20 1005 668)"/>
<ellipse cx="984.6" cy="687.5" rx="2.2" ry="3.4" fill="none" stroke="#000" stroke-width="1.6" transform="rotate(-20 984.6 687.5)"/>
<ellipse cx="980.7" cy="718.6" rx="2.2" ry="3.4" fill="none" stroke="#000" stroke-width="1.6" transform="rotate(-20 980.7 718.6)"/>
<ellipse cx="1059.7" cy="699.6" rx="2.2" ry="3.4" fill="none" stroke="#000" stroke-width="1.6" transform="rotate(-20 1059.7 699.6)"/>
<ellipse cx="1045.1" cy="719.1" rx="2.2" ry="3.4" fill="none" stroke="#000" stroke-width="1.6" transform="rotate(-20 1045.1 719.1)"/>
<ellipse cx="1037.8" cy="737.8" rx="2.2" ry="3.4" fill="none" stroke="#000" stroke-width="1.6" transform="rotate(-20 1037.8 737.8)"/>
<ellipse cx="1040.5" cy="753.6" rx="2.2" ry="3.4" fill="none" stroke="#000" stroke-width="1.6" transform="rotate(-20 1040.5 753.6)"/>
<ellipse cx="1167.3" cy="794.4" rx="36" ry="20.8" fill="#fff" stroke="#000" stroke-width="2.5" transform="rotate(-60 1167.3 794.4)"/>
<polyline points="1150.5,790.3 1151.9,787.3 1153.5,784.5 1155.3,781.8 1157.2,779.2 1159.2,776.8 1161.4,774.5 1163.6,772.5 1165.9,770.8 1168.2,769.2 1170.5,768 1172.7,767.1 1175,766.4 1177.1,766.1 1179.2,766 1181.1,766.3 1183,766.9 1184.6,767.8 1186.1,769 1187.4,770.4 1188.5,772.2 1189.3,774.1 1190,776.3 1190.4,778.7 1190.5,781.3 1190.4,784 1190.1,786.8 1189.6,789.7 1188.8,792.6 1187.8,795.6 1186.5,798.6 1185.1,801.5 1183.5,804.3 1181.8,807 1179.8,809.6 1177.8,812.1 1175.7,814.3 1173.5,816.3 1171.2,818.1 1168.9,819.6 1166.6,820.8 1164.3,821.8 1162.1,822.4 1159.9,822.7 1157.9,822.8 1155.9,822.5 1154.1,821.9 1152.4,821 1151,819.8 1149.7,818.4 1148.6,816.7 1147.7,814.7 1147.1,812.5 1146.7,810.1 1146.5,807.6 1146.6,804.9 1146.9,802 1147.5,799.1 1148.3,796.2 1149.3,793.2 1150.5,790.3" fill="none" stroke="#000" stroke-width="1" stroke-linejoin="round"/>
<polyline points="1181.2,807.1 1179.4,809.5 1177.5,811.6 1175.5,813.6 1173.4,815.4 1171.4,816.9 1169.2,818.2 1167.1,819.2 1165.1,820 1163,820.4 1161.1,820.6 1159.2,820.5 1157.5,820.1 1155.9,819.5 1154.5,818.5 1153.2,817.3 1152.1,815.8 1151.2,814.1 1150.6,812.2 1150.1,810.1 1149.9,807.8 1149.8,805.4 1150,802.9 1150.5,800.2 1151.1,797.5 1152,794.8 1153,792.1 1154.2,789.4 1155.7,786.8 1157.2,784.2 1158.9,781.8 1160.8,779.5 1162.7,777.4 1164.7,775.5 1166.8,773.9 1168.9,772.4 1171,771.2 1173.1,770.3 1175.1,769.6 1177.1,769.3 1179.1,769.2 1180.9,769.4 1182.6,769.9 1184.1,770.6 1185.5,771.7 1186.7,773 1187.7,774.5 1188.5,776.3 1189.1,778.3 1189.5,780.5 1189.7,782.8 1189.6,785.3 1189.3,787.9 1188.8,790.5 1188.1,793.2 1187.2,796 1186.1,798.7" fill="none" stroke="#000" stroke-width="2.5" stroke-linejoin="round"/>
<line x1="1167.3" y1="793.2" x2="1192.8" y2="806.6" stroke="#000" stroke-width="1"/>
<line x1="1227.6" y1="761.6" x2="1227.6" y2="781.8" stroke="#000" stroke-width="1"/>
<ellipse cx="1214" cy="822.8" rx="45" ry="25.9" fill="#fff" stroke="#000" stroke-width="2.5" transform="rotate(-60 1214 822.8)"/>
<path d="M 1236.6,784 L 1265.7,800.5 L 1220.8,878.3 L 1191.6,861.7 Z" fill="#fff" stroke="#000" stroke-width="0" />
<path d="M 1236.6,784 L 1265.7,800.5 M 1191.6,861.7 L 1220.8,878.3" fill="none" stroke="#000" stroke-width="2.5" />
<ellipse cx="1243.1" cy="839.4" rx="45" ry="25.9" fill="#fff" stroke="#000" stroke-width="2.5" transform="rotate(-60 1243.1 839.4)"/>
<ellipse cx="1243.1" cy="839.9" rx="39.6" ry="22.9" fill="none" stroke="#000" stroke-width="1" transform="rotate(-60 1243.1 839.9)"/>
<ellipse cx="1243.1" cy="840.1" rx="33.5" ry="19.4" fill="#fff" stroke="#000" stroke-width="2.5" transform="rotate(-60 1243.1 840.1)"/>
<polyline points="1227.3,822 1229.4,819.6 1231.6,817.3 1233.9,815.3 1236.2,813.6 1238.5,812.1 1240.9,810.9 1243.2,810.1 1245.5,809.5 1247.7,809.3 1249.7,809.4 1251.7,809.8 1253.5,810.5 1255.1,811.6 1256.5,812.9 1257.7,814.5 1258.7,816.4 1259.4,818.6 1260,820.9 1260.2,823.5 1260.2,826.2 1260,829 1259.5,832" fill="none" stroke="#000" stroke-width="1.6" stroke-linejoin="round"/>
<polyline points="1255.3,849.8 1253.7,852.1 1252,854.2 1250.2,856.2 1248.3,858.1 1246.4,859.7 1244.4,861.1 1242.5,862.3 1240.5,863.2 1238.6,863.9 1236.7,864.3 1234.8,864.5 1233.1,864.4 1231.5,864 1230,863.4 1228.7,862.5 1227.5,861.4 1226.4,860 1225.6,858.4 1225,856.6 1224.5,854.6 1224.3,852.5 1224.3,850.2 1224.4,847.9 1224.8,845.4 1225.4,842.9 1226.2,840.3 1227.1,837.8 1228.2,835.3 1229.5,832.8 1231,830.4 1232.6,828.1 1234.3,826 1236.1,824 1237.9,822.1 1239.9,820.5 1241.8,819.1 1243.8,817.9 1245.8,817 1247.7,816.3 1249.6,815.9" fill="none" stroke="#000" stroke-width="1.6" stroke-linejoin="round"/>
<line x1="1256.5" y1="854.5" x2="1254" y2="851.7" stroke="#000" stroke-width="1.6"/>
<line x1="1250.7" y1="861.2" x2="1249.3" y2="857.2" stroke="#000" stroke-width="1.6"/>
<line x1="1244.4" y1="866.3" x2="1244.1" y2="861.3" stroke="#000" stroke-width="1.6"/>
<line x1="1237.9" y1="869.4" x2="1238.9" y2="863.8" stroke="#000" stroke-width="1.6"/>
<line x1="1231.8" y1="870.2" x2="1234" y2="864.5" stroke="#000" stroke-width="1.6"/>
<line x1="1234" y1="864.5" x2="1247.3" y2="860.8" stroke="#000" stroke-width="1"/>
<line x1="1226.6" y1="868.7" x2="1229.8" y2="863.2" stroke="#000" stroke-width="1.6"/>
<line x1="1229.8" y1="863.2" x2="1243.1" y2="859.6" stroke="#000" stroke-width="1"/>
<line x1="1222.7" y1="865" x2="1226.6" y2="860.2" stroke="#000" stroke-width="1.6"/>
<line x1="1226.6" y1="860.2" x2="1240" y2="856.6" stroke="#000" stroke-width="1"/>
<line x1="1220.4" y1="859.3" x2="1224.7" y2="855.6" stroke="#000" stroke-width="1.6"/>
<line x1="1224.7" y1="855.6" x2="1238.1" y2="852" stroke="#000" stroke-width="1"/>
<line x1="1219.8" y1="852.2" x2="1224.3" y2="849.9" stroke="#000" stroke-width="1.6"/>
<line x1="1224.3" y1="849.9" x2="1237.6" y2="846.2" stroke="#000" stroke-width="1"/>
<line x1="1221" y1="844.1" x2="1225.3" y2="843.3" stroke="#000" stroke-width="1.6"/>
<line x1="1225.3" y1="843.3" x2="1238.6" y2="839.7" stroke="#000" stroke-width="1"/>
<line x1="1224" y1="835.7" x2="1227.7" y2="836.5" stroke="#000" stroke-width="1.6"/>
<line x1="1227.7" y1="836.5" x2="1241" y2="832.9" stroke="#000" stroke-width="1"/>
<line x1="1228.4" y1="827.6" x2="1231.2" y2="830" stroke="#000" stroke-width="1.6"/>
<line x1="1231.2" y1="830" x2="1244.6" y2="826.4" stroke="#000" stroke-width="1"/>
<line x1="1234" y1="820.5" x2="1235.8" y2="824.3" stroke="#000" stroke-width="1.6"/>
<line x1="1235.8" y1="824.3" x2="1249.1" y2="820.6" stroke="#000" stroke-width="1"/>
<line x1="1240.3" y1="815" x2="1240.8" y2="819.8" stroke="#000" stroke-width="1.6"/>
<line x1="1246.8" y1="811.3" x2="1246.1" y2="816.8" stroke="#000" stroke-width="1.6"/>
<line x1="1241.4" y1="834.5" x2="1277.9" y2="855.2" stroke="#000" stroke-width="1"/>
<line x1="1320.2" y1="816.1" x2="1320.2" y2="832.5" stroke="#000" stroke-width="1"/>
<ellipse cx="1303" cy="875" rx="50" ry="28.8" fill="#fff" stroke="#000" stroke-width="2.5" transform="rotate(-60 1303 875)"/>
<ellipse cx="1305.5" cy="876.5" rx="46" ry="26.5" fill="none" stroke="#000" stroke-width="1" transform="rotate(-60 1305.5 876.5)"/>
<polyline points="1321,893.1 1318.6,896.1 1316.2,899 1313.5,901.6 1310.9,903.9 1308.1,905.9 1305.3,907.6 1302.6,908.9 1299.9,909.9 1297.2,910.5 1294.6,910.8 1292.2,910.6 1289.9,910.1 1287.8,909.2 1286,908 1284.3,906.4 1282.9,904.5 1281.7,902.2 1280.8,899.7 1280.2,897 1279.9,894 1279.9,890.8 1280.1,887.4 1280.7,884 1281.5,880.4 1282.7,876.9 1284,873.3 1285.7,869.8 1287.5,866.3 1289.6,863 1291.8,859.8 1294.2,856.8 1296.8,854.1 1299.4,851.6 1302.1,849.4 1304.9,847.5 1307.6,845.9 1310.4,844.7 1313.1,843.8 1315.7,843.3 1318.2,843.2 1320.6,843.5 1322.8,844.1 1324.8,845.2 1326.7,846.5 1328.2,848.2 1329.6,850.3 1330.6,852.6 1331.4,855.2 1331.9,858.1 1332.1,861.1 1332.1,864.4 1331.7,867.8 1331,871.3 1330.1,874.8 1328.9,878.4 1327.4,881.9" fill="none" stroke="#000" stroke-width="2.5" stroke-linejoin="round"/>
<polyline points="1294.2,863.2 1296.4,860.4 1298.7,857.7 1301.2,855.3 1303.7,853.2 1306.2,851.3 1308.8,849.8 1311.4,848.6 1313.9,847.7 1316.4,847.1 1318.7,847 1321,847.1 1323.1,847.7 1325,848.6 1326.7,849.8 1328.2,851.3 1329.5,853.2 1330.5,855.3 1331.3,857.7 1331.8,860.4 1332,863.2 1332,866.2 1331.6,869.3 1331,872.6 1330.2,875.9 1329,879.2 1327.7,882.5" fill="none" stroke="#000" stroke-width="1" stroke-linejoin="round"/>
<line x1="1308.6" y1="873.7" x2="1354.9" y2="899.9" stroke="#000" stroke-width="1"/>
<polygon points="1352.3,901.8 1395.7,874.4 1395.7,925.5 1352.3,951" fill="#000" stroke="#000" stroke-width="0.5" stroke-linejoin="round"/>
<text transform="matrix(0.866,-0.5,0,1,1355.2,947.3)" style="font-size:65px;fill:#fff;stroke:#fff;stroke-width:1.3">A</text>
<polygon points="409.4,788.8 454.9,763.2 498.7,788.8 454.9,813.2" fill="#000" stroke="#000" stroke-width="0.5" stroke-linejoin="round"/>
<text transform="matrix(0.866,-0.5,0.866,0.5,456.7,810.2)" style="font-size:65px;fill:#fff;stroke:#fff;stroke-width:1.3">A</text>
<polygon points="1423.3,2214.8 1467.3,2188.9 1512.9,2214.8 1467.3,2240.6" fill="#000" stroke="#000" stroke-width="0.5" stroke-linejoin="round"/>
<text transform="matrix(0.866,-0.5,0.866,0.5,1469.2,2237.6)" style="font-size:65px;fill:#fff;stroke:#fff;stroke-width:1.3">A</text>
<line x1="321.6" y1="957.3" x2="370.1" y2="957.3" stroke="#000" stroke-width="1"/>
<path d="M 370.1,919.5 L 371.9,956.9 C 380.1,982.4 416.5,993.7 453.9,993.7 C 491.3,993.7 529.6,982.4 536.5,956.9 L 537.8,919.5 Z" fill="#fff" stroke="#000" stroke-width="2.5" />
<ellipse cx="453.9" cy="919.5" rx="83.8" ry="48.3" fill="#fff" stroke="#000" stroke-width="2.5"/>
<ellipse cx="453.9" cy="921.7" rx="73.8" ry="42.8" fill="#fff" stroke="#000" stroke-width="2.5"/>
<path d="M 381,927.7 C 387.4,955.1 422,968.7 453.9,968.7 C 485.8,968.7 520.4,955.1 527.4,927.7" fill="none" stroke="#000" stroke-width="1" />
<line x1="489.6" y1="925.7" x2="525.2" y2="930.5" stroke="#000" stroke-width="2.5"/>
<line x1="497.2" y1="933.4" x2="519.7" y2="941" stroke="#000" stroke-width="1"/>
<line x1="489.6" y1="925.7" x2="497.2" y2="933.4" stroke="#000" stroke-width="1.6"/>
<line x1="481" y1="935.4" x2="508.1" y2="950" stroke="#000" stroke-width="2.5"/>
<line x1="481.8" y1="944.4" x2="496.2" y2="957.7" stroke="#000" stroke-width="1"/>
<line x1="481" y1="935.4" x2="481.8" y2="944.4" stroke="#000" stroke-width="1.6"/>
<line x1="465.2" y1="941.3" x2="476.4" y2="961.9" stroke="#000" stroke-width="2.5"/>
<line x1="458.9" y1="949.4" x2="461.4" y2="965.4" stroke="#000" stroke-width="1"/>
<line x1="465.2" y1="941.3" x2="458.9" y2="949.4" stroke="#000" stroke-width="1.6"/>
<line x1="446.3" y1="941.9" x2="438.8" y2="963.1" stroke="#000" stroke-width="2.5"/>
<line x1="434.6" y1="947.2" x2="424.6" y2="962" stroke="#000" stroke-width="1"/>
<line x1="446.3" y1="941.9" x2="434.6" y2="947.2" stroke="#000" stroke-width="1.6"/>
<line x1="429.5" y1="936.9" x2="405.1" y2="953.1" stroke="#000" stroke-width="2.5"/>
<line x1="415.6" y1="938.3" x2="395.7" y2="948.5" stroke="#000" stroke-width="1"/>
<line x1="429.5" y1="936.9" x2="415.6" y2="938.3" stroke="#000" stroke-width="1.6"/>
<line x1="419.2" y1="927.8" x2="384.6" y2="934.8" stroke="#000" stroke-width="2.5"/>
<line x1="406.8" y1="925.1" x2="382.3" y2="928.4" stroke="#000" stroke-width="1"/>
<line x1="419.2" y1="927.8" x2="406.8" y2="925.1" stroke="#000" stroke-width="1.6"/>
<line x1="418.3" y1="917" x2="382.6" y2="912.9" stroke="#000" stroke-width="2.5"/>
<line x1="410.6" y1="911.1" x2="388.1" y2="907.2" stroke="#000" stroke-width="1"/>
<line x1="418.3" y1="917" x2="410.6" y2="911.1" stroke="#000" stroke-width="1.6"/>
<line x1="426.8" y1="907.3" x2="399.7" y2="893.4" stroke="#000" stroke-width="2.5"/>
<line x1="426.1" y1="900.1" x2="411.6" y2="890.5" stroke="#000" stroke-width="1"/>
<line x1="426.8" y1="907.3" x2="426.1" y2="900.1" stroke="#000" stroke-width="1.6"/>
<line x1="442.6" y1="901.4" x2="431.4" y2="881.5" stroke="#000" stroke-width="2.5"/>
<line x1="449" y1="895.1" x2="446.4" y2="882.8" stroke="#000" stroke-width="1"/>
<line x1="442.6" y1="901.4" x2="449" y2="895.1" stroke="#000" stroke-width="1.6"/>
<line x1="461.5" y1="900.8" x2="469.1" y2="880.4" stroke="#000" stroke-width="2.5"/>
<line x1="473.2" y1="897.3" x2="483.2" y2="886.1" stroke="#000" stroke-width="1"/>
<line x1="461.5" y1="900.8" x2="473.2" y2="897.3" stroke="#000" stroke-width="1.6"/>
<line x1="478.3" y1="905.8" x2="502.7" y2="890.3" stroke="#000" stroke-width="2.5"/>
<line x1="492.2" y1="906.2" x2="512.2" y2="899.7" stroke="#000" stroke-width="1"/>
<line x1="478.3" y1="905.8" x2="492.2" y2="906.2" stroke="#000" stroke-width="1.6"/>
<line x1="488.6" y1="914.9" x2="523.2" y2="908.6" stroke="#000" stroke-width="2.5"/>
<line x1="501" y1="919.4" x2="525.5" y2="919.7" stroke="#000" stroke-width="1"/>
<line x1="488.6" y1="914.9" x2="501" y2="919.4" stroke="#000" stroke-width="1.6"/>
<ellipse cx="453.9" cy="920.8" rx="33.7" ry="19.1" fill="#fff" stroke="#000" stroke-width="2.5"/>
<ellipse cx="453.9" cy="921.3" rx="27.3" ry="15.5" fill="none" stroke="#000" stroke-width="1"/>
<ellipse cx="453.9" cy="919.5" rx="20" ry="10.9" fill="#fff" stroke="#000" stroke-width="1.6"/>
<path d="M 443,910.4 L 443,919.5 Q 453.9,925 464.8,919.5 L 464.8,910.4 Z" fill="#fff" stroke="#000" stroke-width="2.5" />
<ellipse cx="453.9" cy="910.4" rx="10.9" ry="5.5" fill="#fff" stroke="#000" stroke-width="2.5"/>
<ellipse cx="453.9" cy="910.4" rx="6.4" ry="2.9" fill="#fff" stroke="#000" stroke-width="2.5"/>
<line x1="454.5" y1="814.7" x2="454.5" y2="909.5" stroke="#000" stroke-width="1"/>
<line x1="454.5" y1="998.8" x2="454.5" y2="1013.4" stroke="#000" stroke-width="1"/>
<line x1="555.1" y1="805.6" x2="555.1" y2="839.3" stroke="#000" stroke-width="1"/>
<path d="M 567.8,845.7 L 587,837.5 Q 593.7,839.3 592.4,845.7 L 575.1,856.6 Z" fill="#fff" stroke="#000" stroke-width="2.5" />
<line x1="574.2" y1="843.9" x2="576.9" y2="853" stroke="#000" stroke-width="1.6"/>
<line x1="578.8" y1="841.9" x2="581.5" y2="850.4" stroke="#000" stroke-width="1.6"/>
<line x1="583.3" y1="839.9" x2="586.1" y2="847.9" stroke="#000" stroke-width="1.6"/>
<line x1="587.9" y1="837.9" x2="590.6" y2="845.3" stroke="#000" stroke-width="1.6"/>
<path d="M 543.2,878.5 C 542.3,871.2 549.6,867.6 555.1,870.3 C 564.2,867.6 573.3,865.8 575.1,870.3 C 575.1,878.5 558.7,891.3 549.6,888.5 C 545,886.7 543.2,884 543.2,878.5 Z" fill="#fff" stroke="#000" stroke-width="2.5" />
<path d="M 540.5,849.4 C 539.6,842.1 547.8,838.4 554.2,841.2 L 570.6,851.2 C 575.1,856.6 573.3,865.8 567.8,867.6 C 558.7,870.3 549.6,867.6 546,860.3 Z" fill="#fff" stroke="#000" stroke-width="2.5" />
<path d="M 546,860.3 Q 547.8,853 556,851.2 M 556,851.2 L 570.6,851.2 M 556,851.2 Q 558.7,858.5 557.8,868.5 M 547.8,874.9 Q 549.6,884 555.1,885.8" fill="none" stroke="#000" stroke-width="1" />
<line x1="601.5" y1="776.5" x2="601.5" y2="822.9" stroke="#000" stroke-width="1"/>
<ellipse cx="606.5" cy="834.8" rx="11.3" ry="6.5" fill="#fff" stroke="#000" stroke-width="2.5" transform="rotate(60 606.5 834.8)"/>
<ellipse cx="608.3" cy="833.7" rx="10.9" ry="6.3" fill="#fff" stroke="#000" stroke-width="2.5" transform="rotate(60 608.3 833.7)"/>
<ellipse cx="608.3" cy="833.7" rx="4.7" ry="2.7" fill="#fff" stroke="#000" stroke-width="2.5" transform="rotate(60 608.3 833.7)"/>
<line x1="593.3" y1="840.2" x2="602.5" y2="835.7" stroke="#000" stroke-width="1"/>
<line x1="617" y1="827.5" x2="631.6" y2="819.3" stroke="#000" stroke-width="1"/>
<line x1="454" y1="997.9" x2="454" y2="1018.4" stroke="#000" stroke-width="1"/>
<line x1="321.1" y1="1158.3" x2="412.6" y2="1158.3" stroke="#000" stroke-width="1"/>
<path d="M 444.7,1271.7 L 444.7,1283 Q 454,1288.9 461.3,1283 L 461.3,1271.7 Z" fill="#fff" stroke="#000" stroke-width="2.5" />
<path d="M 440.1,1257.2 L 440.1,1270.4 Q 454,1277 468.5,1270.4 L 468.5,1257.2 Z" fill="#fff" stroke="#000" stroke-width="2.5" />
<path d="M 425.6,1232.1 L 425.6,1249.3 Q 429.5,1255.9 454,1259.8 Q 478.5,1255.9 482.4,1249.3 L 482.4,1232.1 Z" fill="#fff" stroke="#000" stroke-width="2.5" />
<line x1="433.5" y1="1238.7" x2="433.5" y2="1253.2" stroke="#000" stroke-width="1"/>
<line x1="442.1" y1="1238.7" x2="442.1" y2="1257.2" stroke="#000" stroke-width="1"/>
<line x1="454" y1="1238.7" x2="454" y2="1257.2" stroke="#000" stroke-width="1"/>
<line x1="464.6" y1="1238.7" x2="464.6" y2="1257.2" stroke="#000" stroke-width="1"/>
<line x1="474.5" y1="1238.7" x2="474.5" y2="1253.2" stroke="#000" stroke-width="1"/>
<path d="M 426.2,1234.7 Q 454,1244 481.8,1234.7" fill="none" stroke="#000" stroke-width="1.6" />
<path d="M 423.6,1206.9 C 420.3,1213.5 420.3,1225.4 425.6,1233.4 Q 454,1241.3 482.4,1233.4 C 487.7,1225.4 487.7,1213.5 484,1206.9 Z" fill="#fff" stroke="#000" stroke-width="2.5" />
<path d="M 421.6,1217.5 Q 454,1228.1 486.4,1217.5" fill="none" stroke="#000" stroke-width="1" />
<path d="M 422.2,1226.8 Q 454,1237.4 485.7,1226.8" fill="none" stroke="#000" stroke-width="1.6" />
<path d="M 435.7,1082.6 C 425.6,1085.2 413.7,1091.9 412.6,1099.8 L 412.6,1180.5 L 427.5,1208.3 Q 454,1218.8 480.4,1208.3 L 495,1180.5 L 495,1099.8 C 494.3,1091.9 482.4,1085.2 471.2,1082.6 Z" fill="#fff" stroke="#000" stroke-width="2.5" />
<ellipse cx="454" cy="1102.4" rx="37" ry="15.9" fill="none" stroke="#000" stroke-width="1"/>
<path d="M 413.7,1113 Q 454,1130.2 494.3,1113" fill="none" stroke="#000" stroke-width="1.6" />
<path d="M 414.3,1119 Q 454,1135.5 493.7,1119" fill="none" stroke="#000" stroke-width="1.6" />
<path d="M 414.3,1175.2 Q 454,1192.4 493.7,1175.2" fill="none" stroke="#000" stroke-width="1.6" />
<path d="M 417.6,1187.1 Q 454,1201.6 489.7,1187.1" fill="none" stroke="#000" stroke-width="1" />
<path d="M 428.2,1200.3 Q 454,1208.3 479.8,1200.3" fill="none" stroke="#000" stroke-width="1" />
<line x1="423.6" y1="1127.6" x2="423.6" y2="1180.5" stroke="#000" stroke-width="1"/>
<line x1="434.8" y1="1131.5" x2="434.8" y2="1184.4" stroke="#000" stroke-width="1"/>
<line x1="446.1" y1="1133.5" x2="446.1" y2="1187.1" stroke="#000" stroke-width="1"/>
<line x1="460.6" y1="1133.5" x2="460.6" y2="1187.1" stroke="#000" stroke-width="1"/>
<line x1="473.2" y1="1131.5" x2="473.2" y2="1184.4" stroke="#000" stroke-width="1"/>
<line x1="484.4" y1="1127.6" x2="484.4" y2="1180.5" stroke="#000" stroke-width="1"/>
<path d="M 435.7,1076 L 435.7,1087.9 Q 454,1097.1 471.2,1087.9 L 471.2,1076 Z" fill="#fff" stroke="#000" stroke-width="2.5" />
<path d="M 436.1,1085.2 Q 454,1093.2 470.8,1085.2" fill="none" stroke="#000" stroke-width="1" />
<path d="M 439.7,1057.5 L 439.7,1076 Q 454,1082.6 467.9,1076 L 467.9,1057.5 Z" fill="#fff" stroke="#000" stroke-width="2.5" />
<path d="M 440.1,1066.7 Q 454,1072 467.6,1066.7" fill="none" stroke="#000" stroke-width="1" />
<path d="M 442.8,1017.8 L 442.8,1061.4 Q 454,1066.7 465.2,1061.4 L 465.2,1017.8 Q 462.6,1013.8 459.9,1013.8 M 442.8,1017.8 Q 445.4,1013.8 449.4,1013.8" fill="#fff" stroke="#000" stroke-width="2.5" />
<path d="M 442.8,1017.8 L 442.8,1061.4 Q 454,1066.7 465.2,1061.4 L 465.2,1017.8 Z" fill="#fff" stroke="#000" stroke-width="0" />
<path d="M 442.8,1061.4 L 442.8,1017.8 Q 445.4,1013.8 449.4,1013.8 M 465.2,1061.4 L 465.2,1017.8 Q 462.6,1013.8 459.9,1013.8 M 442.8,1061.4 Q 454,1066.7 465.2,1061.4" fill="none" stroke="#000" stroke-width="2.5" />
<path d="M 443.4,1023.1 Q 454,1028.4 464.6,1023.1" fill="none" stroke="#000" stroke-width="1" />
<path d="M 443.4,1042.9 Q 454,1048.2 464.6,1042.9" fill="none" stroke="#000" stroke-width="1.6" />
<path d="M 446.1,1026.4 L 446.1,1042.9" fill="none" stroke="#000" stroke-width="4.5" />
<line x1="450.7" y1="1025.7" x2="450.7" y2="1044.2" stroke="#000" stroke-width="1"/>
<line x1="454.7" y1="1025.7" x2="454.7" y2="1044.2" stroke="#000" stroke-width="1"/>
<line x1="458" y1="1025.7" x2="458" y2="1044.2" stroke="#000" stroke-width="1"/>
<line x1="461.3" y1="1025.7" x2="461.3" y2="1044.2" stroke="#000" stroke-width="1"/>
<line x1="321.5" y1="1322.1" x2="415.7" y2="1322.1" stroke="#000" stroke-width="1"/>
<line x1="454.6" y1="1287.2" x2="454.6" y2="1328.2" stroke="#000" stroke-width="1"/>
<line x1="454.6" y1="1358.6" x2="454.6" y2="1387.4" stroke="#000" stroke-width="1"/>
<path d="M 416.3,1328.2 C 421.7,1344.9 440,1356.4 453.6,1356.4 C 467.3,1356.4 485.5,1344.9 491,1328.2 Z" fill="#fff" stroke="#000" stroke-width="2.5" />
<path d="M 426.3,1344.9 Q 453.6,1360.1 481,1344.9" fill="none" stroke="#000" stroke-width="1.6" />
<path d="M 433.9,1351.6 L 473.4,1351.6" fill="none" stroke="#000" stroke-width="3" stroke-dasharray="2 3"/>
<ellipse cx="453.6" cy="1324.2" rx="38" ry="21.9" fill="#fff" stroke="#000" stroke-width="2.5"/>
<ellipse cx="453.6" cy="1325.5" rx="21.3" ry="11.5" fill="#fff" stroke="#000" stroke-width="2.5"/>
<ellipse cx="453.6" cy="1330.3" rx="12.2" ry="5.5" fill="none" stroke="#000" stroke-width="1.6"/>
<path d="M 433.9,1326.7 Q 453.6,1341.9 473.4,1326.7" fill="none" stroke="#000" stroke-width="1" />
<line x1="321.5" y1="1391.1" x2="421.7" y2="1391.1" stroke="#000" stroke-width="1"/>
<path d="M 421.7,1387.4 L 421.7,1404.1 C 424.8,1416.3 443,1422.4 453.6,1422.4 C 464.3,1422.4 482.5,1416.3 485.5,1404.1 L 485.5,1387.4 Z" fill="#fff" stroke="#000" stroke-width="2.5" />
<ellipse cx="453.6" cy="1387.4" rx="31.9" ry="17.6" fill="#fff" stroke="#000" stroke-width="2.5"/>
<ellipse cx="453.6" cy="1388.3" rx="21.9" ry="11.5" fill="#fff" stroke="#000" stroke-width="2.5"/>
<ellipse cx="453.6" cy="1388.9" rx="17.6" ry="9.1" fill="none" stroke="#000" stroke-width="1"/>
<ellipse cx="453.6" cy="1389.9" rx="12.2" ry="6.1" fill="#fff" stroke="#000" stroke-width="2.5"/>
<line x1="454.6" y1="1422.8" x2="454.6" y2="1606" stroke="#000" stroke-width="1"/>
<line x1="321" y1="1433.4" x2="398.4" y2="1433.4" stroke="#000" stroke-width="1"/>
<path d="M 398.4,1416.4 Q 405.3,1411.8 412.1,1416.4 L 412.1,1434.6 Q 405.3,1439.2 398.4,1434.6 Z" fill="#fff" stroke="#000" stroke-width="2.5" />
<path d="M 399.3,1418.2 Q 405.3,1421.9 411.2,1418.2" fill="none" stroke="#000" stroke-width="1" />
<line x1="532.4" y1="1429.2" x2="495.9" y2="1449.2" stroke="#000" stroke-width="1"/>
<path d="M 477.7,1469.3 L 477.7,1556.7 L 489.6,1556.7 L 489.6,1469.3 Z" fill="#fff" stroke="#000" stroke-width="2.5" />
<line x1="478.6" y1="1487.5" x2="488.6" y2="1487.5" stroke="#000" stroke-width="1"/>
<line x1="478.6" y1="1492.2" x2="488.6" y2="1492.2" stroke="#000" stroke-width="1"/>
<line x1="478.6" y1="1497" x2="488.6" y2="1497" stroke="#000" stroke-width="1"/>
<line x1="478.6" y1="1501.7" x2="488.6" y2="1501.7" stroke="#000" stroke-width="1"/>
<line x1="478.6" y1="1506.4" x2="488.6" y2="1506.4" stroke="#000" stroke-width="1"/>
<line x1="478.6" y1="1511.2" x2="488.6" y2="1511.2" stroke="#000" stroke-width="1"/>
<line x1="478.6" y1="1515.9" x2="488.6" y2="1515.9" stroke="#000" stroke-width="1"/>
<line x1="478.6" y1="1520.7" x2="488.6" y2="1520.7" stroke="#000" stroke-width="1"/>
<line x1="478.6" y1="1525.4" x2="488.6" y2="1525.4" stroke="#000" stroke-width="1"/>
<line x1="478.6" y1="1530.1" x2="488.6" y2="1530.1" stroke="#000" stroke-width="1"/>
<line x1="478.6" y1="1534.9" x2="488.6" y2="1534.9" stroke="#000" stroke-width="1"/>
<line x1="478.6" y1="1539.6" x2="488.6" y2="1539.6" stroke="#000" stroke-width="1"/>
<line x1="478.6" y1="1544.3" x2="488.6" y2="1544.3" stroke="#000" stroke-width="1"/>
<line x1="478.6" y1="1549.1" x2="488.6" y2="1549.1" stroke="#000" stroke-width="1"/>
<line x1="478.6" y1="1553.8" x2="488.6" y2="1553.8" stroke="#000" stroke-width="1"/>
<path d="M 470.4,1454.7 L 476.8,1446.5 L 490.5,1446.5 L 496.8,1454.7 L 496.8,1467.4 L 490.5,1471.4 L 476.8,1471.4 L 470.4,1467.4 Z" fill="#fff" stroke="#000" stroke-width="2.5" />
<path d="M 470.4,1454.7 L 476.8,1459.2 L 490.5,1459.2 L 496.8,1454.7 M 476.8,1459.2 L 476.8,1471.4 M 490.5,1459.2 L 490.5,1471.4" fill="none" stroke="#000" stroke-width="1" />
<line x1="483.2" y1="1558.6" x2="483.2" y2="1580.4" stroke="#000" stroke-width="1"/>
<ellipse cx="483.2" cy="1581.3" rx="5.5" ry="1.8" fill="none" stroke="#000" stroke-width="1.6"/>
<line x1="329.2" y1="1602.3" x2="382.4" y2="1602.3" stroke="#000" stroke-width="1"/>
<path d="M 382.4,1600.5 L 382.9,1660.6 C 387.5,1684.3 423.9,1702.6 456.7,1702.6 C 489.6,1702.6 515.1,1684.3 518.3,1664.3 L 518.3,1599.6 C 516.9,1585.9 504.1,1575 488.6,1572.2 L 416.6,1562.2 C 398.4,1569.5 383.8,1585.9 382.4,1600.5 Z" fill="#fff" stroke="#000" stroke-width="2.5" />
<path d="M 382.4,1600.5 C 394.8,1626 427.6,1638.8 456.7,1640.9 C 482.3,1640.6 509.6,1626 518.3,1600.5" fill="none" stroke="#000" stroke-width="1" />
<path d="M 399.3,1606 L 402.1,1613.2 L 416.6,1615.1 L 425.8,1626 L 444,1630" fill="none" stroke="#000" stroke-width="2.5" />
<path d="M 406.6,1596.8 L 407.5,1606 L 399.3,1606" fill="none" stroke="#000" stroke-width="2.5" />
<ellipse cx="410.8" cy="1622" rx="5.1" ry="2.6" fill="#fff" stroke="#000" stroke-width="2.5"/>
<path d="M 460.4,1567.7 L 475.9,1568.6" fill="none" stroke="#000" stroke-width="2.5" />
<path d="M 461.3,1575 L 461.3,1615.1 M 471.3,1575 L 471.3,1615.1" fill="none" stroke="#000" stroke-width="1" />
<path d="M 461.3,1575.9 Q 465.9,1571.3 471.3,1575.9" fill="none" stroke="#000" stroke-width="1.6" />
<path d="M 425.8,1564.9 Q 436.7,1560.4 449.8,1558.6" fill="none" stroke="#000" stroke-width="1.6" />
<path d="M 426.5,1569 Q 436.7,1564.4 449.8,1562.6" fill="none" stroke="#000" stroke-width="1.6" />
<path d="M 427.2,1573 Q 436.7,1568.4 449.8,1566.6" fill="none" stroke="#000" stroke-width="1.6" />
<path d="M 427.9,1577 Q 436.7,1572.4 449.8,1570.6" fill="none" stroke="#000" stroke-width="1.6" />
<path d="M 428.7,1581 Q 436.7,1576.4 449.8,1574.6" fill="none" stroke="#000" stroke-width="1.6" />
<path d="M 389.3,1598.7 C 391.1,1582.3 405.7,1564 416.6,1562.2 Q 425.8,1564 426.7,1575 L 425.8,1584.1 Q 413,1589.6 405.7,1604.1 Q 394.8,1606 389.3,1598.7 Z" fill="#fff" stroke="#000" stroke-width="2.5" />
<path d="M 394.8,1596.8 Q 398.4,1582.3 409.4,1575 M 399.3,1599.6 Q 403.9,1585.9 413,1579.5 M 411.2,1567.7 Q 418.5,1569.5 420.3,1582.3" fill="none" stroke="#000" stroke-width="2.5" />
<path d="M 493.2,1606 Q 496.8,1595 504.1,1591.4 Q 513.2,1593.2 512.3,1602.3 Q 511.4,1615.1 504.1,1625.1 Q 496.8,1618.7 493.2,1606 Z" fill="#fff" stroke="#000" stroke-width="2.5" />
<path d="M 498.7,1606 Q 502.3,1598.7 507.8,1596.8 M 502.3,1613.2 Q 506,1604.1 509.6,1602.3" fill="none" stroke="#000" stroke-width="2.5" />
<path d="M 444,1630 Q 447.6,1622.4 456.7,1618.7 Q 473.1,1611.4 484.1,1612.3 Q 495.9,1615.1 495.9,1627.8 Q 482.3,1632.4 471.3,1635.1 Q 462.2,1642.4 451.3,1639.1 Q 444,1636.9 444,1630 Z" fill="#fff" stroke="#000" stroke-width="2.5" />
<path d="M 451.3,1631.5 Q 460.4,1622.4 475,1619.6 M 454.9,1636 Q 464,1627.8 478.6,1625.1" fill="none" stroke="#000" stroke-width="2.5" />
<path d="M 479.5,1613.2 Q 487.7,1618.7 486.8,1635.1 M 489.6,1615.1 Q 496.8,1620.5 495.9,1633.3" fill="none" stroke="#000" stroke-width="1.6" />
<line x1="456.7" y1="1641.5" x2="456.7" y2="1702.6" stroke="#000" stroke-width="1.6"/>
<path d="M 485.9,1635.1 L 485.9,1691.6 M 495.9,1631.5 L 495.9,1684.3" fill="none" stroke="#000" stroke-width="1" />
<path d="M 482.3,1684.3 Q 489.6,1678.9 498.7,1677 Q 511.4,1669.7 515.1,1673.4" fill="none" stroke="#000" stroke-width="2.5" />
<line x1="321" y1="1681.6" x2="352.9" y2="1700" stroke="#000" stroke-width="1"/>
<ellipse cx="413.9" cy="1711.6" rx="16.8" ry="9.5" fill="#fff" stroke="#000" stroke-width="2.5"/>
<ellipse cx="413.9" cy="1711.6" rx="12" ry="6.2" fill="#fff" stroke="#000" stroke-width="2.5"/>
<path d="M 430.3,1712.9 Q 445.8,1707.4 455.8,1697.4 Q 474.9,1685.6 502.3,1679.2" fill="none" stroke="#000" stroke-width="1.6" />
<path d="M 455.8,1697.4 Q 474.9,1702 502.3,1723.8 M 458.5,1700.1 Q 484,1702 515.9,1709.3" fill="none" stroke="#000" stroke-width="1.6" />
<line x1="319.6" y1="1680.6" x2="414.4" y2="1733.5" stroke="#000" stroke-width="1"/>
<line x1="320" y1="1733" x2="368.3" y2="1760.3" stroke="#000" stroke-width="1"/>
<path d="M 361.9,1849.6 L 368.3,1864.2 L 369.2,1913.4 Q 363.7,1917 363.4,1924.3 L 363.7,1938.9 Q 365.6,1953.5 370.1,1960.8 L 370.1,1988.1 C 374.7,2008.2 414.8,2026.4 454.9,2026.8 C 495,2026.4 529.6,2010 532.3,1987.4 L 532.3,1960.8 Q 536.9,1949.8 536.9,1933.4 L 536.9,1849.6 Z" fill="#fff" stroke="#000" stroke-width="2.5" />
<path d="M 363.7,1924.3 C 374.7,1953.5 411.1,1971.7 454.9,1972.8 C 495,1972.8 529.6,1957.1 536.9,1932.7" fill="none" stroke="#000" stroke-width="1.6" />
<path d="M 367.8,1931.6 C 378.3,1955.3 414.8,1968.1 454.9,1968.1 C 491.3,1968.1 524.1,1955.3 533.2,1935.3" fill="none" stroke="#000" stroke-width="1" />
<path d="M 370.1,1960.8 C 392.9,1982.6 422.1,1989.9 454.9,1991 C 491.3,1991 520.5,1979 532.3,1960" fill="none" stroke="#000" stroke-width="2.5" />
<path d="M 370.1,1875.1 Q 372.9,1909.7 369.2,1917" fill="none" stroke="#000" stroke-width="1" />
<ellipse cx="398.4" cy="1981.9" rx="21" ry="21" fill="#fff" stroke="#000" stroke-width="2.5"/>
<ellipse cx="400.2" cy="1983.7" rx="15.5" ry="17.3" fill="none" stroke="#000" stroke-width="2.5"/>
<path d="M 392.9,1991.8 Q 402,1995.4 407.5,1986.3 M 391.1,1986.3 Q 400.2,1991.8 405.7,1982.6" fill="none" stroke="#000" stroke-width="1" />
<path d="M 378.3,1962.6 L 378.3,1982.6 M 375.6,1959 L 382.9,1966.2" fill="none" stroke="#000" stroke-width="2.5" />
<path d="M 452.1,1880.6 L 480.4,1898.8 L 480.4,1957.1 L 452.1,1940.7 Z" fill="#fff" stroke="#000" stroke-width="2.5" />
<path d="M 452.1,1880.6 L 531.4,1841.4 L 557.8,1856.9 L 480.4,1898.8 Z" fill="#fff" stroke="#000" stroke-width="2.5" />
<path d="M 480.4,1898.8 L 557.8,1856.9 L 557.8,1915.2 L 480.4,1957.1 Z" fill="#fff" stroke="#000" stroke-width="2.5" />
<path d="M 488.6,1904.3 L 549.6,1871.1 L 549.6,1909.7 L 489.5,1942.9 Z" fill="none" stroke="#000" stroke-width="2.5" />
<path d="M 495,1907.9 L 545.1,1880.6 L 545.1,1903.4 L 495,1931.6" fill="none" stroke="#000" stroke-width="1" />
<ellipse cx="513.2" cy="1898.8" rx="10" ry="12.8" fill="none" stroke="#000" stroke-width="1" transform="rotate(20 513.2 1898.8)"/>
<path d="M 504.1,1907.9 Q 507.7,1895.2 513.2,1889.7" fill="none" stroke="#000" stroke-width="2.5" />
<ellipse cx="548.7" cy="1892.4" rx="4.4" ry="7.3" fill="#fff" stroke="#000" stroke-width="2.5" transform="rotate(15 548.7 1892.4)"/>
<ellipse cx="493.1" cy="1931.6" rx="5.1" ry="8.2" fill="#fff" stroke="#000" stroke-width="2.5" transform="rotate(15 493.1 1931.6)"/>
<path d="M 526,1887.9 Q 527.8,1900.6 538.7,1906.1 L 549.6,1902.5" fill="none" stroke="#000" stroke-width="2.5" />
<path d="M 489.5,1909.7 Q 500.4,1913.4 502.3,1926.1" fill="none" stroke="#000" stroke-width="2.5" />
<path d="M 346.4,1797.7 C 356.5,1767.6 402,1731.1 449.4,1728.9 L 459.4,1728.4 Q 474.9,1727.5 484,1732 L 542.4,1765.8 Q 549.3,1770.3 548.7,1778.5 L 548.7,1809.5 C 538.7,1831.4 502.3,1867.8 422.1,1878.8 L 346.4,1833.2 Z" fill="#fff" stroke="#000" stroke-width="2.5" />
<path d="M 347.3,1802.2 L 422.1,1846.9 C 484,1840.5 529.6,1804 546.9,1781.3" fill="none" stroke="#000" stroke-width="1" />
<path d="M 361.9,1789.5 L 375.6,1791.3 L 382,1803.1 L 371.9,1806.8 L 372.9,1812.2 L 409.3,1832.3 L 415.7,1825 L 441.2,1830.5 L 445.8,1836.8 L 453,1835.9 C 484,1831.4 520.5,1813.1 533.2,1785.8 M 523.2,1764.8 L 510.5,1767.6 L 511.4,1784" fill="none" stroke="#000" stroke-width="2.5" />
<path d="M 480.4,1749.4 L 489.5,1744.8 L 523.2,1764.8 M 480.4,1749.4 L 480.4,1763.9 L 510.5,1767.6 M 489.5,1744.8 L 489.5,1756.6 L 510.5,1767.6" fill="none" stroke="#000" stroke-width="1" />
<path d="M 365.6,1785.8 C 392.9,1753 429.4,1742.1 458.5,1742.1 L 480.4,1749.4" fill="none" stroke="#000" stroke-width="1" />
<path d="M 376.5,1791.3 C 392.9,1767.6 429.4,1754.8 458.5,1756.6 C 484,1758.5 502.3,1765.8 510.5,1771.2" fill="none" stroke="#000" stroke-width="1" />
<path d="M 382,1803.1 C 402,1771.2 465.8,1756.6 511.4,1784 M 513.2,1771.2 Q 518.7,1782.2 516.8,1794.9 L 529.6,1785.8" fill="none" stroke="#000" stroke-width="1" />
<path d="M 454.9,1787.6 L 480.4,1791.3 L 478.6,1831.4 M 454.9,1811.3 L 478.6,1813.1" fill="none" stroke="#000" stroke-width="1" />
<path d="M 454.5,1798.6 L 452.7,1834.1" fill="none" stroke="#000" stroke-width="2.5" />
<ellipse cx="362.8" cy="1800.4" rx="6.6" ry="3.5" fill="#fff" stroke="#000" stroke-width="2.5"/>
<ellipse cx="471.3" cy="1739.3" rx="6.6" ry="3.5" fill="#fff" stroke="#000" stroke-width="2.5"/>
<ellipse cx="533.2" cy="1775.2" rx="6.6" ry="3.5" fill="#fff" stroke="#000" stroke-width="2.5"/>
<ellipse cx="427.5" cy="1837.4" rx="6.6" ry="3.5" fill="#fff" stroke="#000" stroke-width="2.5"/>
<line x1="454.5" y1="1707.4" x2="454.5" y2="1833.2" stroke="#000" stroke-width="1"/>
<line x1="454.5" y1="2030" x2="454.5" y2="2201.4" stroke="#000" stroke-width="1"/>
<line x1="155.7" y1="1642.4" x2="184.9" y2="1657" stroke="#000" stroke-width="1"/>
<path d="M 194,1655.2 L 206.7,1662.5 L 204.9,1669.7 L 192.2,1664.3 Z" fill="#fff" stroke="#000" stroke-width="1.6" />
<path d="M 203.1,1657 L 210.4,1664.3" fill="none" stroke="#000" stroke-width="1.6" />
<ellipse cx="190.3" cy="1658.8" rx="6.6" ry="9.5" fill="#fff" stroke="#000" stroke-width="2.5" transform="rotate(-20 190.3 1658.8)"/>
<ellipse cx="188.9" cy="1658.1" rx="4.4" ry="7.3" fill="none" stroke="#000" stroke-width="1" transform="rotate(-20 188.9 1658.1)"/>
<line x1="204.9" y1="1667.9" x2="276" y2="1706.2" stroke="#000" stroke-width="1"/>
<line x1="153.9" y1="1751.8" x2="190.3" y2="1771.8" stroke="#000" stroke-width="1"/>
<path d="M 190.3,1759.1 Q 189.6,1752.9 195.1,1749.9 L 277.8,1700.7 Q 286.9,1696 287.7,1706.2 L 287.7,1755.4 Q 286.9,1762.7 281.5,1765.6 L 199.5,1810.1 Q 191.4,1813.7 191.1,1804.6 Z" fill="#fff" stroke="#000" stroke-width="2.5" />
<ellipse cx="199.5" cy="1759.1" rx="3.3" ry="4.7" fill="#fff" stroke="#000" stroke-width="2.5" transform="rotate(-25 199.5 1759.1)"/>
<ellipse cx="279.6" cy="1710.6" rx="3.3" ry="4.7" fill="#fff" stroke="#000" stroke-width="2.5" transform="rotate(-25 279.6 1710.6)"/>
<ellipse cx="279.6" cy="1751.8" rx="3.3" ry="4.7" fill="#fff" stroke="#000" stroke-width="2.5" transform="rotate(-25 279.6 1751.8)"/>
<ellipse cx="198.4" cy="1800.2" rx="3.3" ry="4.7" fill="#fff" stroke="#000" stroke-width="2.5" transform="rotate(-25 198.4 1800.2)"/>
<line x1="286.9" y1="1711.7" x2="367.1" y2="1759.1" stroke="#000" stroke-width="1"/>
<line x1="228.6" y1="1853.8" x2="252.3" y2="1853.8" stroke="#000" stroke-width="1"/>
<path d="M 277.8,1815.6 L 277.8,1852 M 277.8,1815.6 L 361.7,1863.7 L 361.7,1846.5" fill="none" stroke="#000" stroke-width="1" />
<path d="M 252.3,1854.9 L 253,1861.1 C 257.8,1872.1 297.9,1872.1 302.6,1861.1 L 303.3,1854.9 Z" fill="#fff" stroke="#000" stroke-width="2.5" />
<ellipse cx="277.8" cy="1854.9" rx="25.5" ry="13.9" fill="#fff" stroke="#000" stroke-width="2.5"/>
<ellipse cx="277.8" cy="1855.7" rx="13.9" ry="6.6" fill="#fff" stroke="#000" stroke-width="2.5"/>
<line x1="277.8" y1="1873.9" x2="277.8" y2="1899.4" stroke="#000" stroke-width="1"/>
<line x1="230.4" y1="1966.8" x2="270.5" y2="1966.8" stroke="#000" stroke-width="1"/>
<path d="M 270.5,1901.2 L 270.5,2003.3 L 285.1,2003.3 L 285.1,1901.2 Q 277.8,1897.6 270.5,1901.2 Z" fill="#fff" stroke="#000" stroke-width="2.5" />
<line x1="271.6" y1="1904.9" x2="284" y2="1906" stroke="#000" stroke-width="1"/>
<line x1="271.6" y1="1910" x2="284" y2="1911.1" stroke="#000" stroke-width="1"/>
<line x1="271.6" y1="1915.1" x2="284" y2="1916.2" stroke="#000" stroke-width="1"/>
<line x1="271.6" y1="1920.2" x2="284" y2="1921.3" stroke="#000" stroke-width="1"/>
<line x1="271.6" y1="1925.3" x2="284" y2="1926.4" stroke="#000" stroke-width="1"/>
<line x1="271.6" y1="1930.4" x2="284" y2="1931.5" stroke="#000" stroke-width="1"/>
<line x1="271.6" y1="1935.5" x2="284" y2="1936.6" stroke="#000" stroke-width="1"/>
<line x1="271.6" y1="1940.6" x2="284" y2="1941.7" stroke="#000" stroke-width="1"/>
<line x1="271.6" y1="1945.7" x2="284" y2="1946.8" stroke="#000" stroke-width="1"/>
<line x1="271.6" y1="1950.8" x2="284" y2="1951.9" stroke="#000" stroke-width="1"/>
<line x1="271.6" y1="1955.9" x2="284" y2="1957" stroke="#000" stroke-width="1"/>
<line x1="271.6" y1="1961" x2="284" y2="1962.1" stroke="#000" stroke-width="1"/>
<line x1="271.6" y1="1966.1" x2="284" y2="1967.2" stroke="#000" stroke-width="1"/>
<line x1="271.6" y1="1971.2" x2="284" y2="1972.3" stroke="#000" stroke-width="1"/>
<line x1="271.6" y1="1976.3" x2="284" y2="1977.4" stroke="#000" stroke-width="1"/>
<line x1="271.6" y1="1981.4" x2="284" y2="1982.5" stroke="#000" stroke-width="1"/>
<line x1="271.6" y1="1986.5" x2="284" y2="1987.6" stroke="#000" stroke-width="1"/>
<line x1="271.6" y1="1991.6" x2="284" y2="1992.7" stroke="#000" stroke-width="1"/>
<line x1="271.6" y1="1996.7" x2="284" y2="1997.8" stroke="#000" stroke-width="1"/>
<path d="M 263.3,2002.3 L 263.3,2018.7 Q 277.9,2027.8 293.2,2018.7 L 293.2,2002.3 Z" fill="#fff" stroke="#000" stroke-width="2.5" />
<ellipse cx="278.2" cy="2002.3" rx="14.9" ry="5.8" fill="#fff" stroke="#000" stroke-width="2.5"/>
<path d="M 265.1,2011.4 L 291.7,2011.4" fill="none" stroke="#000" stroke-width="1" />
<line x1="90.1" y1="2027.8" x2="112" y2="2015.1" stroke="#000" stroke-width="1"/>
<path d="M 128.4,2002.3 L 153.9,2016.9 M 123,2013.2 L 148.5,2027.8" fill="none" stroke="#000" stroke-width="2.5" />
<line x1="133.9" y1="2004.9" x2="129.1" y2="2015.8" stroke="#000" stroke-width="1.6"/>
<line x1="138.3" y1="2007.4" x2="133.5" y2="2018.3" stroke="#000" stroke-width="1.6"/>
<line x1="142.6" y1="2010" x2="137.9" y2="2020.9" stroke="#000" stroke-width="1.6"/>
<line x1="147" y1="2012.5" x2="142.3" y2="2023.5" stroke="#000" stroke-width="1.6"/>
<line x1="151.4" y1="2015.1" x2="146.6" y2="2026" stroke="#000" stroke-width="1.6"/>
<path d="M 115.7,1992.1 C 106.5,1993.2 107.3,2015.1 115.7,2018 L 126.6,2019.8 C 137.5,2018 138.6,1996.8 129.1,1993.2 Z" fill="#fff" stroke="#000" stroke-width="2.5" />
<path d="M 115.7,1992.1 C 124,1995 124,2015.8 115.7,2018" fill="none" stroke="#000" stroke-width="1.6" />
<path d="M 119.3,1995 L 128.4,1996.8 M 118.6,2004.1 L 129.1,2006 M 118.6,2011.4 L 127.7,2015.1" fill="none" stroke="#000" stroke-width="1" />
<line x1="153.9" y1="2024.2" x2="170.3" y2="2033.3" stroke="#000" stroke-width="1"/>
<line x1="143" y1="2058.8" x2="170.3" y2="2045" stroke="#000" stroke-width="1"/>
<ellipse cx="177.6" cy="2036.9" rx="15.3" ry="8.8" fill="#fff" stroke="#000" stroke-width="2.5" transform="rotate(-60 177.6 2036.9)"/>
<ellipse cx="179.5" cy="2037.7" rx="14.6" ry="8.4" fill="#fff" stroke="#000" stroke-width="2.5" transform="rotate(-60 179.5 2037.7)"/>
<ellipse cx="179.5" cy="2037.7" rx="6.6" ry="3.8" fill="#fff" stroke="#000" stroke-width="2.5" transform="rotate(-60 179.5 2037.7)"/>
<line x1="186.7" y1="2042.4" x2="370.8" y2="2148.1" stroke="#000" stroke-width="1"/>
<line x1="182.4" y1="2120.8" x2="182.4" y2="2146.3" stroke="#000" stroke-width="1"/>
<line x1="221.4" y1="2082.5" x2="398.2" y2="1978.6" stroke="#000" stroke-width="1"/>
<path d="M 195.9,2088 L 208.6,2076.3 L 221.4,2083.6 L 221.4,2097.1 L 207.9,2105.5 L 195.9,2098.2 Z" fill="#fff" stroke="#000" stroke-width="2.5" />
<path d="M 195.9,2088 L 208.6,2095.3 L 221.4,2083.6 M 208.6,2095.3 L 207.9,2105.5" fill="none" stroke="#000" stroke-width="1.6" />
<ellipse cx="193.3" cy="2097.1" rx="3.3" ry="8" fill="none" stroke="#000" stroke-width="2.5" transform="rotate(-30 193.3 2097.1)"/>
<ellipse cx="188.6" cy="2100" rx="3.3" ry="8" fill="none" stroke="#000" stroke-width="2.5" transform="rotate(-30 188.6 2100)"/>
<ellipse cx="183.8" cy="2102.9" rx="3.3" ry="8" fill="none" stroke="#000" stroke-width="2.5" transform="rotate(-30 183.8 2102.9)"/>
<ellipse cx="179.1" cy="2105.8" rx="3.3" ry="8" fill="none" stroke="#000" stroke-width="2.5" transform="rotate(-30 179.1 2105.8)"/>
<ellipse cx="174.3" cy="2108.7" rx="3.3" ry="8" fill="none" stroke="#000" stroke-width="2.5" transform="rotate(-30 174.3 2108.7)"/>
<ellipse cx="169.6" cy="2111.7" rx="3.3" ry="8" fill="none" stroke="#000" stroke-width="2.5" transform="rotate(-30 169.6 2111.7)"/>
<ellipse cx="164.9" cy="2114.6" rx="3.3" ry="8" fill="none" stroke="#000" stroke-width="2.5" transform="rotate(-30 164.9 2114.6)"/>
<ellipse cx="160.1" cy="2117.5" rx="3.3" ry="8" fill="none" stroke="#000" stroke-width="2.5" transform="rotate(-30 160.1 2117.5)"/>
<path d="M 148.5,2114.2 Q 155.8,2109.8 161.2,2115.3 Q 164.9,2122.6 157.6,2127.3 Q 150.3,2128.1 148.5,2114.2" fill="#fff" stroke="#000" stroke-width="2.5" />
<line x1="139.4" y1="2151.8" x2="139.4" y2="2179.1" stroke="#000" stroke-width="1"/>
<line x1="144.8" y1="2126.2" x2="157.6" y2="2119" stroke="#000" stroke-width="1"/>
<path d="M 114.6,2127.3 Q 121.1,2116.4 133.9,2119 L 144.8,2128.1 L 145.9,2142.6 Q 139.4,2152.9 127.7,2151.8 L 115.7,2146.3 Q 108.4,2137.2 114.6,2127.3 Z" fill="#fff" stroke="#000" stroke-width="2.5" />
<ellipse cx="121.9" cy="2138.3" rx="8.7" ry="10.9" fill="#fff" stroke="#000" stroke-width="2.5" transform="rotate(-20 121.9 2138.3)"/>
<path d="M 117.5,2133.5 Q 123,2131.7 124.8,2137.2 L 124,2146.3" fill="none" stroke="#000" stroke-width="2.5" />
<path d="M 133.9,2119 Q 137.5,2129.9 135.7,2149.9 M 139.4,2123.7 Q 143,2133.5 141.2,2148.1" fill="none" stroke="#000" stroke-width="1" />
<line x1="321.6" y1="2220.3" x2="359.9" y2="2220.3" stroke="#000" stroke-width="1"/>
<path d="M 361,2164.5 C 369,2139 405.5,2122.6 449.2,2120.8 C 474.7,2120.8 489.3,2124.4 500.2,2128.1 L 507.5,2122.6 Q 514.8,2117.1 520.3,2120.8 L 531.2,2135.4 Q 536,2140.8 534.9,2149.9 L 534.9,2219.2 C 529.4,2248.4 496.6,2264.8 449.2,2264.8 C 401.8,2264.8 365.4,2248.4 361,2219.2 Z" fill="#fff" stroke="#000" stroke-width="2.5" />
<path d="M 369,2168.2 C 376.3,2146.3 412.7,2129.9 449.2,2128.1 C 478.4,2128.1 503.9,2135.4 518.5,2149.9" fill="none" stroke="#000" stroke-width="1" />
<path d="M 369,2168.2 L 369.7,2195.5" fill="none" stroke="#000" stroke-width="1" />
<path d="M 379.9,2193.7 C 394.5,2179.1 431,2171.8 456.5,2171.8 C 489.3,2171.8 518.5,2186.4 525.7,2197.3" fill="none" stroke="#000" stroke-width="1" />
<path d="M 514.8,2160.9 L 523.9,2155.4 L 525.7,2146.3 M 514.8,2160.9 L 514.8,2171.8" fill="none" stroke="#000" stroke-width="2.5" />
<path d="M 485.7,2128.1 Q 482,2146.3 496.6,2164.5 L 514.8,2171.8 M 500.2,2129.9 Q 498.4,2142.6 511.2,2157.2" fill="none" stroke="#000" stroke-width="1" />
<path d="M 385.4,2155.4 L 390.9,2150.7 L 393.8,2156.5 L 389.1,2162.7 Z" fill="none" stroke="#000" stroke-width="2.5" />
<path d="M 394.5,2190 L 407.1,2182.7" fill="none" stroke="#000" stroke-width="3.4" />
<path d="M 402.5,2193.9 L 429.4,2178.4" fill="none" stroke="#000" stroke-width="3.4" />
<path d="M 410.6,2197.7 L 450,2174.9" fill="none" stroke="#000" stroke-width="3.4" />
<path d="M 418.6,2201.5 L 465.9,2174.2" fill="none" stroke="#000" stroke-width="3.4" />
<path d="M 426.6,2205.3 L 477.1,2176.2" fill="none" stroke="#000" stroke-width="3.4" />
<path d="M 434.6,2209.2 L 486.7,2179.1" fill="none" stroke="#000" stroke-width="3.4" />
<path d="M 442.6,2213 L 494.7,2182.9" fill="none" stroke="#000" stroke-width="3.4" />
<path d="M 450.7,2216.8 L 498,2189.5" fill="none" stroke="#000" stroke-width="3.4" />
<path d="M 458.7,2220.7 L 496.6,2198.8" fill="none" stroke="#000" stroke-width="3.4" />
<path d="M 361,2201 Q 367.2,2195.5 374.5,2196.6 Q 390.9,2199.1 396.3,2211.9 L 400,2215.6 L 409.1,2219.2 L 409.1,2237.4" fill="none" stroke="#000" stroke-width="2.5" />
<path d="M 394.5,2247.6 Q 405.5,2244 409.1,2237.4" fill="none" stroke="#000" stroke-width="2.5" />
<path d="M 374.5,2196.6 Q 379.9,2208.3 378.1,2222.8" fill="none" stroke="#000" stroke-width="1" />
<line x1="727.3" y1="1421.7" x2="762.4" y2="1442.3" stroke="#000" stroke-width="1"/>
<path d="M 726.3,1449.6 C 741.8,1450.6 762.4,1444.4 779,1437.2 Q 785.2,1435.5 791.3,1439.2 L 876,1491.9 Q 882.2,1497.1 882.2,1503.3 L 883.3,1720.2 Q 881.2,1734.6 855.4,1739.8 C 828.5,1738.8 787.2,1730.5 761.4,1719.1 L 750,1714 L 740.7,1709.8 L 740.7,1652 L 779,1631.3 L 792.4,1637.5 L 793.4,1532.2 L 794.4,1509.5 L 758.3,1496.1 L 732.5,1482.6 Q 728.3,1484.7 726.3,1481.6 Z" fill="#fff" stroke="#000" stroke-width="2.5" />
<path d="M 793.4,1532.2 L 787.2,1569.4 L 784.1,1581.8 L 792.4,1585.9 M 792.4,1637.5 L 792.4,1660.3 L 786.2,1661.3" fill="none" stroke="#000" stroke-width="2.5" />
<path d="M 755.2,1672.7 L 755.2,1709.8 L 783.1,1697.4 M 755.2,1672.7 Q 787.2,1689.2 823.4,1693.3" fill="none" stroke="#000" stroke-width="2.5" />
<path d="M 727.3,1451.6 L 822.3,1511.5 M 741.8,1654.1 Q 787.2,1668.5 820.3,1686.1 M 768.6,1714 L 830.6,1738.8 M 809.9,1523.9 L 805.8,1674.7 M 835.8,1532.2 L 832.7,1689.2 M 856.4,1509.5 L 851.3,1738.8 M 855.4,1507.4 Q 869.8,1503.3 881.2,1497.1 M 768.6,1493 Q 803.7,1490.9 809.9,1523.9 M 832.7,1701.6 L 830.6,1738.8 M 766.6,1718.1 L 828.5,1726.4" fill="none" stroke="#000" stroke-width="1" />
<ellipse cx="749" cy="1480.6" rx="12" ry="14.9" fill="#fff" stroke="#000" stroke-width="2.5" transform="rotate(-25 749 1480.6)"/>
<ellipse cx="751.1" cy="1480.6" rx="9.3" ry="12.8" fill="none" stroke="#000" stroke-width="1" transform="rotate(-25 751.1 1480.6)"/>
<ellipse cx="746.9" cy="1480.6" rx="5.8" ry="8.3" fill="#fff" stroke="#000" stroke-width="2.5" transform="rotate(-25 746.9 1480.6)"/>
<ellipse cx="835.8" cy="1518.8" rx="7.2" ry="10.3" fill="#fff" stroke="#000" stroke-width="1" transform="rotate(-30 835.8 1518.8)"/>
<ellipse cx="828.5" cy="1693.3" rx="7.2" ry="10.7" fill="#fff" stroke="#000" stroke-width="1.6" transform="rotate(-25 828.5 1693.3)"/>
<ellipse cx="765.5" cy="1689.2" rx="3.7" ry="6.2" fill="#fff" stroke="#000" stroke-width="2.5" transform="rotate(-25 765.5 1689.2)"/>
<ellipse cx="797.5" cy="1705.7" rx="5.4" ry="8.3" fill="#fff" stroke="#000" stroke-width="2.5" transform="rotate(-25 797.5 1705.7)"/>
<path d="M 765.5,1689.2 L 785.2,1699.5" fill="none" stroke="#000" stroke-width="1.6" />
<polyline points="784.1,1698.5 713.9,1738.8 745.9,1760" fill="none" stroke="#000" stroke-width="1" stroke-linejoin="round"/>
<line x1="562.5" y1="1518.6" x2="609.6" y2="1544.6" stroke="#000" stroke-width="1"/>
<path d="M 616.3,1548 L 643.1,1532.5 L 649.3,1543.2 L 622.5,1558.7 Z" fill="#fff" stroke="#000" stroke-width="2.5" />
<line x1="621.7" y1="1544.9" x2="628.2" y2="1554.1" stroke="#000" stroke-width="1.6"/>
<line x1="627" y1="1541.8" x2="633.6" y2="1551" stroke="#000" stroke-width="1.6"/>
<line x1="632.4" y1="1538.7" x2="638.9" y2="1547.9" stroke="#000" stroke-width="1.6"/>
<line x1="637.8" y1="1535.6" x2="644.3" y2="1544.8" stroke="#000" stroke-width="1.6"/>
<path d="M 602.1,1546.2 L 612,1540.5 L 626.8,1566.3 L 617,1571.9 Z" fill="#fff" stroke="#000" stroke-width="0" />
<ellipse cx="619.4" cy="1553.4" rx="14.9" ry="8.6" fill="#fff" stroke="#000" stroke-width="2.5" transform="rotate(60 619.4 1553.4)"/>
<path d="M 602.1,1546.2 L 612,1540.5 L 626.8,1566.3 L 617,1571.9 Z" fill="#fff" stroke="#000" stroke-width="0" />
<path d="M 602.1,1546.2 L 612,1540.5 M 626.8,1566.3 L 617,1571.9" fill="none" stroke="#000" stroke-width="2.5" />
<ellipse cx="609.6" cy="1559.1" rx="14.9" ry="8.6" fill="#fff" stroke="#000" stroke-width="2.5" transform="rotate(60 609.6 1559.1)"/>
<ellipse cx="609.2" cy="1559.5" rx="7.8" ry="4.5" fill="none" stroke="#000" stroke-width="1.6" transform="rotate(60 609.2 1559.5)"/>
<ellipse cx="609.2" cy="1559.5" rx="3.7" ry="2.1" fill="none" stroke="#000" stroke-width="2.5" transform="rotate(60 609.2 1559.5)"/>
<line x1="648.8" y1="1537.4" x2="663.3" y2="1529.1" stroke="#000" stroke-width="1"/>
<line x1="609.6" y1="1490.9" x2="656.1" y2="1516.7" stroke="#000" stroke-width="1"/>
<ellipse cx="668.4" cy="1526" rx="18.2" ry="10.5" fill="#fff" stroke="#000" stroke-width="2.5" transform="rotate(60 668.4 1526)"/>
<ellipse cx="671.5" cy="1524.6" rx="17.6" ry="10.1" fill="#fff" stroke="#000" stroke-width="2.5" transform="rotate(60 671.5 1524.6)"/>
<ellipse cx="670.5" cy="1525" rx="8.3" ry="4.8" fill="#fff" stroke="#000" stroke-width="2.5" transform="rotate(60 670.5 1525)"/>
<line x1="683.9" y1="1516.7" x2="745.9" y2="1480.6" stroke="#000" stroke-width="1"/>
<line x1="682.9" y1="1613.8" x2="682.9" y2="1662.3" stroke="#000" stroke-width="1"/>
<line x1="745.9" y1="1567.3" x2="835.8" y2="1517.7" stroke="#000" stroke-width="1"/>
<path d="M 708.3,1591.1 L 741.8,1568.3 L 745.5,1575.6 L 711.8,1599.3 Z" fill="#fff" stroke="#000" stroke-width="2.5" />
<line x1="713.9" y1="1586.8" x2="718" y2="1595.4" stroke="#000" stroke-width="1.6"/>
<line x1="718" y1="1584" x2="722.2" y2="1592.5" stroke="#000" stroke-width="1.6"/>
<line x1="722.2" y1="1581.3" x2="726.3" y2="1589.6" stroke="#000" stroke-width="1.6"/>
<line x1="726.3" y1="1578.5" x2="730.4" y2="1586.7" stroke="#000" stroke-width="1.6"/>
<line x1="730.4" y1="1575.7" x2="734.5" y2="1583.8" stroke="#000" stroke-width="1.6"/>
<line x1="734.5" y1="1572.9" x2="738.7" y2="1580.9" stroke="#000" stroke-width="1.6"/>
<line x1="738.7" y1="1570.1" x2="742.8" y2="1578.1" stroke="#000" stroke-width="1.6"/>
<ellipse cx="702.5" cy="1599.3" rx="12.8" ry="7.4" fill="#fff" stroke="#000" stroke-width="2.5" transform="rotate(60 702.5 1599.3)"/>
<path d="M 678.8,1596.2 Q 681.9,1585.9 692.2,1584.3 L 704.6,1590 Q 711.8,1598.3 704.6,1608.6 L 692.2,1613.8 Q 683.9,1614.8 680.8,1608.6 Q 677.7,1602.4 678.8,1596.2 Z" fill="#fff" stroke="#000" stroke-width="2.5" />
<path d="M 680.8,1598.3 Q 683.9,1592.1 692.2,1593.1 M 692.2,1593.1 Q 700.5,1596.2 702.5,1606.6 M 683.9,1598.3 L 688.1,1606.6" fill="none" stroke="#000" stroke-width="1" />
<line x1="1093.5" y1="1211.4" x2="1123.9" y2="1228.2" stroke="#000" stroke-width="1"/>
<path d="M 1159.9,1231.6 Q 1163.2,1223.7 1170,1226 Q 1179,1230.5 1180.1,1242.8 Z" fill="#fff" stroke="#000" stroke-width="2.5" />
<path d="M 1130.6,1212.5 Q 1134,1211.4 1138.5,1214.7 L 1226.2,1277.7 Q 1239.7,1288.9 1239.7,1306.9 L 1239.7,1504.7 Q 1237.4,1527.2 1221.7,1535 L 1199.2,1544 Q 1190.2,1543.4 1183.5,1539.5 L 1163.2,1527.2 L 1138.5,1513.7 L 1110.4,1498 L 1109.3,1489 L 1113.8,1480 L 1118.3,1459.7 L 1111.5,1455.2 L 1109.3,1448.5 L 1114.9,1439.5 L 1140.8,1423.8 L 1152,1428.3 L 1152,1399.1 L 1140.8,1392.3 L 1138.5,1385.6 L 1152,1376.6 Q 1158.7,1369.8 1161,1358.6 L 1161,1309.1 L 1156.5,1306.9 L 1157.6,1286.7 L 1161,1286.7 L 1158.7,1282.2 L 1137.4,1274.3 L 1136.3,1277.7 L 1118.3,1268.7 L 1117.2,1249.6 L 1114.9,1243.9 Q 1127.3,1223.7 1130.6,1212.5 Z" fill="#fff" stroke="#000" stroke-width="2.5" />
<path d="M 1117.2,1249.6 L 1162.1,1279.9" fill="none" stroke="#000" stroke-width="2.5" />
<path d="M 1116,1243.9 L 1163.2,1275.4 L 1212.7,1311.4 Q 1217.2,1315.9 1216.1,1324.9 L 1212.7,1522.7 Q 1210.4,1533.9 1199.2,1540.7" fill="none" stroke="#000" stroke-width="1" />
<path d="M 1157.6,1286.7 L 1194.7,1309.1 Q 1199.2,1312.5 1199.2,1320.4 L 1194.7,1527.2 Q 1193.6,1536.2 1183.5,1539.5" fill="none" stroke="#000" stroke-width="2.5" />
<path d="M 1203.7,1306.9 Q 1210.4,1312.5 1209.3,1324.9 L 1203.7,1527.2" fill="none" stroke="#000" stroke-width="1" />
<path d="M 1168.9,1315.9 L 1168.9,1459.7 M 1174.5,1324.9 L 1174.5,1414.8 M 1164.4,1295.7 L 1164.4,1311.4 L 1179,1315.9" fill="none" stroke="#000" stroke-width="1" />
<path d="M 1138.5,1385.6 L 1149.7,1381.1 L 1153.1,1387.8 L 1161,1385.6 M 1149.7,1381.1 L 1150.9,1391.2" fill="none" stroke="#000" stroke-width="2.5" />
<path d="M 1174.5,1410.3 L 1182.3,1408 L 1183.5,1417 L 1176.7,1419.3 M 1176.7,1419.3 Q 1167.7,1421.5 1172.2,1430.5 Q 1176.7,1432.8 1181.2,1428.3" fill="none" stroke="#000" stroke-width="2.5" />
<path d="M 1190.2,1435 L 1192.5,1437.3 L 1192.5,1446.3" fill="none" stroke="#000" stroke-width="2.5" />
<path d="M 1183.5,1435 Q 1181.2,1448.5 1174.5,1457.5" fill="none" stroke="#000" stroke-width="1" />
<path d="M 1114.9,1439.5 L 1114.9,1448.5 L 1145.2,1466.5 Q 1156.5,1471 1163.2,1463.1 M 1145.2,1466.5 L 1145.2,1473.2" fill="none" stroke="#000" stroke-width="2.5" />
<path d="M 1118.3,1459.7 L 1145.2,1473.2 M 1118.3,1471 L 1125,1467.6 Q 1129.5,1468.7 1128.4,1473.2 L 1121.6,1480 L 1122.8,1491.2 L 1140.8,1501.3" fill="none" stroke="#000" stroke-width="1.6" />
<path d="M 1118.3,1471 Q 1116,1475.5 1122.8,1476.6" fill="none" stroke="#000" stroke-width="2.5" />
<ellipse cx="1185.7" cy="1312.5" rx="7.2" ry="10.1" fill="#fff" stroke="#000" stroke-width="2.5" transform="rotate(-15 1185.7 1312.5)"/>
<ellipse cx="1186.2" cy="1313.6" rx="4" ry="6.3" fill="none" stroke="#000" stroke-width="1" transform="rotate(-15 1186.2 1313.6)"/>
<ellipse cx="1189.1" cy="1334.3" rx="4" ry="4.5" fill="#fff" stroke="#000" stroke-width="2.5"/>
<path d="M 1191.3,1339.5 L 1191.3,1356.3 L 1194.7,1357.5" fill="none" stroke="#000" stroke-width="2.5" />
<ellipse cx="1184.6" cy="1480" rx="6.7" ry="9" fill="#fff" stroke="#000" stroke-width="2.5" transform="rotate(-15 1184.6 1480)"/>
<ellipse cx="1185" cy="1480.9" rx="3.6" ry="5.4" fill="none" stroke="#000" stroke-width="1" transform="rotate(-15 1185 1480.9)"/>
<path d="M 1138.5,1491.2 Q 1143,1482.2 1152,1484.5 L 1163.2,1480 L 1172.2,1482.2" fill="none" stroke="#000" stroke-width="2.5" />
<ellipse cx="1148.6" cy="1502" rx="9.4" ry="12.4" fill="#fff" stroke="#000" stroke-width="2.5" transform="rotate(-15 1148.6 1502)"/>
<ellipse cx="1149.3" cy="1502.9" rx="4.9" ry="7.2" fill="#fff" stroke="#000" stroke-width="2.5" transform="rotate(-15 1149.3 1502.9)"/>
<ellipse cx="1172.2" cy="1501.3" rx="4" ry="4.9" fill="#fff" stroke="#000" stroke-width="2.5"/>
<path d="M 1163.2,1493.5 L 1179,1491.2 L 1180.1,1509.2 L 1172.2,1513.7 M 1172.2,1513.7 L 1176.7,1518.2 L 1163.2,1520.4 L 1162.1,1527.2" fill="none" stroke="#000" stroke-width="2.5" />
<ellipse cx="1184.6" cy="1524.9" rx="3.1" ry="6.3" fill="none" stroke="#000" stroke-width="2.5" transform="rotate(-10 1184.6 1524.9)"/>
<line x1="1026.1" y1="1428.3" x2="1188" y2="1335" stroke="#000" stroke-width="1"/>
<line x1="1062.1" y1="1567.6" x2="1170" y2="1504.7" stroke="#000" stroke-width="1"/>
<line x1="957.6" y1="1528.3" x2="990.1" y2="1512.6" stroke="#000" stroke-width="1"/>
<path d="M 963.2,1457.5 C 968.8,1437.3 974.4,1419.3 977.8,1414.8 L 990.1,1406.9 L 994.6,1409.2 L 1005.9,1424.9 L 1010.4,1428.3" fill="none" stroke="#000" stroke-width="2.5" />
<path d="M 969.9,1466.5 Q 974.4,1475.5 982.3,1476.6" fill="none" stroke="#000" stroke-width="2.5" />
<path d="M 977.8,1414.8 L 978.9,1441.8 L 985.7,1446.3 L 984.5,1482.2 L 991.3,1504.7" fill="none" stroke="#000" stroke-width="1" />
<path d="M 991.3,1453 L 991.3,1511.4 L 999.1,1518.2 L 1010.4,1518.2 L 1011.5,1524.9 L 1014.9,1526.1 L 1019.4,1520.4 L 1023.9,1522.7 L 1028.4,1519.3 L 1029.5,1513.7 L 1037.4,1511.4 L 1044.1,1504.7 L 1044.1,1442.9 L 1041.8,1439.5 L 1037.4,1446.3 L 1032.9,1444 L 1023.9,1450.8 L 1022.7,1458.6 L 1020.5,1456.4 L 1012.6,1453 L 1010.4,1457.5 L 999.1,1451.9 Z" fill="#fff" stroke="#000" stroke-width="2.5" />
<path d="M 999.1,1451.9 L 999.1,1518.2 M 1014.9,1459.7 L 1014.9,1520.4 M 995.8,1454.1 L 995.8,1514.8" fill="none" stroke="#000" stroke-width="1" />
<path d="M 985.7,1412.5 L 1001.4,1432.8 L 1005.9,1430.5 L 991.3,1411.4 M 990.1,1417 L 1004.8,1436.1" fill="none" stroke="#000" stroke-width="2.5" />
<ellipse cx="982.3" cy="1433.9" rx="2.7" ry="4.9" fill="none" stroke="#000" stroke-width="2.5" transform="rotate(-20 982.3 1433.9)"/>
<ellipse cx="993.5" cy="1437.3" rx="2" ry="3.4" fill="none" stroke="#000" stroke-width="2.5" transform="rotate(-20 993.5 1437.3)"/>
<path d="M 1010.4,1433.9 Q 1012.6,1423.8 1020.5,1424.9 Q 1026.1,1430.5 1028.4,1442.9 M 1013.7,1433.9 Q 1016,1428.3 1019.8,1428.7 Q 1023.9,1432.8 1025,1444" fill="none" stroke="#000" stroke-width="2.5" />
<path d="M 978.9,1422.7 L 982.3,1424.9" fill="none" stroke="#000" stroke-width="2.5" />
<line x1="938.4" y1="1478.9" x2="1017.1" y2="1435" stroke="#000" stroke-width="1"/>
<line x1="880" y1="1355.2" x2="917.1" y2="1376.6" stroke="#000" stroke-width="1"/>
<path d="M 896.9,1405.8 L 925,1367.6 L 939.6,1359.7 L 963.2,1358.6 Q 966.5,1363.1 964.3,1369.8 L 945.2,1422.7 L 919.3,1438.4 L 913.7,1430.5 L 904.7,1421.5 L 903.6,1413.7 Z" fill="#fff" stroke="#000" stroke-width="2.5" />
<path d="M 932.8,1374.3 L 958.7,1364.2 L 962.7,1368 L 946.3,1421.5 L 921.6,1435 L 917.1,1431.6 Z" fill="#fff" stroke="#000" stroke-width="2.5" />
<path d="M 939.6,1381.1 L 954.2,1375.4 L 940.2,1418.8 L 927.2,1426 Z" fill="#fff" stroke="#000" stroke-width="2.5" />
<path d="M 936.2,1377.7 L 956.4,1369.8 L 943.4,1420.4 L 924.5,1430.5 Z" fill="none" stroke="#000" stroke-width="1" />
<path d="M 925,1367.6 L 932.8,1374.3 M 917.1,1431.6 L 913.7,1430.5" fill="none" stroke="#000" stroke-width="1" />
<line x1="940.7" y1="1401.3" x2="971" y2="1417" stroke="#000" stroke-width="1"/>
<line x1="832.8" y1="1444" x2="904.7" y2="1486.7" stroke="#000" stroke-width="1"/>
<path d="M 913.7,1490.1 L 930.6,1481.1 Q 935.7,1482.2 935.1,1487.8 L 918.2,1498 Z" fill="#fff" stroke="#000" stroke-width="2.5" />
<line x1="920.5" y1="1486.5" x2="923.8" y2="1493.5" stroke="#000" stroke-width="1.6"/>
<line x1="925" y1="1484" x2="928.3" y2="1490.8" stroke="#000" stroke-width="1.6"/>
<line x1="929.5" y1="1481.5" x2="932.8" y2="1488.1" stroke="#000" stroke-width="1.6"/>
<ellipse cx="911.9" cy="1495.7" rx="10.3" ry="6" fill="#fff" stroke="#000" stroke-width="2.5" transform="rotate(60 911.9 1495.7)"/>
<ellipse cx="907.4" cy="1498" rx="10.3" ry="6" fill="#fff" stroke="#000" stroke-width="2.5" transform="rotate(60 907.4 1498)"/>
<path d="M 902.5,1493.5 Q 907,1492.3 908.1,1498 M 901.4,1499.1 L 911.5,1496.8" fill="none" stroke="#000" stroke-width="1" />
<line x1="958.3" y1="1596.5" x2="975.3" y2="1588" stroke="#000" stroke-width="1"/>
<path d="M 973.1,1554 L 981.7,1547.6 L 1013.5,1564.6 L 1013.5,1594.4 L 1005,1600.8 L 973.1,1583.8 Z" fill="#fff" stroke="#000" stroke-width="2.5" />
<path d="M 973.1,1554 L 1005,1571 L 1013.5,1564.6 M 1005,1571 L 1005,1600.8" fill="none" stroke="#000" stroke-width="1" />
<line x1="949.8" y1="1679.5" x2="939.1" y2="1688" stroke="#000" stroke-width="1"/>
<path d="M 911.5,1698.6 L 907.2,1711.4 M 924.2,1705 L 930.6,1719.9" fill="none" stroke="#000" stroke-width="2.5" />
<path d="M 907.2,1681.6 L 917.9,1675.2 L 939.1,1688 L 939.1,1702.9 L 928.5,1709.2 L 907.2,1696.5 Z" fill="#fff" stroke="#000" stroke-width="2.5" />
<path d="M 907.2,1681.6 L 928.5,1694.3 L 939.1,1688 M 928.5,1694.3 L 928.5,1709.2" fill="none" stroke="#000" stroke-width="1" />
<line x1="1083.7" y1="1724.1" x2="1126.2" y2="1745.4" stroke="#000" stroke-width="1"/>
<path d="M 1068,1626.3 L 1071,1634.8 L 1075.2,1625.5 M 1069.7,1629.7 L 1073.1,1629.7" fill="none" stroke="#000" stroke-width="2.5" />
<path d="M 1064.6,1639.1 L 1064.6,1662.5 L 1079.5,1662.5 L 1079.5,1639.1 Q 1071.8,1632.7 1064.6,1639.1 Z" fill="#fff" stroke="#000" stroke-width="2.5" />
<path d="M 1058.2,1669.7 L 1062.5,1745.4 L 1081.6,1745.4 L 1085.8,1669.7 Z" fill="#fff" stroke="#000" stroke-width="2.5" />
<ellipse cx="1071.8" cy="1665.4" rx="17" ry="6" fill="#fff" stroke="#000" stroke-width="2.5"/>
<path d="M 1065.4,1645.4 L 1065.4,1660.3 M 1077.3,1645.4 L 1077.3,1660.3" fill="none" stroke="#000" stroke-width="1" />
<ellipse cx="1071.8" cy="1749.6" rx="13.6" ry="5.1" fill="#fff" stroke="#000" stroke-width="2.5"/>
<path d="M 1060.3,1745.4 Q 1071.8,1751.8 1083.7,1745.4" fill="none" stroke="#000" stroke-width="1" />
<line x1="1071.8" y1="1758.1" x2="1071.8" y2="1783.7" stroke="#000" stroke-width="1"/>
<line x1="1081.6" y1="1826.2" x2="1126.2" y2="1851.7" stroke="#000" stroke-width="1"/>
<path d="M 1063.3,1785.8 L 1063.3,1863.6 Q 1067.6,1859.4 1071.8,1863.6 Q 1076.1,1867.9 1080.3,1863.6 L 1080.3,1785.8 Q 1071.8,1780.3 1063.3,1785.8 Z" fill="#fff" stroke="#000" stroke-width="2.5" />
<polyline points="1013.5,1711.4 1164.5,1625.5 1062.5,1565.9 1166.6,1506.4" fill="none" stroke="#000" stroke-width="1" stroke-linejoin="round"/>
<line x1="1007.2" y1="1745.4" x2="1007.2" y2="1762.4" stroke="#000" stroke-width="1"/>
<path d="M 983.8,1717.7 Q 985.9,1709.2 996.5,1709.2 L 1028.4,1726.2 Q 1034.8,1734.8 1030.6,1743.3 Q 1022.1,1749.6 1013.5,1747.5 L 988,1732.6 Q 981.7,1726.2 983.8,1717.7 Z" fill="#fff" stroke="#000" stroke-width="2.5" />
<path d="M 983.8,1722 Q 983.8,1730.5 990.2,1736.9 L 1013.5,1750.5 Q 1024.2,1753 1031.4,1745.4" fill="none" stroke="#000" stroke-width="1.6" />
<ellipse cx="996.5" cy="1724.1" rx="3.8" ry="5.5" fill="#fff" stroke="#000" stroke-width="2.5" transform="rotate(-25 996.5 1724.1)"/>
<ellipse cx="1017.8" cy="1736.9" rx="5.1" ry="7.2" fill="#fff" stroke="#000" stroke-width="2.5" transform="rotate(-25 1017.8 1736.9)"/>
<line x1="953.2" y1="1758.1" x2="953.2" y2="1783.7" stroke="#000" stroke-width="1"/>
<line x1="975.3" y1="1734.8" x2="996.5" y2="1724.1" stroke="#000" stroke-width="1"/>
<path d="M 956.1,1742 L 973.1,1731.8 Q 977.4,1733.5 976.5,1739 L 960.4,1749.6 Z" fill="#fff" stroke="#000" stroke-width="2.5" />
<line x1="963.4" y1="1739" x2="966.8" y2="1745.4" stroke="#000" stroke-width="1.6"/>
<line x1="968.9" y1="1736" x2="971.9" y2="1742" stroke="#000" stroke-width="1.6"/>
<ellipse cx="954" cy="1747.5" rx="10.2" ry="5.9" fill="#fff" stroke="#000" stroke-width="2.5" transform="rotate(60 954 1747.5)"/>
<ellipse cx="949.8" cy="1749.6" rx="10.2" ry="5.9" fill="#fff" stroke="#000" stroke-width="2.5" transform="rotate(60 949.8 1749.6)"/>
<path d="M 945.5,1745.4 Q 950.6,1744.5 951.9,1750.5" fill="none" stroke="#000" stroke-width="1" />
<line x1="851.1" y1="1838.9" x2="851.1" y2="1856" stroke="#000" stroke-width="1"/>
<ellipse cx="857" cy="1826.2" rx="12.8" ry="7.4" fill="#fff" stroke="#000" stroke-width="2.5" transform="rotate(-60 857 1826.2)"/>
<ellipse cx="859.2" cy="1827" rx="11.9" ry="6.9" fill="#fff" stroke="#000" stroke-width="2.5" transform="rotate(-60 859.2 1827)"/>
<ellipse cx="859.2" cy="1827" rx="5.5" ry="3.2" fill="#fff" stroke="#000" stroke-width="2.5" transform="rotate(-60 859.2 1827)"/>
<line x1="713.7" y1="1738.6" x2="847.7" y2="1819.8" stroke="#000" stroke-width="1"/>
<line x1="866.8" y1="1830.4" x2="890.2" y2="1843.2" stroke="#000" stroke-width="1"/>
<line x1="913.6" y1="1877.2" x2="913.6" y2="1892.1" stroke="#000" stroke-width="1"/>
<path d="M 890.2,1839.8 L 915.7,1853.8 L 912.3,1862.3 L 886.8,1848.3 Z" fill="#fff" stroke="#000" stroke-width="2.5" />
<line x1="894.5" y1="1842.1" x2="891.1" y2="1850.6" stroke="#000" stroke-width="1.6"/>
<line x1="898.7" y1="1844.5" x2="895.3" y2="1853" stroke="#000" stroke-width="1.6"/>
<line x1="903" y1="1846.8" x2="899.6" y2="1855.3" stroke="#000" stroke-width="1.6"/>
<line x1="907.2" y1="1849.1" x2="903.8" y2="1857.7" stroke="#000" stroke-width="1.6"/>
<line x1="911.5" y1="1851.5" x2="908.1" y2="1860" stroke="#000" stroke-width="1.6"/>
<ellipse cx="917.9" cy="1861.1" rx="12.8" ry="7.4" fill="#fff" stroke="#000" stroke-width="2.5" transform="rotate(-60 917.9 1861.1)"/>
<path d="M 914.9,1851.7 L 928.5,1858.1 Q 937.8,1866.6 934.9,1875.1 L 924.2,1878.1 L 913.6,1872.1 Z" fill="#fff" stroke="#000" stroke-width="2.5" />
<ellipse cx="927.6" cy="1867.9" rx="10.2" ry="5.9" fill="#fff" stroke="#000" stroke-width="2.5" transform="rotate(-60 927.6 1867.9)"/>
<ellipse cx="929.3" cy="1868.7" rx="5.1" ry="2.9" fill="none" stroke="#000" stroke-width="1.6" transform="rotate(-60 929.3 1868.7)"/>
<line x1="761.4" y1="1401.8" x2="905.1" y2="1486" stroke="#000" stroke-width="1"/>
<line x1="862.6" y1="1343.5" x2="913.6" y2="1373.3" stroke="#000" stroke-width="1"/>
<line x1="698.1" y1="830" x2="698.1" y2="841.1" stroke="#000" stroke-width="1"/>
<line x1="756.3" y1="967.3" x2="800" y2="991.9" stroke="#000" stroke-width="1"/>
<path d="M 660.3,972.9 L 660.3,1137.9 Q 654,1145.9 655.6,1157 C 660.3,1171.3 679.4,1179.2 698.1,1179.2 C 717.5,1179.2 734.9,1171.3 739.7,1157 Q 740.5,1145.9 734.9,1137.9 L 734.9,972.9 Z" fill="#fff" stroke="#000" stroke-width="2.5" />
<path d="M 662.7,980 L 662.7,1141.1 M 732.5,980 L 732.5,1141.1" fill="none" stroke="#000" stroke-width="1" />
<path d="M 664.3,981.9 L 669,982.9 L 669,1016.2 L 664.3,1015.2 Z" fill="none" stroke="#000" stroke-width="1.3" />
<path d="M 664.3,1024.8 L 669,1025.7 L 669,1101.9 L 664.3,1101 Z" fill="none" stroke="#000" stroke-width="1.3" />
<path d="M 664.3,1112.1 L 669,1113 L 669,1159 L 664.3,1158.1 Z" fill="none" stroke="#000" stroke-width="1.3" />
<path d="M 676.2,982.7 L 684.1,983.7 L 684.1,1017 L 676.2,1016 Z" fill="none" stroke="#000" stroke-width="1.3" />
<path d="M 676.2,1025.6 L 684.1,1026.5 L 684.1,1102.7 L 676.2,1101.7 Z" fill="none" stroke="#000" stroke-width="1.3" />
<path d="M 676.2,1112.9 L 684.1,1113.8 L 684.1,1159.8 L 676.2,1158.9 Z" fill="none" stroke="#000" stroke-width="1.3" />
<path d="M 692.1,983.2 L 703.2,984.1 L 703.2,1017.5 L 692.1,1016.5 Z" fill="none" stroke="#000" stroke-width="1.3" />
<path d="M 692.1,1026 L 703.2,1027 L 703.2,1103.2 L 692.1,1102.2 Z" fill="none" stroke="#000" stroke-width="1.3" />
<path d="M 692.1,1113.3 L 703.2,1114.3 L 703.2,1160.3 L 692.1,1159.4 Z" fill="none" stroke="#000" stroke-width="1.3" />
<path d="M 711.9,982.7 L 719.8,981.7 L 719.8,1015.1 L 711.9,1016 Z" fill="none" stroke="#000" stroke-width="1.3" />
<path d="M 711.9,1025.6 L 719.8,1024.6 L 719.8,1100.8 L 711.9,1101.7 Z" fill="none" stroke="#000" stroke-width="1.3" />
<path d="M 711.9,1112.9 L 719.8,1111.9 L 719.8,1157.9 L 711.9,1158.9 Z" fill="none" stroke="#000" stroke-width="1.3" />
<path d="M 727.8,981.9 L 731.7,981 L 731.7,1014.3 L 727.8,1015.2 Z" fill="none" stroke="#000" stroke-width="1.3" />
<path d="M 727.8,1024.8 L 731.7,1023.8 L 731.7,1100 L 727.8,1101 Z" fill="none" stroke="#000" stroke-width="1.3" />
<path d="M 727.8,1112.1 L 731.7,1111.1 L 731.7,1157.1 L 727.8,1158.1 Z" fill="none" stroke="#000" stroke-width="1.3" />
<path d="M 661.1,1141.1 Q 698.1,1157 734.1,1141.1" fill="none" stroke="#000" stroke-width="1" />
<path d="M 634.6,939.5 L 635.2,949 C 639.7,969.7 671.4,983.2 698.1,983.7 C 725.4,983.2 757.1,969.7 760.6,949 L 761.3,939.5 Z" fill="#fff" stroke="#000" stroke-width="2.5" />
<ellipse cx="698.1" cy="939.5" rx="63.5" ry="36.5" fill="#fff" stroke="#000" stroke-width="2.5"/>
<path d="M 637.3,950.6 C 647.6,972.9 676.2,979.2 698.1,979.2 C 720.6,979.2 749.2,972.9 758.7,950.6" fill="none" stroke="#000" stroke-width="1" />
<path d="M 678.6,864.1 L 678.9,936.3 Q 698.1,953.8 717.5,936.3 L 717.5,864.1 Z" fill="#fff" stroke="#000" stroke-width="2.5" />
<ellipse cx="698.1" cy="864.1" rx="19.4" ry="7.1" fill="#fff" stroke="#000" stroke-width="2.5"/>
<path d="M 684.1,871.3 Q 698.1,882.4 712.7,871.3" fill="none" stroke="#000" stroke-width="1" />
<path d="M 687.8,842.7 L 687.8,866.5 Q 698.1,872.9 708.7,866.5 L 708.7,842.7 Z" fill="#fff" stroke="#000" stroke-width="2.5" />
<path d="M 687.8,843.5 Q 688.9,840.3 693.7,839.8 M 708.7,843.5 Q 707.9,840.3 703.2,839.8" fill="none" stroke="#000" stroke-width="2.5" />
<path d="M 688.6,846.7 Q 698.1,850.6 707.9,846.7" fill="none" stroke="#000" stroke-width="1.6" />
<path d="M 688.6,851.4 Q 698.1,855.4 707.9,851.4" fill="none" stroke="#000" stroke-width="1.6" />
<path d="M 688.6,856.2 Q 698.1,860.2 707.9,856.2" fill="none" stroke="#000" stroke-width="1.6" />
<path d="M 688.6,861 Q 698.1,864.9 707.9,861" fill="none" stroke="#000" stroke-width="1.6" />
<path d="M 688.6,865.7 Q 698.1,869.7 707.9,865.7" fill="none" stroke="#000" stroke-width="1.6" />
<text x="565.7" y="90.1">1</text>
<text x="652" y="139.3">3</text>
<text x="364.8" y="263.2">48</text>
<text x="521.6" y="354.4">46</text>
<text x="599.2" y="398.1">45</text>
<text x="652" y="427.3">44</text>
<text x="682" y="446.6">43</text>
<text x="723.9" y="471">42</text>
<text x="801.5" y="515.8">40</text>
<text x="391.4" y="542.8">47</text>
<text x="850" y="254.7">4</text>
<text x="905.7" y="286.4">5</text>
<text x="994.3" y="337.4">6</text>
<text x="1061" y="377.5">7</text>
<text x="1126.2" y="414">8</text>
<text x="1207.2" y="461">9</text>
<text x="1249" y="488.5">10</text>
<text x="1286.6" y="504.4">11</text>
<text x="1319.4" y="529.9">12</text>
<text x="1353.3" y="549.2">14</text>
<text x="1385.4" y="567">13</text>
<text x="875.8" y="560.9">41</text>
<text x="948.7" y="599.9">39</text>
<text x="1076.3" y="630.1">38</text>
<text x="1211.9" y="751.5">37</text>
<text x="1304.8" y="805.7">36</text>
<text x="1615" y="635.1">16</text>
<text x="1615" y="733.5">17</text>
<text x="1615" y="847.6">18</text>
<text x="1615" y="917.5">19</text>
<text x="1614" y="985.5">20</text>
<text x="1613.8" y="1035.9">21</text>
<text x="1613.8" y="1149.9">22</text>
<text x="1610.7" y="1329">23</text>
<text x="1610.7" y="1375">24</text>
<text x="1610.7" y="1442.8">25</text>
<text x="1610.7" y="1506">26</text>
<text x="1610.7" y="1581">27</text>
<text x="1291.7" y="1626.6">28</text>
<text x="1291.7" y="1705.6">29</text>
<text x="1291.7" y="1742">30</text>
<text x="1610.7" y="1849.3">31</text>
<text x="1610.7" y="1952.6">32</text>
<text x="1610.7" y="2089.3">33</text>
<text x="1610.7" y="2148.6">34</text>
<text x="1610.7" y="2207.8">35</text>
<text x="816.9" y="738.4">49</text>
<text x="618.2" y="751.2">51</text>
<text x="586.1" y="767.6">52</text>
<text x="540.6" y="796">53</text>
<text x="816.9" y="865.3">50</text>
<text x="816.9" y="1015.8">54</text>
<text x="285" y="965.5">55</text>
<text x="285" y="1166.6">56</text>
<text x="285" y="1330.7">57</text>
<text x="285" y="1398.7">58</text>
<text x="285" y="1440.7">59</text>
<text x="535" y="1423.4">60</text>
<text x="577" y="1486.2">75</text>
<text x="530.4" y="1513">73</text>
<text x="296.8" y="1610.3">61</text>
<text x="117.4" y="1638.7">63</text>
<text x="287.7" y="1678.8">62</text>
<text x="117.4" y="1748.1">64</text>
<text x="194.7" y="1861">65</text>
<text x="197.6" y="1964">67</text>
<text x="55.5" y="2046.8">68</text>
<text x="109.5" y="2073.4">69</text>
<text x="167.8" y="2170.7">71</text>
<text x="124" y="2195.5">70</text>
<text x="288.1" y="2225.4">72</text>
<text x="1060.4" y="1206.6">77</text>
<text x="829.4" y="1339.3">76</text>
<text x="728.6" y="1397.5">79</text>
<text x="693.8" y="1427.3">87</text>
<text x="923.4" y="1546.4">80</text>
<text x="923.4" y="1612.7">81</text>
<text x="665.7" y="1686.7">78</text>
<text x="948.9" y="1675.2">86</text>
<text x="1129.3" y="1765.4">82</text>
<text x="992.3" y="1776">84</text>
<text x="939.1" y="1807.1">85</text>
<text x="1129.3" y="1868.8">83</text>
<text x="834.1" y="1879.4">90</text>
<text x="899.6" y="1916.4">88</text>
</svg>
</body></html>
